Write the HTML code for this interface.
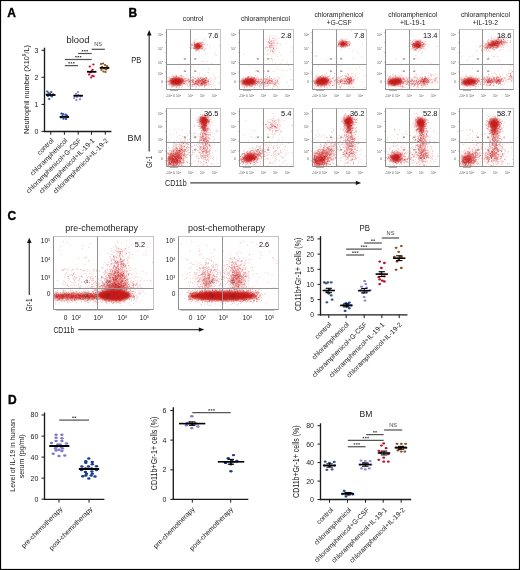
<!DOCTYPE html>
<html><head><meta charset="utf-8"><style>
html,body{margin:0;padding:0;background:#fff;}
svg{display:block;font-family:"Liberation Sans", sans-serif;will-change:transform;}
text:not([fill]){fill:#222;}
</style></head><body>
<svg width="520" height="570" viewBox="0 0 520 570">
<defs>
<marker id="d" markerUnits="userSpaceOnUse" markerWidth="8" markerHeight="8" refX="0" refY="4" overflow="visible"><rect width="8" height="8" fill="#cc2424" fill-opacity=".36"/></marker>
<filter id="b1" x="-50%" y="-50%" width="200%" height="200%"><feGaussianBlur stdDeviation="1"/></filter>
<filter id="b2" x="-50%" y="-50%" width="200%" height="200%"><feGaussianBlur stdDeviation="2"/></filter>
</defs>
<rect width="520" height="570" fill="#fff"/>
<text x="7.2" y="16.9" font-size="12" font-weight="bold" stroke="#000" stroke-width="0.35" fill="#000">A</text>
<text x="66.5" y="42.5" font-size="9" textLength="22.9" lengthAdjust="spacingAndGlyphs">blood</text>
<path d="M44.5 47.7L44.5 132.1" stroke="#1a1a1a" stroke-width="1.35"/>
<path d="M43.9 131.5L111.4 131.5" stroke="#1a1a1a" stroke-width="1.35"/>
<path d="M41.5 131.4L44.5 131.4" stroke="#1a1a1a" stroke-width="1"/>
<text x="38.4" y="133.8" font-size="7" text-anchor="end">0</text>
<path d="M41.5 104.4L44.5 104.4" stroke="#1a1a1a" stroke-width="1"/>
<text x="38.4" y="106.8" font-size="7" text-anchor="end">1</text>
<path d="M41.5 77.3L44.5 77.3" stroke="#1a1a1a" stroke-width="1"/>
<text x="38.4" y="79.8" font-size="7" text-anchor="end">2</text>
<path d="M41.5 50.3L44.5 50.3" stroke="#1a1a1a" stroke-width="1"/>
<text x="38.4" y="52.8" font-size="7" text-anchor="end">3</text>
<path d="M50.8 131.5L50.8 134.7" stroke="#1a1a1a" stroke-width="1"/>
<path d="M64.4 131.5L64.4 134.7" stroke="#1a1a1a" stroke-width="1"/>
<path d="M78.2 131.5L78.2 134.7" stroke="#1a1a1a" stroke-width="1"/>
<path d="M91.5 131.5L91.5 134.7" stroke="#1a1a1a" stroke-width="1"/>
<path d="M105.3 131.5L105.3 134.7" stroke="#1a1a1a" stroke-width="1"/>
<text x="28.6" y="89.5" font-size="7.8" textLength="89" lengthAdjust="spacingAndGlyphs" text-anchor="middle" transform="rotate(-90 28.6 89.5)">Neutrophil number (X10<tspan font-size="5" dy="-2.6">9</tspan><tspan dy="2.6">/L)</tspan></text>
<ellipse cx="47.3" cy="91.4" rx="1.2" ry="1.0" fill="#34507e"/>
<ellipse cx="51.2" cy="92" rx="1.2" ry="1.0" fill="#34507e"/>
<ellipse cx="49.9" cy="93.7" rx="1.2" ry="1.0" fill="#34507e"/>
<ellipse cx="47.9" cy="96" rx="1.2" ry="1.0" fill="#34507e"/>
<ellipse cx="51.8" cy="96.6" rx="1.2" ry="1.0" fill="#34507e"/>
<ellipse cx="49.2" cy="99" rx="1.2" ry="1.0" fill="#34507e"/>
<ellipse cx="46.6" cy="94.6" rx="1.2" ry="1.0" fill="#34507e"/>
<ellipse cx="53.2" cy="94.2" rx="1.2" ry="1.0" fill="#34507e"/>
<ellipse cx="50.5" cy="95.5" rx="1.2" ry="1.0" fill="#34507e"/>
<ellipse cx="48.5" cy="93" rx="1.2" ry="1.0" fill="#34507e"/>
<path d="M46.1 95L55.5 95" stroke="#000" stroke-width="1.8"/>
<ellipse cx="61.5" cy="113.6" rx="1.2" ry="1.0" fill="#1d48a0"/>
<ellipse cx="63" cy="114" rx="1.2" ry="1.0" fill="#1d48a0"/>
<ellipse cx="65.5" cy="114.5" rx="1.2" ry="1.0" fill="#1d48a0"/>
<ellipse cx="67" cy="115.5" rx="1.2" ry="1.0" fill="#1d48a0"/>
<ellipse cx="61" cy="117.5" rx="1.2" ry="1.0" fill="#1d48a0"/>
<ellipse cx="63.5" cy="118.8" rx="1.2" ry="1.0" fill="#1d48a0"/>
<ellipse cx="66" cy="119" rx="1.2" ry="1.0" fill="#1d48a0"/>
<ellipse cx="67.5" cy="117.3" rx="1.2" ry="1.0" fill="#1d48a0"/>
<ellipse cx="62.5" cy="116" rx="1.2" ry="1.0" fill="#1d48a0"/>
<ellipse cx="65" cy="116.5" rx="1.2" ry="1.0" fill="#1d48a0"/>
<path d="M59.7 116.9L69.1 116.9" stroke="#000" stroke-width="1.8"/>
<ellipse cx="78" cy="92" rx="1.2" ry="1.0" fill="#8c84d4"/>
<ellipse cx="76" cy="93.7" rx="1.2" ry="1.0" fill="#8c84d4"/>
<ellipse cx="74.7" cy="96" rx="1.2" ry="1.0" fill="#8c84d4"/>
<ellipse cx="74.3" cy="97.9" rx="1.2" ry="1.0" fill="#8c84d4"/>
<ellipse cx="76.4" cy="99.9" rx="1.2" ry="1.0" fill="#8c84d4"/>
<ellipse cx="79.9" cy="99.2" rx="1.2" ry="1.0" fill="#8c84d4"/>
<ellipse cx="78.2" cy="95" rx="1.2" ry="1.0" fill="#8c84d4"/>
<ellipse cx="80.5" cy="96.5" rx="1.2" ry="1.0" fill="#8c84d4"/>
<ellipse cx="77" cy="97" rx="1.2" ry="1.0" fill="#8c84d4"/>
<path d="M73.5 95.7L82.9 95.7" stroke="#000" stroke-width="1.8"/>
<ellipse cx="89.8" cy="66.5" rx="1.2" ry="1.0" fill="#c0102c"/>
<ellipse cx="93.4" cy="64.6" rx="1.2" ry="1.0" fill="#c0102c"/>
<ellipse cx="92.6" cy="69.8" rx="1.2" ry="1.0" fill="#c0102c"/>
<ellipse cx="89.1" cy="74.4" rx="1.2" ry="1.0" fill="#c0102c"/>
<ellipse cx="92.4" cy="75.7" rx="1.2" ry="1.0" fill="#c0102c"/>
<ellipse cx="91.1" cy="77.6" rx="1.2" ry="1.0" fill="#c0102c"/>
<ellipse cx="93.7" cy="76.3" rx="1.2" ry="1.0" fill="#c0102c"/>
<ellipse cx="90.4" cy="72.4" rx="1.2" ry="1.0" fill="#c0102c"/>
<ellipse cx="91.7" cy="71.1" rx="1.2" ry="1.0" fill="#c0102c"/>
<path d="M87 71.8L96.4 71.8" stroke="#000" stroke-width="1.8"/>
<ellipse cx="101" cy="64" rx="1.2" ry="1.0" fill="#8e5218"/>
<ellipse cx="103" cy="63.5" rx="1.2" ry="1.0" fill="#8e5218"/>
<ellipse cx="105" cy="65" rx="1.2" ry="1.0" fill="#8e5218"/>
<ellipse cx="107" cy="66" rx="1.2" ry="1.0" fill="#8e5218"/>
<ellipse cx="102" cy="67" rx="1.2" ry="1.0" fill="#8e5218"/>
<ellipse cx="104" cy="68.5" rx="1.2" ry="1.0" fill="#8e5218"/>
<ellipse cx="106" cy="69.5" rx="1.2" ry="1.0" fill="#8e5218"/>
<ellipse cx="101.5" cy="70" rx="1.2" ry="1.0" fill="#8e5218"/>
<ellipse cx="103.5" cy="71.5" rx="1.2" ry="1.0" fill="#8e5218"/>
<ellipse cx="105.5" cy="72" rx="1.2" ry="1.0" fill="#8e5218"/>
<ellipse cx="100.8" cy="68" rx="1.2" ry="1.0" fill="#8e5218"/>
<ellipse cx="107.5" cy="68.5" rx="1.2" ry="1.0" fill="#8e5218"/>
<path d="M99.9 67.8L109.3 67.8" stroke="#000" stroke-width="1.8"/>
<text x="54.2" y="141" font-size="6.8" text-anchor="end" transform="rotate(-45 54.2 141)">control</text>
<text x="67.8" y="141" font-size="6.8" text-anchor="end" transform="rotate(-45 67.8 141)">chloramphenicol</text>
<text x="81.6" y="141" font-size="6.8" text-anchor="end" transform="rotate(-45 81.6 141)">chloramphenicol+G-CSF</text>
<text x="94.9" y="141" font-size="6.8" text-anchor="end" transform="rotate(-45 94.9 141)">chloramphenicol+IL-19-1</text>
<text x="108.7" y="141" font-size="6.8" text-anchor="end" transform="rotate(-45 108.7 141)">chloramphenicol+IL-19-2</text>
<path d="M64.8 65.6L78 65.6" stroke="#555" stroke-width="1.25"/>
<rect x="68.4" y="62.1" width="1.5" height="1.4" fill="#444"/>
<rect x="70.7" y="62.1" width="1.5" height="1.4" fill="#444"/>
<rect x="73.0" y="62.1" width="1.5" height="1.4" fill="#444"/>
<path d="M64.8 59.5L91.7 59.5" stroke="#555" stroke-width="1.25"/>
<rect x="75.2" y="56.0" width="1.5" height="1.4" fill="#444"/>
<rect x="77.5" y="56.0" width="1.5" height="1.4" fill="#444"/>
<rect x="79.8" y="56.0" width="1.5" height="1.4" fill="#444"/>
<path d="M78 53.5L91.7 53.5" stroke="#555" stroke-width="1.25"/>
<rect x="81.8" y="50.0" width="1.5" height="1.4" fill="#444"/>
<rect x="84.1" y="50.0" width="1.5" height="1.4" fill="#444"/>
<rect x="86.4" y="50.0" width="1.5" height="1.4" fill="#444"/>
<path d="M91.7 49.3L104.8 49.3" stroke="#555" stroke-width="1.25"/>
<text x="98.2" y="46.2" font-size="5.6" text-anchor="middle" fill="#444">NS</text>
<text x="128.6" y="17" font-size="12" font-weight="bold" stroke="#000" stroke-width="0.35" fill="#000">B</text>
<text x="193" y="21.2" font-size="6.8" text-anchor="middle">control</text>
<text x="265.5" y="21.3" font-size="6.8" textLength="49" lengthAdjust="spacingAndGlyphs" text-anchor="middle">chloramphenicol</text>
<text x="339" y="17.3" font-size="6.8" textLength="49" lengthAdjust="spacingAndGlyphs" text-anchor="middle">chloramphenicol</text>
<text x="339" y="24.8" font-size="6.8" text-anchor="middle">+G-CSF</text>
<text x="412.7" y="17.3" font-size="6.8" textLength="49" lengthAdjust="spacingAndGlyphs" text-anchor="middle">chloramphenicol</text>
<text x="412.7" y="24.8" font-size="6.8" text-anchor="middle">+IL-19-1</text>
<text x="485.4" y="17.3" font-size="6.8" textLength="49" lengthAdjust="spacingAndGlyphs" text-anchor="middle">chloramphenicol</text>
<text x="485.4" y="24.8" font-size="6.8" text-anchor="middle">+IL-19-2</text>
<text x="131.2" y="63.2" font-size="8.6" textLength="10" lengthAdjust="spacingAndGlyphs">PB</text>
<text x="127.6" y="140.7" font-size="8.6" textLength="13.6" lengthAdjust="spacingAndGlyphs">BM</text>
<path d="M149.2 34L149.2 151.5" stroke="#444" stroke-width="1.3"/>
<path d="M149.2 30L146.9 35.4L151.5 35.4Z" fill="#111"/>
<text x="152.3" y="161.9" font-size="9" textLength="11.8" lengthAdjust="spacingAndGlyphs" text-anchor="middle" transform="rotate(-90 152.3 161.9)">Gr-1</text>
<text x="165.1" y="185.7" font-size="8.5" textLength="21.6" lengthAdjust="spacingAndGlyphs">CD11b</text>
<path d="M190.2 182.9L357 182.9" stroke="#444" stroke-width="1.3"/>
<path d="M361.2 182.9L355.8 180.7L355.8 185.1Z" fill="#111"/>
<rect x="166.5" y="29.5" width="54" height="60" fill="none" stroke="#c4c4c4" stroke-width="1"/>
<ellipse cx="176.5" cy="81.5" rx="7.0" ry="3.9" fill="#c21a16" fill-opacity="1" filter="url(#b1)" transform="rotate(-6 176.5 81.5)"/>
<path transform="scale(.1)" d="M2043 395l-9 14-12 10-54-22-22-7 0 27-5-11-37 33 4 9 6-3 2-15 0 12 1 4 13-16 1 1 8 12 0 6 2-9 0-12 0-8 1 16 0-12 1 25 1-5 1 2 1-2 0-2 0-1 1-13 0 18 0 2 1-5 5-7 0 12 1-4 3 1 0-10 0 2 2 11 1-7 1-2 2 10 0-6 0 6 1-10 0-1 1 8 0-5 2-2 0 8 1 1 0-2 1-1 0-21 1 23 1-20 0 14 1 6 0-3 0-10 1 0 0 8 0-2 0-8 0 6 1 8 0-2 1-8 0 4 1-4 0 11 1-3 1-12 0 12 0 5 1-5 0 2 1 2 0-4 1-6 1 0 1-2 0 3 0 9 2-8 0-4 0-5 0 17 1-22 1 1 0 17 0-18 2 17 0-3 2 9 2-5 1-11 0 13 2-14 1-4 0 6 1-11 1 14 2 11 3-16 1 4 0-5 2 5 3-6 0-2 6-6 0 17 2 7 2 3 3-28 1 24 2-13 4-3 1 16 5 0 10-6 4 10 20-3 119 14-92 8-60 9-7-13-4 8-3 3-3-3-2-13-1 8 0-17 0 7-3 7-2 5-1-19 0 15 0-12-1 2-1 0 0-4-1 18 0-8-1 11 0-2 0-7-1-12-2 18 0-8 0-11-1 9 0 7-1-13 0 9-1 1 0 16-1-15 0-12 0 6-1 1 0 11-1-16 0 17 0 5-1 2-1-7-1-21 0 21-1-10 0 7 0-7 0-1-1 12-1-10 0-12 0 26 0-20 0-3-1 6 0 14 0 3 0-1 0-7-1-13-1 16 0-10-1-2 0 10 0-7 0 15 0-15 0-4-1 9 0-17 0 13 0-12 0 28 0-16 0-6-1 21 0-11 0-13 0 2-1 4 0 8 0-18 0 6 0 1 0-2-1 9 0-2-1 4 0 1 0-15 0 26 0-22 0 14-1-15 0 6 0-6-1 15 0-10 0-2-1 0 0 11-1-10 0-8 0 16 0-7 0-9-1 8-1 10 0 10-1-14 0-2-1 14 0-27 0 14 0 11 0-6-1-18 0 1 0 24-1 1 0-9 0-17-1 8 0 18 0-14 0 14-1-15 0 0 0-5 0 6 0 5-1-15 0 18-1 4 0-22 0 12 0 6 0-9-1-3 0 2 0 4-1-1 0 6 0 0 0-14-1 11-1-5 0 7 0-2 0-5-1-9 0 6 0 2 0-9-1 19 0-16 0 19-1 1 0-9 0-10-1 17 0-15 0 5-1 7-1 3 0-14-1 14 0-5 0-8-1-7 0 25 0-20 0 3-1 10 0-18 0 7-1 11 0-10 0 7 0 8 0-14 0-1 0-5-1 17 0-17 0 8-1 5 0-6-1-4 0 1 0 2-1 2 0-12-1 16-1 5 0-9 0-1 0-6-1-3-1 16 0-3 0 11-1-16 0-10 0 12-3 12-1-9 0 11-1-24-1 18-1-13 0 3 0-1-1-4-6 4-3 17 0-20-1-2-3 18 0-21-2-2-9 9-4 19-2-21-3-4-16 19 21 10 19 1 4 2 0-6 1 2 4 2 5 0 0-1 0 5 1-3 1 2 4-5 0 26 1-21 0-6 3 7 1 7 1-3 0-7 1 13 4-17 0-1 1 20 1-17 1 0 0 19 0-2 0-9 1 18 0-29 0 4 1-4 1 11 1-7 1 6 1 1 0-6 1 5 2 4 2 4 0-11 0 1 1 10 3 0 0-10 0-5 0 4 2-6 0 2 1 0 1-3 0 1 2 5 2 2 0-3 3 4 0 0 2 13 3-20 0 2 1 2 4-2 5 8 7-11 2 3 2 2 0 0 1 4 7-4 0 4 3 2 8 14 5-7 5-8 6-4 103 43-161-8-9-11-31 1 97 29 94 6 15 10-140 59 14-3 34-1 45 20-180 27-44-15-103 34 127-8 178 10-7 19-56-7-304 56 133-4 134-13 85-9 7 7 48 14 49 28-40-3-77 11 0-4-3 3-1 1-5-11-2 6-8-24-12 21-18 6-5 1-5-7-14 6-3-6 0-21-10 21-5 6-22-8-17 6-2-12-9 7-9 7-27-22-12 10-37-5-3 6-11 3-7-19-2 11-1 18-1 0-3-21-2-2-7 0-5 23-12-2-19-10 0-4 0-10-3 12-1 7 0 7-2-29-1 6-3 17-5-8-10 6-3-8-1-13 0 14 0 7-18-11-17 19-18-7-8 2 4 26 13-12 2 15 1 6 3-24 3 0 2 11 0-2 2 14 0-4 1 1 3-2 1 6 0-6 2 1 1-18 0-5 0 27 2-12 0 13 3-23 0 15 5-9 1-3 1-5 0 5 0 5 1 9 1-10 1-7 2 16 0-6 0-1 0-10 4 15 1 7 5 2 0-27 2 27 0-28 1 12 3-10 0 17 0 7 1-23 2 9 1-13 0 26 0-12 0-14 3 18 0 11 4-24 3 13 1-10 0 18 1 1 2-20 0 18 0-10 4 11 1-9 1 12 1-5 1-8 1-9 1 0 1 4 0 15 0-5 1-7 0 11 2-6 0 0 1 10 1-27 3 11 4 4 0-7 1 18 2-3 0-16 3 10 1 9 2-18 3 3 0 2 1 11 3-4 1-2 3-14 0 15 1-5 5-11 2 3 1-4 3 16 1-2 2 7 0 4 1-8 0-11 1-4 2 18 2 0 0-8 1 11 1-11 3 13 1-1 1-16 3 16 1-27 1 20 0-9 5-8 3 13 5-10 1 16 4 2 0-22 0-2 8 25 0-20 2 22 1-17 2 10 4 8 4-9 1 0 1 9 1-26 2 12 4 3 1 1 1-9 7 18 1-5 3-10 3 7 5 7 7-3 1 5 1-3 2-7 0-8 4 5 2 7 3 3 1 2 0-14 3 1 4-15 7 5 1 16 6-14 3 6 3-5 1 21 2-25 1 23 3 2 3-4 2-11 1 15 0-6 1 3 3 0 1-14 0 16 2-8 2-11 2-4 1 24 0-16 2-7 1 17 1-14 1 15 0-18 1 19 0-3 1-2 0-11 1 11 0 9 1-1 0-11 1 3 2-4 5 4 1 3 1-22 2 1 1 24 1 0 0-4 1-19 1 0 0 4 2 17 1 1 0-1 3-7 0-4 1 5 0-8 0 11 3-3 0 8 0 1 1-10 2-4 1 2 1-15 2 28 0-9 1-18 0 28 0-3 1-10 1 6 0 6 0-22 1 22 0-17 1-8 0 14 1 8 0-8 0 5 1-10 2 1 1 14 0-12 2-3 2 3 0-10 1 5 1 1 0 3 2-7 0 12 1-17 1 25 0-2 1 4 0-18 2 9 2-15 0 18 0 6 2-1 0-11 0 11 0-5 1 5 0-23 2 23 1-4 0-5 1-2 2 3 2 3 0-21 0 24 1-21 2 9 0 14 0-4 1-17 11 1 3 17 0-7 5 4 2-8 11-1 10-7 9 15 16-13 18 6 6-13 38 55-10-11-43-9-3 21-13-7-15-10-6-5-15 4 0 12-2-18 0 18-3-18-1 12-1-14-1 5-3-4-1 8-1-8-4 25 0-27-1 14 0-6-1-8 0 19-1-6-2-1-2 7-3-16-2 17 0-6-1 4-1-2 0 7 0 1-1-12-1 7 0-5-1 5-1-1-1-12-1 6 0-12-1 2-1 19-1-6 0-8-1-4 0-1-1 15-1 7-1-5 0 5 0 4 0-15-1-9 0 4-1 15-1-9 0-9-1 15 0-5 0-12-1 16-2 0 0 5-1-20 0 14-1-5 0 15 0-24-1 15-1-13 0 13-2-10 0 4 0-2 0-1-1-9 0 21-1 4 0-12 0 4-3-6-1 1 0-12 0 11-1-10 0 10-1-3 0 20 0-17-1 10 0 6-1-23-1 21-1-11 0 8-2 4 0-6 0 5 0-6 0 9-1-4 0-14-1 14 0-7 0 2 0-11-1 1-1 12-1 4-1-16-1-9-2 6-1 22-1-27-1 0 0 27-1-2-2-21 0 10 0-15-2 18 0-9 0 19 0-9-4 5 0-11 0-9 0 15-2-15-2-5-1 23-2-11 0 5-1-12 0 12-2-13-1 3-3-1 0 4-1 6-1-7 0-6 0 14 0 6-1 5 0-13 0-10-1 21 0-17-1 5-1 6-1-13 0 6-3 7-2 2-2-6-1-9-3-3-1-3 0 19-1-8 0 14-2 0 0-16-1 12-1-9-1 11-1-12 0-7-1 18-1-20 0 4 0 17-1-1 0-16-2 17 0-16 0 14-1-18-1-3 0 22-5 0 0-3-2 5-3-5-1-10-1-10 0 14-1 7-5-8 0-11-1 18-3-15 0-3-1 3-2 6 0-9-1 0-2 13 0 0-9-7-7 14 0-17 0 12-1-13-1 17-1 3-1-5-1-19-3 5 0 8 0-7-1-4-3-1-1 7-2 15-2-11-4 2-2-6-1-5-14-3-3 3-1 20-3-8-4-5 0-9-8-1 0 19-1 9 0-23-1 5 0-6 0 20-5-12-2 14-2-4 0 2-4-15-3 12 0-14-1 18-1-14 0-9-5 0-4 18 0-13-1 5-3 16-4-4 0-17-1 11 0 11-1-2 0-1 0-24 0 14-1-16-1 18-1-13-1 2 0 10-1-4-1 0-1-2-1-9-2 17-1-12 0 18-3-23-2 9-1 18-2-28 0-1-2 17 0-7-1-3-3 4-1 13 0-2-1 2-1-4-1-12 0 2 0-6 0 25-1-17 0 9-1 5 0 0 0-5-1-10-1 4-3-6 0 5-4-1-1 10 0-14 0 14-1-6-2-8-2 6-1 0 0 7 0-2-1-18-3-1 0 4-2 2-1-1-3 17-2-15 0 6 0 1-1-12-2-1-2 9-5-8 0 19-2 0-2-20-2 6-4 7-2-8 0 18-1-14-1 16 0-15-1-1-1 16-3-10-1-8-9 9-1-16-9 13-2 14-4-26-3 16-2-19-3 5-3 24 0-25-4-4-1 10-2 6-2-13 3 39 10-8 4 1 1 14 20-10 4-9 1 9 1 8 2-12 5 18 4 6 0-18 3 9 1-19 2 5 3-4 3 12 3-14 1 18 2-18 2 18 10-14 1-4 0 6 3 20 2-23 5 9 3 6 0 1 6-11 1-6 0 1 6 0 0 11 3-2 3-10 1 3 1 6 1 16 3-24 1 14 1-16 3 3 0 11 4-1 11-1 0 12 3-21 16-2 14 0 4 11 4-6 13 9 2-14 5-1 1 23 11-12 1-11 2 14 7 9 0-24 6 8 3 5 8 11 2-17 0 18 1-24 2 9 0 2 1-7 4-4 3 25 4-22 3-3 1 6 2-1 3-6 2 10 0-2 3 0 1 7 4-15 1 2 6 1 2-3 1 4 2 24 2-21 0 7 3-14 1 5 1-3 1 1 2-1 3 14 2-16 2 12 0-3 0-9 5 21 1 7 0-20 1 3 6 10 2-19 3 8 2-3 1 4 2 5 1-12 2-3 2 9 1-5 3-2 0 15 1 0 0-4 2-9 4 6 1-3 0-7 3 12 2-6 0-5 1 5 5-7 7 24 0-15 1 6 1-10 1 9 2-4 1 15 3-25 2 8 1 5 4-1 0-4 1 2 1 6 3-14 1 2 3 2 11 4 6 7 1-13 7-2 14 2 7 20 3-22 27 13 10 31-91 1-17-15-85-2-3 9-145 0-17-7-12 9-16-6-5 0-43-3-3-2" fill="none" marker-start="url(#d)" marker-mid="url(#d)" marker-end="url(#d)"/>
<path d="M190.5 29.5L190.5 89.5" stroke="#939393" stroke-width="1"/>
<path d="M166.5 64.5L220.5 64.5" stroke="#939393" stroke-width="1"/>
<path d="M166.5 29.5L166.5 89.5" stroke="#8c8c8c" stroke-width="1"/>
<path d="M166.5 89.5L220.5 89.5" stroke="#8c8c8c" stroke-width="1"/>
<rect x="183.8" y="58.1" width="2.2" height="1.6" fill="#888" fill-opacity="0.75"/>
<rect x="194.1" y="58.1" width="2.2" height="1.6" fill="#888" fill-opacity="0.75"/>
<rect x="183.8" y="70.4" width="2.2" height="1.6" fill="#888" fill-opacity="0.75"/>
<rect x="194.1" y="70.4" width="2.2" height="1.6" fill="#888" fill-opacity="0.75"/>
<text x="163.0" y="36.0" font-size="3.4" text-anchor="end" fill="#555">10<tspan font-size="2.4" dy="-1.4">5</tspan></text>
<text x="163.0" y="49.8" font-size="3.4" text-anchor="end" fill="#555">10<tspan font-size="2.4" dy="-1.4">4</tspan></text>
<text x="163.0" y="63.6" font-size="3.4" text-anchor="end" fill="#555">10<tspan font-size="2.4" dy="-1.4">3</tspan></text>
<text x="163.0" y="75.4" font-size="3.4" text-anchor="end" fill="#555">10<tspan font-size="2.4" dy="-1.4">2</tspan></text>
<text x="163.0" y="82.9" font-size="3.4" text-anchor="end" fill="#555">0</text>
<text x="173.5" y="97.1" font-size="3.4" text-anchor="middle" fill="#555">-10<tspan font-size="2.4" dy="-1.4">2</tspan><tspan dy="1.4"> 0 10</tspan><tspan font-size="2.4" dy="-1.4">2</tspan></text>
<text x="190.5" y="97.1" font-size="3.4" text-anchor="middle" fill="#555">10<tspan font-size="2.4" dy="-1.4">3</tspan></text>
<text x="202.5" y="97.1" font-size="3.4" text-anchor="middle" fill="#555">10<tspan font-size="2.4" dy="-1.4">4</tspan></text>
<text x="214.5" y="97.1" font-size="3.4" text-anchor="middle" fill="#555">10<tspan font-size="2.4" dy="-1.4">5</tspan></text>
<rect x="170.0" y="90.1" width="8" height="0.9" fill="#888" fill-opacity="0.7"/>
<rect x="164.9" y="32.5" width="1.6" height="0.6" fill="#888" fill-opacity="0.7"/>
<rect x="164.9" y="42.3" width="1.6" height="0.6" fill="#888" fill-opacity="0.7"/>
<rect x="164.9" y="52.1" width="1.6" height="0.6" fill="#888" fill-opacity="0.7"/>
<rect x="164.9" y="61.9" width="1.6" height="0.6" fill="#888" fill-opacity="0.7"/>
<rect x="164.9" y="71.7" width="1.6" height="0.6" fill="#888" fill-opacity="0.7"/>
<rect x="164.9" y="81.5" width="1.6" height="0.6" fill="#888" fill-opacity="0.7"/>
<text x="218.5" y="37.5" font-size="7.5" text-anchor="end" fill="#111">7.6</text>
<rect x="166.5" y="108.5" width="54" height="58" fill="none" stroke="#c4c4c4" stroke-width="1"/>
<ellipse cx="203.7" cy="120.3" rx="3.4" ry="3.6" fill="#c21a16" fill-opacity="0.95" filter="url(#b1)"/>
<ellipse cx="204.0" cy="125.8" rx="2.2" ry="3.0" fill="#c21a16" fill-opacity="0.55" filter="url(#b1)"/>
<ellipse cx="174.5" cy="158.5" rx="8" ry="5" fill="#d02828" fill-opacity="0.4" filter="url(#b2)" transform="rotate(-45 174.5 158.5)"/>
<path transform="scale(.1)" d="M2019 1107l70 17-33 14-61 23 6 8 2-25 3 18 6 6 3-5 2-12 5-8 4 11 2-5 1 14 5 6 3-27 2 6 2 8 3 2 1-6 0 6 1-10 1 19 0 1 4-7 2-5 0 1 1 10 6-18 10 14 3-6 3 0 2 11 2-3 3 1 26-12 2 19-6 19-6 7-2-6-8-12-1 15-3-18 0-7-2 6-5 8 0 10-6-23-3 22-1-2-1 2 0-2-1 4 0-20 0-1-1-5 0 26 0-26 0 18-2-1-1 11-1 1 0-9-1 9 0-2-1-10-1-15 0 24 0 3-1-7 0 4-1-5 0 5-2-2 0-16-1 20 0-22-1 7 0 16 0-22-1 10 0 1-1 7 0-5 0-18-1 21-1-8 0-10 0 6 0 11-1-5 0 8 0-11-1 1 0-7-1 17 0-12 0 16 0-24-1 7 0 2 0 1-1-3 0 9-1-11-1 15 0-6 0-2-1 11 0 1 0-18 0-3 0 18-1-10 0 5 0 7-1-24 0 21 0-12 0 4-1-8 0-2 0 16-1-1 0 6-1-22-2 17 0-18 0 17 0 0-1-4 0-10 0 12-1-13 0 16-1 5-1-9 0-6 0 14-1-13 0-12 0 21-1-3 0 5 0 2-1-6 0 1 0-13-1 13-1-9 0 2-1 6 0-10-1 10 0-13 0 1-1 19 0-17-1-9 0-2 0 24 0 4-1-12-2 8 0 2-1-23-1 0 0 9 0-6-1 6 0 9-1-11-2 8 0 3-3 2 0-2-1 5 0-21-2 11-2-14 0 23-2-19 0 12 0 2 0-1-1 0-2-8 0 18-2-12 0-15-1 3-1 3-6 10-2 9-4-1-3-25-2 24-14-10-4 24 10 13 2 1 2-22 4 4 0 1 1 18 5 4 2-22 3 12 2-9 0-7 2 18 3-2 0-4 1 6 1-3 1 3 2-5 1-11 0 25 0-21 1 9 2-16 1 1 0 17 0 5 0-23 1 11 0 1 2 8 3 8 1-19 0-6 0 6 1-2 0-3 3 3 0 1 1 7 0 4 2-8 1 8 1 2 0 3 1-20 1 2 0 13 1-1 1 6 0 4 0-8 1 5 0-20 0 1 0 22 0-21 1 9 0 8 1-16 0-9 0 21 0-17 0 6 0 0 1-6 0 3 0 17 0 3 1-20 1 19 0-26 0 19 0-15 1 10 1-5 0 1 0-1 0 16 0-15 1-2 0 6 1 12 0-17 0 1 0-5 1 22 1-21 1-1 2 2 0 11 0-13 1 13 0 0 0-17 0 16 1-2 1 5 0 4 0-8 1 2 0-14 0 16 1 7 0-17 1 4 0-2 0 1 0-13 0 0 1 11 0 18 0-1 1-23 0 2 0-3 0-4 1 21 0 6 0-20 0 2 1 19 0-23 1 8 1-12 0 23 2-11 1 11 0-23 0 15 0 7 0-17 0-1 0 6 2 1 0 16 1-3 2 4 1 0 2-27 0 27 0-7 0-5 0-3 1 14 0-3 0-11 1 2 1 7 1-1 0-5 0-16 0 5 1-6 1 22 0-14 1-7 1 3 0-2 0 15 1-3 0-12 5 16 0-13 0 15 0-16 1 17 1-7 0 14 1-13 1 0 0-12 0-2 1 11 0 14 2-23 1 16 1-10 2 5 1 4 1 3 0 2 1-19 3 12 19 1 11 11-5 29-18-3-12-9-1-11-6 5 0-3-9 1-2 12-4 0-3-11-1 17-1-14 0-11 0 0-1 27-1-26 0 23 0 5 0-28-1 24-1-17 0-4 0 8-1-2 0-5-3 14 0 10 0-20-1 9 0-13-1 21-1-16 0 19 0-8 0 4 0-3-1-9 0 1 0-12 0 17 0 4-1-16-1-7 0 6 0 20 0-5-1-14 0 3-1 16 0-4-1-1 0-14 0 1-1 0 0 17 0-17-1 18-1 3 0-9 0 9 0-8 0 2-2-3 0-2 0-16 0 21-1-14 0-3 0 20 0-4-1-10 0 14-1-4 0-1-1 1 0-12 0-9 0 23 0-2-1-11 0-1 0 13 0-23-1 24-2-5 0 6-1-7 0 5-2 4-1-24 0 26 0-17 0-12-1 20 0 6-2-15 0-4-1 20 0-17 0 17-1-12 0 7-3-11 0 4-1-8-1 21-2-27-2 0 0 27-1-28-1 5 0 13 0-2-1-12 0-2-1 14-1-1-3-4-4 16-1-14-4-11-2 5-1-2 0-5-1 29-2-13-4-2-13 12-34-4-2 15 44-2 2 1 4-2 6-4 1 24 2-18 1 18 6-4 0-7 1-4 3-2 1-3 0 7 3 10 3-4 0-15 0 13 1 1 0-7 1 17 0-10 1-15 0 28 1-27 0 2 0 13 0-11 0 14 1-7 1 10 0-15 0-1 2 18 0-4 1-8 0-2 1-3 0 13 1-17 0 23 1-15 0-5 1 9 1-10 1 17 0 0 2-14 2 11 1-4 0-3 0 8 1-20 1 13 0 14 0-5 0-3 1-1 1 1 0 3 1-17 0 9 0 7 1-18 1 19 0-11 2 8 0-14 0 10 2-9 0 16 1-11 0 5 1-6 0 12 2-22 0 27 0-16 1-4 0 10 3 5 1-17 1 3 0 15 2 0 1-7 6-15 0 1 2 25 1-11 1 11 4-4 0 3 2-18 2 19 2-6 0-13 9 10 1 7 6-25 78 49-8 6-5-21-5 18-17-13-38 3-1-9-14 7 0-1-6-5-5 15-2-7-1-7-2-5-2 20-1-9-1 16-1-17-1 15-1-13-1 9-1-1-2-18-2-1 0 11 0-4-1-6-1 13-2-9-1 4 0-1 0 2-1-5 0-7-3 13 0 15 0-11-1-8 0 14 0-6-1-5-1-11-1 21 0 5-1-16-1 8 0 3 0-16-1-2-1 9-1 1-1-11-1-2 0 15-1 0-1-2-1-7 0 1-1 7 0-2 0 4 0-6-1-11 0 28-1-22 0 0-1 0-2-6 0 18-1-12-1-1 0 4-5 8-1-14-3 18-1 5-1-10-2 1-5-7-113 9-77-14-77-2-42 52 66-21 100 14 29-8 23 1 23 1 0 7 12-6 30 11 15-5 3-13 3 22 1-10 1 8 5-22 1-2 5 13 4 10 2-5 1 9 2-18 1 3 1-14 1 14 0 4 1 11 2-23 2 17 4-21 1 17 1 2 2-2 0-5 4 1 1-8 1 11 2 1 0 7 0-4 2 1 0 0 2-4 1-11 2 18 0-16 3 14 2-7 3-15 2 21 1-11 1 11 4 1 5-21 5 24 0-26 1 28 4-4 5-2 4-15 4 1 1 14 17-17 23 13-13 26-28-10 0 23-19 0-1 1-2-21 0 12-3-13-4 6-5 6-5-18-1 20-2 6 0-8-2-12-4 1 0 11-1 6-3-2 0-18-8 13-4-13 0 23-3-8-1-3-3-4-1 2-3-7 0-2-2 2-1 20 0-10 0-4-1-1-2 7-6 5-3-7-1-14 0 6 0 16-1-4-2-2-2-1-6 3-5-5-36-2-11-2-14 9-4-14-21 4-8 1-23-5-35 5-17 2-32-11-24 20-87 29 80 3 34-17 15 0 35 16 0-19 2 11 4-11 18 22 1-14 26 0 6-11 51-2 39 18 1-8 4 18 1-4 2-3 1-9 2-13 3 11 0-1 1 16 0-1 4 3 3-9 2-9 1 11 0-20 0 19 0-10 2 2 6-1 0-10 3 8 1 16 0-23 1 25 1-5 0-1 1 6 0-25 2 15 0-9 2 12 0-8 1 10 0-1 1 7 0-17 2-1 3 9 1-11 0-1 2 22 0-19 3-5 1 5 0-2 2 0 1 8 1-6 3 15 0-19 1 12 2-13 4 6 1 8 0 10 1-22 1 5 0-11 4 23 3 0 1 1 1-13 3 13 7-21 1 17 5-14 3 2 38 19 10-12-57 23 0 3-1 0-6-9 0 0-6 20-1-13 0 13-2 1 0-15-2 5-1 1-3-11-2 9 0-8-1-4 0 6 0-6 0 21-3-14-1 2-1 11 0 7-1-13-1 2-2-15 0 16 0 9 0-7-2-17 0 25-1-14-2 2 0-1-3-15 0 29-2-29-1 0 0 12-3 3-5-12-1 6-8-2-5 18-2-12 0 14-10-5-6-5-4-2 0-7-4 13-1-17-3 17-4-19-10 21-1-11-55 9-4-7-15 4-20 11-13-5-2 0-9-1-4-13-5 0-5 8-2-5-4-7-4 19-1-2-1 3-1 1-5-16-2-2-3 11-3-8-1 1-1 9-8-2-5-18-8 26-2-14-10 2-2 1-2-5-22 8-14-18 0 21-7 5-3 22 1 1 3-11 13 11 2-5 2-11 9 6 1 11 2-17 15-1 3 22 8-8 6-13 2 2 1 14 0-8 7 8 2 2 0-7 2 4 3-8 1-5 7 22 1-25 2 23 0-5 9-7 3 12 2-5 4 5 0-5 3-8 4-12 9 9 2-11 10 23 2-22 2 23 5-19 2 2 13 12 5-13 16 17 5 5 20-13 4-6 17-2 5 4 6 15 13-17 6 6 2 13 8 0 3-25 7 24 12-19 3-8 0 0 1 29 1-28 0 17 2-1 2 9 2-26 4 23 5-7 4 11 1-8 2-11 1-7 0 14 3-5 2-6 1 11 2-11 0-4 0 11 2 12 4 1 2-3 3-17 1 24 4-11 5-15 3 8 1-9 4 18 1 10 2-14 0-13 2 20 0-9 0-11 4 13 0 3 5-17 2 25 15-11 27-4 27 48-63-21-8 6-10 13 0-3-16-14-3 3-2-9-1 18-2-11-2 18 0-5 0-19-4 18-9-19-3 3 0 14 0-4-1 0-1 10-1-8-3 9-2-22-1 7-3-8 0 11-2 7-2-7 0 4 0-11-1-9-2 9 0 6-4-8-2 16-1-23 0 28-3-3-6-7-4-5-3-10 0 9-3-12-1 2-2 21-1-20-2 15-1-18-4 15-3 5-12-16-27 13-47-8-3 11-15-12-3-5-4 4-2 20-8-16-4-2-3 0 0 20-1-22-5-1-14 16-3-17-4 4-6 19-3-8-4-5-5 2 0 3 0-6 0 13-1-22-1 23-4-1 0-1 0-25-1 23 0-1-2-21-2 23 0-12 0 14-1-24 0 14-2 11-2-18-1 15-5-7-2-2-3-12-1 24-2-26-1 14-10 13-6-8-1-20-1 22 0-12 0 5-3-8-1 10 0-5-5-9 0 5-1 6-1 13-4-4-2-2 0-17-5 11 0 4-3-20-1 25-7 1-1-11-5 5-5-16-3 20-35 5-3-17-2-7-9 46 6 3 15-15 1 12 8-16 5 23 3-21 1 7 4 3 0-12 5 16 7-2 0-7 1-6 2 4 1-5 1 17 1-9 1 3 1 3 8-15 2 7 0 16 1-23 2 24 2 0 1 0 3-9 4-8 1-8 1 6 1-2 0 20 1-24 0 8 1 9 2-19 2 26 0-8 1-2 1-9 1 11 0 8 2-18 2 17 1 1 3-26 0 5 1 7 0-9 2 9 2-2 0 18 0-2 1-16 2-8 2 21 1-19 0-2 1 1 1 18 0-21 1 11 0 12 1-15 0 1 1 4 1-3 1-7 0 25 1-20 1 9 1-11 0 22 0-21 1 5 2-1 1-10 3 21 0-6 1-3 2-11 0 25 3-18 1 11 2-18 4 3 2 2 0 11 0 7 2-24 0 25 1 0 3-11 1-9 0 6 3 1 4-4 1 11 2-21 1 15 0 4 2 0 2 3 3-8 7-5 8 8 3-1 6-15 3 20 4-19 4 24 5-23 6 23 8-12 2 4 17 2 2-14 0 23 4-9 15 6 25-24 13-1 0 3 1 25 10-10 2 10 1-4 5-25 6 26 4-24 6 2 0-3 2 15 4-2 1 7 2 2 1-8 3 2 0-16 2 19 1-6 3-1 2-5 3 1 3 9 0-5 3 6 4-10 1 1 0 9 1-13 1 18 9-13 0-8 1 20 0-18 1 6 2 17 0-17 0 6 2 9 2-11 4 9 2-13 3 15 1-13 1 11 0-21 0 11 7-4 5 13 2-6 1-8 3 1 7-7 45 6-25 21-30 6 0 0-3 12-6 6-5-7-1-6-6 8-3 7 0-12-7-10-2 25-2-11-1-18-2 23 0-23-1 6-2 14-14 0-1 6-1-6-1-11-4-6-3 19-3-19-2-3 0 23-10-17-4 20-4-19-1 3-3 14-3-4-32-1-46-2-10 4-18 5-13-21-3 9-7 2-9 5-2-2-7 7-3-10-4 4-1 8-1-23-1 22-1-13 0-8-1 0-2 9-2-2-1 10-1-3-2 4-1 5-1-7-1-15-4 11-2-2-5-12 0 1-1 13-4 9-1-18 0 15-1-12-1-2-2-6-1 16-1 6-1-17-4 20-1-18 0 11-1-12-1-10-1 9 0-3 0 6-1 7-2-3 0 11-1-12-1 11 0-2-3-2-1 4 0-16-1 8 0-6 0-9-1 16-1-1-1 1 0-16 0 18-1 2-1-5-1 11 0-19-1-3-1 22-3-10-1-19 0 27 0-25-1 27 0-28-1 16-1-15-1 19 0-20-1 28 0-29 0 14-1-10-1 12 0 3-1 10 0 0-3-21 0 5-2 11 0-7 0-15-1 5 0 14-1 6-2-4 0-23-2 13-1-5 0-1-1 6-1-6 0 15-3-3 0-3-1-3-1 9 0-16-2 5-2-1 0 12 0-1-1-9-2 10-4 0-3-16 0 7-1-10 0 19 0-22-1 19 0-15 0 13 0 9-1-5-1 4 0 0 0 3-4-4-1 5 0-24-2 10-1 2 0-5-1 14-1 0 0 3 0-12-3 12 0-2-1-23-1 23 0-27-1 12-2 15-2-24 0 9-1-6 0-4 0 18 0 8-1-19-1-6 0 13-1-10-2 23 0-28-2 13 0 12 0-11-2 2 0-3 0 6 0-3-6-6 0 6-1 9-4-3-2-18-5 10-2-10 0 5-1 12-3-16-3-5 1 52 0 2 7 3 1-1 0-22 1 7 0-1 0 15 0 2 0-8 2-7 1-4 0 2 1 16 1-16 1-1 1 14 0-15 0 12 1-18 2 12 0 9 0-8 1-6 0 0 1 12 0-20 0 25 1-6 1-13 0 17 1-12 0 2 2 14 0-22 0 8 0-9 1 14 2 3 1-7 1 10 1-17 0 11 0-15 1 19 3-1 0-5 0 8 1-12 1-14 0 23 1-17 0 20 1-9 1-3 0 15 1-25 0 6 1 5 0-11 1 3 0 8 1-9 0 11 0 9 0-3 1-9 0 10 0 5 2-8 1-21 0 19 0-2 1 1 0-2 1-3 0 0 1 12 0-2 2-20 1 3 2-5 0 26 0 0 1-20 1 19 1-22 4 6 0 19 2-24 0 12 0-9 2 17 1-12 0-7 0 12 1-11 0-3 1 7 0 1 1-8 0 5 0 0 2-7 1-1 0 14 1 13 0-2 0-2 0 4 1-14 0 13 1-18 2 5 0-10 0 22 0 3 0-9 2 7 0-21 0 1 1 12 0 2 0 4 1-9 0-14 2 2 0 6 0 1 1 18 1-5 0-20 1 23 0-5 1-14 1 12 0 8 1-12 0-3 1 13 0-18 0-1 0 19 3-6 1-11 1-6 0 1 1 12 0 2 0-8 0 8 1 3 1-21 1 5 0 6 3 11 0-1 0-8 0-1 3-9 0 22 0-17 1 13 1-5 0-11 0 19 1 4 0-7 1-16 1 6 1 0 0 18 1-10 0 5 0-12 1-2 0 7 0-1 3 11 1-22 0 0 1 21 0-9 0 1 1 2 0-3 4-11 1 20 0-17 0 17 1-20 2 13 0-11 1 3 0 1 1 4 1 5 0-12 0 15 2-3 0-3 1 7 1-10 1-1 0-2 1 12 0 2 0-3 1-20 1-3 0 26 9-24 1 23 3-9 0 11 3 1 1-20 7 1 0 11 8 0 1-15 5 4 3 5 8 5 2-8 6-11 30 17 2-11 5 13 55-14 1 18 0-21 18 10 3 11 1-2 17-15 4-5 1 9 1 5 3 11 3 3 2-29 0 19 7-12 0 1 1-7 7 10 2 2 1 14 9-17 0 4 1-14 0 2 3 20 0-7 1-14 4 18 6 0 1-18 11 0 1 3 4 18 3-17 0 9 18-14 2 0 1 20 13 0 8 4 8-12 39 15-38 10-48 22-2-15-3-10-2 7-4-10-9 13-2-4-5-2-5-1-8 1-9-8-1 20 0 9-33-2-14 2-6-2-2-10-30 2-13 8-32-13-34 15-4-3-27-10-1 9-2-11 0-5-4-9 0 19-2 1-2-14-2-5-1 13-5-12-4 7-1-8-2 18-2-17-6 15 0 7 0-22-1 19-2-16-1 23 0-8-2-7-1 15 0-17-1-6-2 16-1-1-1 2 0 7-1-12 0 8-1-25 0 17 0-4-1 2 0 0-1-4-1-10-3 12-2 11-1-21 0-3-2 2-1 12 0 4-1 0-1 4 0 6-2-23 0-1 0 15-1 9 0-12-1-5 0 4 0-7 0-1 0 7-1-2 0 16 0-12-1 7 0 5 0-26 0 3 0 20-1-3-1 1 0 0-1-2-1-9 0-1-1 6 0 3-1-3 0-8 0 7 0 6-1-8-1 1 0 5 0-13 0 2 0 11 0-5 0-3-2-5 0 5 0-10 0 12 0 14-1-10-1 11-1-16 0 16 0-26 0 2 0-3-2-1-3 0 0 24-2-18-1 1 0 14 0 2 0-8-1 3-1-4 0-10 0 9 0-10-1 17-1-20 0 10-1 15 0-18 0 0 0 12 0-5-1-3 0-6 0 18-1 4-1-4 0-1-1-5 0 4 0 4 0 0-1-5 0-10 0-9-1 10 0 14 0-18-1 11-1-15 0 10 0 13-1-21 0 22-1-14 0 14-1-26-1 2 0 17-1 3-2-23 0 21 0-17 0 6 0-8-1 21 0-15 0 8 0-15-1 1-2-2 0-1 0 1 0 8-1-6 0 14-1-7 0 3 0-5-1-2 0 5-1 4-1-6 0 14-1 2 0-23 0 11 0 13 0-13-1 13-1-4 0-1-1-8 0-13 0 2-1 13 0 12-1-4 0-21-1 22 0-7-1-2 0 11 0-20-2 18-1 3-3-22-2 2-2 14 0-11-1-4-1-4-1 11-1-10 0 14-1-11 0 20 0-18-2-6-1 27 0 0 0-25-1 12 0-13 0 13 0 0-1-13 0 25-2-9-1-14-1-1-2 18-1-8 0 3-4-12-1 14 0-18-1 4-1 12 0-3-3 11-1-9 6 19 0 22 1-23 3 25 0-15 1-2 0-5 1 10 2 2 0 2 0 5 1-7 2 9 1-28 0 4 1 17 0-12 1-5 0 18 1-9 1 0 0-6 2 18 0-1 0-12 2 10 2-10 1 3 0-1 1 10 1-7 3-17 3 2 0 1 1 4 1 9 0-15 0 4 1 17 0-22 0 0 0 10 0 15 0 1 2-25 1 5 1 22 0-28 0 10 2-7 0 8 7 11 0 4 1-21 0 8 0 8 1-6 0-8 1 13 0-13 0 7 1-2 1-10 0 2 1 12 0 10 3 2 0-20 2 5 2-11 2 8 1-10 0 22 2-19 0 5 3 19 0-24 0 15 1-17 0 4 0 9 0-13 0 12 1-8 1 1 0 0 0-3 1 0 1 12 1-2 1-11 0 12 2-9 0 14 1 5 1-10 1-4 2 8 0 7 1-6 1 4 1-3 1-15 0 1 0 1 1-6 1 9 0-4 1 19 0-18 1 6 1 1 0 2 0-5 1 16 0-16 3 11 0-20 2 16 0-10 1-5 0 26 2-25 5-4 0 7 1-1 2 18 0-19 1 19 2-10 2 2 1-13 0 0 3-2 1 0 0 17 3-14 1 8 3-12 1 19 2-14 2 18 1-11 2 8 2-20 1 1 0 6 2 5 2 4 2-9 5-6 1 4 3 10 2-6 3-8 7 6 27 2 4-8 1 7 18 8 14-3 2 5 61 7 28-15 11-3 7 10 10 11 5-8 27-16 3 2 1-1 5 5 46 13 2-6 22 11 31-17-97 23-44 1-199-1-12 2-5-3 0 0-17 1-9 4-2 1-1-8-8 1-14-2-2 3-1 4 0-6-2 5-6-5-6 4-1 4-3-7 0 6-4-6 0 4-2 2-2 0-3-3-2 3-1-5-8 0-10 0-5-2-20 6-4-3-1-3-3-1" fill="none" marker-start="url(#d)" marker-mid="url(#d)" marker-end="url(#d)"/>
<path d="M190.5 108.5L190.5 166.5" stroke="#939393" stroke-width="1"/>
<path d="M166.5 142.5L220.5 142.5" stroke="#939393" stroke-width="1"/>
<path d="M166.5 108.5L166.5 166.5" stroke="#8c8c8c" stroke-width="1"/>
<path d="M166.5 166.5L220.5 166.5" stroke="#8c8c8c" stroke-width="1"/>
<rect x="183.8" y="136.5" width="2.2" height="1.6" fill="#888" fill-opacity="0.75"/>
<rect x="194.1" y="136.5" width="2.2" height="1.6" fill="#888" fill-opacity="0.75"/>
<rect x="183.8" y="149.0" width="2.2" height="1.6" fill="#888" fill-opacity="0.75"/>
<rect x="194.1" y="149.0" width="2.2" height="1.6" fill="#888" fill-opacity="0.75"/>
<text x="163.0" y="115.0" font-size="3.4" text-anchor="end" fill="#555">10<tspan font-size="2.4" dy="-1.4">5</tspan></text>
<text x="163.0" y="128.2" font-size="3.4" text-anchor="end" fill="#555">10<tspan font-size="2.4" dy="-1.4">4</tspan></text>
<text x="163.0" y="141.2" font-size="3.4" text-anchor="end" fill="#555">10<tspan font-size="2.4" dy="-1.4">3</tspan></text>
<text x="163.0" y="152.7" font-size="3.4" text-anchor="end" fill="#555">10<tspan font-size="2.4" dy="-1.4">2</tspan></text>
<text x="163.0" y="160.2" font-size="3.4" text-anchor="end" fill="#555">0</text>
<text x="173.5" y="174.1" font-size="3.4" text-anchor="middle" fill="#555">-10<tspan font-size="2.4" dy="-1.4">2</tspan><tspan dy="1.4"> 0 10</tspan><tspan font-size="2.4" dy="-1.4">2</tspan></text>
<text x="190.5" y="174.1" font-size="3.4" text-anchor="middle" fill="#555">10<tspan font-size="2.4" dy="-1.4">3</tspan></text>
<text x="202.5" y="174.1" font-size="3.4" text-anchor="middle" fill="#555">10<tspan font-size="2.4" dy="-1.4">4</tspan></text>
<text x="214.5" y="174.1" font-size="3.4" text-anchor="middle" fill="#555">10<tspan font-size="2.4" dy="-1.4">5</tspan></text>
<rect x="170.0" y="167.1" width="8" height="0.9" fill="#888" fill-opacity="0.7"/>
<rect x="164.9" y="111.5" width="1.6" height="0.6" fill="#888" fill-opacity="0.7"/>
<rect x="164.9" y="121.3" width="1.6" height="0.6" fill="#888" fill-opacity="0.7"/>
<rect x="164.9" y="131.1" width="1.6" height="0.6" fill="#888" fill-opacity="0.7"/>
<rect x="164.9" y="140.9" width="1.6" height="0.6" fill="#888" fill-opacity="0.7"/>
<rect x="164.9" y="150.7" width="1.6" height="0.6" fill="#888" fill-opacity="0.7"/>
<rect x="164.9" y="160.5" width="1.6" height="0.6" fill="#888" fill-opacity="0.7"/>
<text x="218.5" y="115.8" font-size="7.5" text-anchor="end" fill="#111">36.5</text>
<rect x="239.5" y="29.5" width="54" height="60" fill="none" stroke="#c4c4c4" stroke-width="1"/>
<ellipse cx="249.0" cy="81.7" rx="7.0" ry="3.7" fill="#c21a16" fill-opacity="1" filter="url(#b1)" transform="rotate(-6 249.0 81.7)"/>
<path transform="scale(.1)" d="M2746 358l-51-10-7 22 2 8 26-17 8 23 3 0 5-3 18-7 30 12 83-23-106 38-9-8-9 15-4-2-6 2-4 11-10-15-3 10-2-5-5 5-6 1-5-16-1 11-1-13-1-4-11 24-1-8-21 7-2-19-34 32 45 13 7-14 11 3 1-11 1 3 0 3 0-3 3 14 1-2 6-4 6 17 1-13 0-6 1 5 6 5 3 1 1 9 1-8 1-9 1-7 14 6 3-3 2-1 2 10 24-1 3-14 4 12 24 3 6 11 113 31-148-10-1-18-12 4-15 17-1 1-1-18-7-2-7 24 0-9-3-16-1-1-3 13-1-9-2 17-2-14-3 20-2-25-6 18-2-10 0-6 0 10-1 8 0-1 0 2-4-12 0-5-1 4-17 12-1 1-9-1-7-5-6 12 2 0 15 26 14-10 16-10 1 17 1 4 15-17 3 13 3 2 9-23 0 16 1-16 2 5 0-1 10 6 6 12 13-18 146 32-116 8-44 5-14-18-6 15 0-13-1-1-2 1-7 4-17-8-6 19-18 9-40-3-202 7 239 0 42 16 52 3 37-12-64 42-23-4-7-2-1-2 10 16 2 20 102-15 44 22 14 30-75-19-59 2-260 18 70 22 207 9 134 2-33 18-33-6-36-6-65 19-88 0-81-10-11 4-60 21 100-8 228 39-35 9-17 5-75-11-2 14 0-2 0-11-19 13-1-26-6 15-12-2-75 10-8-6-12 5-6-22-12 22-4 1-12-3-9-9-5 10-13-13-10 7-2 7-1 4-2-12-3 3-4 1 0 4-1-6-44 5-27 29 7-3 2 3 3-17 2 18 2 2 1-7 3-12 4 13 0 1 5-2 1 2 2 5 8-6 2 5 3-9 1 7 1-22 0 9 0 0 3 19 0-19 4 16 1-15 2 7 0 8 1-21 2 15 1 7 2-19 1 7 1 2 2-15 3 1 0 8 2 18 1-8 1 2 1-22 0 14 2 12 1-3 1-8 1 10 1-1 2-1 3 3 3-6 1-4 2-4 1-6 1 5 0 0 3-7 2 14 5 6 0 0 1-22 1 9 1-3 0 4 1 3 0-12 1 8 1 12 1 1 0-5 0 2 1-1 2 7 0-18 2 6 2 12 1-19 1 15 0-7 0 10 0-15 3 8 1-3 0 0 0 3 2-2 0-12 0 23 2-3 1-16 0 14 3 0 1-22 2 0 1 23 0-18 4-2 0-4 4 23 1-14 2 1 0 15 0 2 2-7 3-8 3 9 0-8 2-10 1 13 8-9 2 4 8 11 2-9 2-8 1 12 5-8 1 17 3-12 4 12 7-11 3 1 1-8 0 7 3 4 2-16 3 19 7 4 0-9 6 1 12-10 4 6 1-7 3 18 0-19 4 22 2-12 3-6 1 18 1-15 1 2 0-12 3 18 7-7 0-4 1-1 1 14 6 2 4-9 0-11 1 17 5-11 2 12 2-2 1 3 1-11 1 12 1-2 2-17 1 2 1 16 1 4 6-3 1 2 2-18 0-4 4 17 0-2 1 3 7-4 2-7 8-5 4 7 5-15 6 22 3 3 4-4 4-10 11 12 2-1 4 4 4-14 12-6 117 14 5-5-44 32-85 8-8-23-4 8-3-4-1 21 0-12-10-11 0 6-3 11-2 3 0-2-4-10-3 0-2 5-2 0-1 11-5-21-2 21 0-3-8-23-1 4-1 6-1 15-2-18-2-9-1 11-5-7-1 21-1-15 0-6-4-1-1 12-1 8-3-4-3-7-1 11 0 4-4-9-1-11 0 21 0-23-4 20-2-4-2-18-1-1-1 12 0-7-1-7-3 9-1 3-2 10-1-21-2 4-1 14-1-2-1 6-2-1 0 4-1-10-2 4-1 2 0-11-1-8-9 9 0 16-1-19-1 10-1-14-2-3-1 21-1 6-2-10-2-6-1 4 0 1-3-2 0 6-1-20-2 14-1-8 0 9-3 1 0-18-1 13-1 8 0-21-5 28-1-11-3 2 0-5-2-10-1 6-2 9-2 1-1-8-1 1-1 6-1-8 0 1-3 13-6-23-2 2-1 2-3 21-1 1-5-13-1 0 0 8 0-22-2 3-3 11 0-5-2-2-2-5-1 7-1-9-1 28 0-1 0-3-2-5 0-18-2 8 0 4-2-11 0 11-1-9-3 0-3 1 0 0-2 17 0 5-2-8-1-11-1 15-2-1-2-23 0 13-5 12-2-6 0 0 0 10-1-11 0-6-1 2-1 9-1-18 0 10-1-13-2 14-2-9-2-3-1 17-1-13-1 0-4 10-1 0 0 4-1-3-3-12 0 7-1 8-1-18 0 0-1 8-2 14 0-6 0-10-1 15 0-23-2 14 0-6-1-7-1 23 0-15-1 18-1-5-1 1-1-17 0-8 0 26-1-12 0-11 0 8-3 4-2 14 0-12-4-10-3 22-2-8 0-7-2-2 0 10 0 0-1-14-1 17 0-6-1-12-1 9 0-13-1 18-1-16 0-5 0 6-1 6-1-4-1 19-1-25 0 9-1 15 0 3-1-24-1 11-2-2-1-6 0-3-3 16-2-3 0 9-1-27-2 24-1-23-1 6 0-7-1 5-1 2-3 15-2-15-1 4-2 1 0 6-1 7-2-10 0-10-2-1 0-3-1 5-1-1 0 12-1-2-3 13-3-28-1 12-1 2-1-6-1 4-1 6-1-15-1 26-1-10-1-17-1 23 0-11-1-13-4 8-1 9 0-9-1-6 0 7-2 8-2 0-1 8-5 3-1-20-6-4-2 2-1 22-1-23-2 7 11 19 4-1 5 16 5-15 3 3 7-2 0 25 3-28 2 27 0-18 8 0 3-8 3 3 3 10 2-2 0-12 1 28 8-5 3-9 1-6 0-4 8 0 5-3 1 11 2 4 0-14 7 22 0-15 1 2 9 17 2-11 0 8 1-11 6-9 1 2 3 14 0-20 1 6 0 6 5 5 1-12 5 2 0-2 7 6 2-7 1-4 4 2 5 10 1-4 2-8 14 17 0-14 4 3 15 15 3 0 5-4 1-15 5 0 1-3 3 15 1 6 6-3 0-18 9 8 3-7 6 24 4-15 1-6 4 17 2-19 6 17 5 8 13-12 0-14 1 24 10-4 0-21 2 14 1-13 0-1 19 11 18-11 7 0 11 27 0-17 3 13 2-13 1-2 3 0 2-6 8 8 3-9 2 8 5 7 10 9 11-25 98 22-108 15-50 3-3 8-123-12-56-2-5 6-43-2-31-8-21 3-4 8-16-10" fill="none" marker-start="url(#d)" marker-mid="url(#d)" marker-end="url(#d)"/>
<path d="M263.5 29.5L263.5 89.5" stroke="#939393" stroke-width="1"/>
<path d="M239.5 64.5L293.5 64.5" stroke="#939393" stroke-width="1"/>
<path d="M239.5 29.5L239.5 89.5" stroke="#8c8c8c" stroke-width="1"/>
<path d="M239.5 89.5L293.5 89.5" stroke="#8c8c8c" stroke-width="1"/>
<rect x="256.8" y="58.1" width="2.2" height="1.6" fill="#888" fill-opacity="0.75"/>
<rect x="267.1" y="58.1" width="2.2" height="1.6" fill="#888" fill-opacity="0.75"/>
<rect x="256.8" y="70.4" width="2.2" height="1.6" fill="#888" fill-opacity="0.75"/>
<rect x="267.1" y="70.4" width="2.2" height="1.6" fill="#888" fill-opacity="0.75"/>
<text x="236.0" y="36.0" font-size="3.4" text-anchor="end" fill="#555">10<tspan font-size="2.4" dy="-1.4">5</tspan></text>
<text x="236.0" y="49.8" font-size="3.4" text-anchor="end" fill="#555">10<tspan font-size="2.4" dy="-1.4">4</tspan></text>
<text x="236.0" y="63.6" font-size="3.4" text-anchor="end" fill="#555">10<tspan font-size="2.4" dy="-1.4">3</tspan></text>
<text x="236.0" y="75.4" font-size="3.4" text-anchor="end" fill="#555">10<tspan font-size="2.4" dy="-1.4">2</tspan></text>
<text x="236.0" y="82.9" font-size="3.4" text-anchor="end" fill="#555">0</text>
<text x="246.5" y="97.1" font-size="3.4" text-anchor="middle" fill="#555">-10<tspan font-size="2.4" dy="-1.4">2</tspan><tspan dy="1.4"> 0 10</tspan><tspan font-size="2.4" dy="-1.4">2</tspan></text>
<text x="263.5" y="97.1" font-size="3.4" text-anchor="middle" fill="#555">10<tspan font-size="2.4" dy="-1.4">3</tspan></text>
<text x="275.5" y="97.1" font-size="3.4" text-anchor="middle" fill="#555">10<tspan font-size="2.4" dy="-1.4">4</tspan></text>
<text x="287.5" y="97.1" font-size="3.4" text-anchor="middle" fill="#555">10<tspan font-size="2.4" dy="-1.4">5</tspan></text>
<rect x="243.0" y="90.1" width="8" height="0.9" fill="#888" fill-opacity="0.7"/>
<rect x="237.9" y="32.5" width="1.6" height="0.6" fill="#888" fill-opacity="0.7"/>
<rect x="237.9" y="42.3" width="1.6" height="0.6" fill="#888" fill-opacity="0.7"/>
<rect x="237.9" y="52.1" width="1.6" height="0.6" fill="#888" fill-opacity="0.7"/>
<rect x="237.9" y="61.9" width="1.6" height="0.6" fill="#888" fill-opacity="0.7"/>
<rect x="237.9" y="71.7" width="1.6" height="0.6" fill="#888" fill-opacity="0.7"/>
<rect x="237.9" y="81.5" width="1.6" height="0.6" fill="#888" fill-opacity="0.7"/>
<text x="291.5" y="37.5" font-size="7.5" text-anchor="end" fill="#111">2.8</text>
<rect x="239.5" y="108.5" width="54" height="58" fill="none" stroke="#c4c4c4" stroke-width="1"/>
<ellipse cx="249.4" cy="157.7" rx="6" ry="3.6" fill="#c21a16" fill-opacity="0.8" filter="url(#b1)" transform="rotate(-15 249.4 157.7)"/>
<path transform="scale(.1)" d="M2727 1137l5 29 55 25-6 0-12 8-36-17-5 3-17 11-25 1-228 7 212 6 11 13 5-8 8 10 8 3 13-16 4-8 1 0 4 12 2-16 7 20 5-7 4 2 1-9 7 22 1-23 8-4 1 24 19-21 2 14 3 5 7-13 18 2 27-3 81 44-2-1-112 4-9-15-15 1-2 11-5 3-2-10 0-3-11 14-6-15-6 11 0-22-3 2-8 19-1 1-3-10-1 14-3 2-4-5-3-21-1 5-1 4-1 10-6 4-2-12 0-5 0-8-1 25-7-8-2-2 0-3-5-6-9 17-18-22-9 15-2 0-1-3 0 14-5-12-30-14 31 41 7-10 11 13 0-5 3 14 3-2 7 6 3-11 4-8 6 16 2-12 0-3 3 8 0-7 5 6 1 1 6-4 1-11 1 3 1 3 2 18 1-23 2 1 0-3 2 23 5-22 12 7 0-11 1 21 1-15 5 14 0-9 1-7 0 7 0-7 2 13 0-11 3 0 2-1 2 19 2-10 4-1 3 4 0 7 2-15 17 9 8-13 24 46-11 2-4-2-12-13-10-7 0 18-12-5-1 0-2 11-6-13 0 3-9-1 0 10-1 5-2-17-24 9-3-9-2 10-13-21-8 18-2-14-3 8-5-5-34 2-99 6-29-4 150 40 11-1 19 2 15-14 4 16 15-11 6 8 47 5 5-15 26 46-91-17-11 16-35-1-77 1-65-2-33-9-70-13 36 54 165-4 142-21 5 21 34-4 56 34-109-14-65 20-12-24-133 51 5-10 12 7 20 4 0-6 0 3 17-12 10-11 5 6 17 8 10-9 14 12 18-13 25 13 16 6 12-5 22-6 6-1 30-4 26-4 23 16 5 8-15 23-48-15-20-1 0 7-38 1-1 0-4-7-25 2-20-1-3 2-1 5-1-13 0 23-16-18-10 21-15-4-1-9-5-1-5-8-6 21-2-5-12 2-2-9-6-3-9 0-4-2-23-3-5 18-4-11-8 14-15-10-3-9-9 3-5 18-16-14-55 14-8 12 21 10 9 6 1-4 4-8 2-3 0 6 10-7 3 14 5 4 2-2 4-8 2-4 1-11 0 22 1-15 5 5 1 7 1-9 1 10 3-20 5 8 2-11 6 23 2-20 2 2 0 16 0-17 3 6 1 7 7-2 1 1 0 9 1 0 8-22 4 2 2 14 5-2 3-11 0 13 1-6 1-8 6 5 3 4 2-2 2 9 1-1 5-21 1 14 1 13 3-17 2-3 1 12 0 10 0-11 1 9 5 0 7 1 1-23 0 0 1-3 6 17 5-6 1-10 2 1 3 16 2-11 3 14 1-4 0-1 6-1 7-1 2 3 8 0 0-3 8 8 15-19 11 21 2-4 48-3 2 10 6-15 3-3 5-7 7 8 6-5 33 18 1-7 6-9 1-9 9 25 51-19 12 23 37-5-52 14-14-4-3 22-52-13-9-3-3-8-2 12-13-10-10 25-2-10-3-18-13 15-7 7-3-18-17 21-17-9-21 7-1-20-15 19-13-1-3-7-1-4-7 15-3-2 0-22-4 9-9-3-3-6-3 13-2-14-3 28 0-22-2-7-1 4 0-3-1 21-1-15 0-2-2 6 0 9-2 0-1 3-4-22-1 19-1-2 0 1-1-19-1 24-1-15-1 3 0 12-1 3-3-13 0 9 0-15-1 1 0 2-1-2-1 10-3 9-3-17-1 18-1-3 0-16-1 15 0-25-1 13 0 1 0 3-1-16 0 19-1-11-4 3-1 15-2-18-1 6-1-7-1 0-3-5-1 26-1-28-1 9-1 12-3-17 0 11 0 1 0 7 0 0-2-22 0 10-1 13-1-21-1 8-2-2-1 15 0-5-2 3 0-1 0-10 0-4-2-5 0-3 0 22-2 1-2 1-1-10 0-6 0-6-1 17-1-7-2 10-1 1 0-1 0-10 0 16-1-13-1-15-1 11-4 17 0-7-1-4-3 0 0-6 0 5-1-12 0 25 0-11-1 4-1-22 0 11-1-5-1 18 0-19-2 24 0-10-2 9-1 0 0-20 0-3-3 7-1 15 0-15 0-2 0-1-1-1-1 21 0-7-2-9-1 13 0-20 0 20 0-14-1 7-1 5 0-9-1 14-1 0-2-13 0 10-1-12-1-11 0 4-4 19-1-18 0 15-1 1-1 4 0-3 0 3-1-16-1-2-1-6-1 24-1-12 0-13-1 21 0-9-1 2 0-10 0 10-3-1-1-10 0-5 0 8-1 17-1-24-1 22-2-4-1-20-1 16-1 11-1-5-2 3-2-2-2 1 0 1-1-7-1 6-1-6-3-15-1 22-4-11-1 13 0-16-1-10-2 4-2 7-2-4-7 0 0 15-1-19-2 13-1-5-6 5-1-14 0 3-1 12-6 9-8 8 0 1 1 23 0-25 1 21 1-14 2 1 5 13 6 3 1-11 0 12 2-19 0 1 3 9 4-11 1 10 0 2 1-2 2 6 1-8 0 9 0-3 4-4 0 10 1-13 0-15 3 14 0 3 1-1 0-12 0 15 0-3 1-4 0 8 0 5 0-22 1 5 0 20 0-9 1-10 3-7 0 3 2 19 0-3 1-1 1-8 1-8 1 4 2 19 0 0 1-18 1 1 0 6 1-17 0 17 0 5 0 5 1-16 1-2 0 8 0 9 1-7 0 8 0-17 1 8 3-15 3 25 0 1 1-10 0-11 0 4 1 3 0-14 0 27 1-10 0-7 0 2 0 13 1-1 1-16 0 13 1-4 0 4 1-5 0-1 1-16 0 3 0 9 0-4 1 3 0 1 0 10 1-19 0-2 1 28 1-7 0-17 0 15 1-16 0 5 1-6 0 2 0 5 1 1 0 11 1-5 0-4 0 1 0-9 0 24 1-14 0 13 0-18 1 18 2-8 0-18 0 9 1-5 0 20 0-13 1-2 0-5 0 20 0-15 0 16 0-13 0 3 1-8 0-6 0-2 2 16 0-2 1-13 0 7 1 5 0-5 0 14 0 0 1-14 0 12 1 8 0-18 0 3 1-12 0 0 0 9 1 14 1-9 1 3 0-3 0 8 0-23 0 10 0 7 1 0 0 0 0-5 0 6 0 7 0-12 0-12 1 22 0-17 1 12 0 10 1-29 0 15 1 12 0-21 0 6 0 8 1-10 0 19 1-27 1 22 0-24 0 20 1 8 0-12 0 2 1 9 0-4 0-16 0 8 0-1 2-7 0 8 0-1 0 13 1-16 0 11 1 7 0-17 0 6 0 8 1-19 0 10 0 8 0-16 0-7 0 15 1-5 0-7 1 4 0 9 1-4 0 14 0-2 0-3 0-3 1-4 1-6 0-7 0 1 0 14 0-11 0 8 0-1 1-6 0 3 0-3 1 19 0-3 0-20 1 13 0-6 1 14 1-4 0-21 0 0 0 25 0 4 1-28 1 28 0-9 1 0 0-11 0 13 0-17 1-5 0 20 0-1 1 0 0-11 0 12 1-16 0 21 1-4 0 5 0-5 0 4 0-8 1-2 1 9 0-13 0 14 2-9 0-14 0 18 0-20 1 29 1-6 0-11 1 1 0 15 0-8 0-1 1 6 0-25 0 28 0-7 1 6 0-3 0-22 0 22 1-19 2 10 0 1 1-9 0 3 0 16 1 3 0-16 0-1 0 5 1-2 0-4 1-6 0 21 0-17 0-2 2 0 1 2 0 20 0-15 0 5 2-4 1 13 1-27 1 18 1-15 0 10 1-13 1 0 0 11 0-4 1-3 1 5 2 17 1-5 0-6 0-7 1 7 0 0 2-16 4 3 0 20 3-2 2-16 0 20 1-6 5-10 2-1 7 16 2-20 5-1 2 5 4 16 4-18 3 1 0 7 8-8 6 15 4-20 11 6 4-2 21 17 8-1 44-2 18-10 16-5 0 20 54-21 7 8 5 9 13 0 22 26-61-2-32-11-6 18-18 1-37 1-14-23-12 9-27-3-21 14-13-20-13 27-13-22-3-3 0 19-13-21 0 1-1 10 0-7-1 9-2-13-6 13 0 6-1-16-2 19-1-22-5 9-1-7-3 23-2-18-2-4 0-1-2 27 0-28-1 4-1 1 0-5-1 3 0 3-1 7-1-7 0-7-1 17 0-13 0 15-1-19-1 9-1-6-2 9 0 2-4 11-1-9-1-10-3-4 0 1 0-2-1 3 0 2-3-1-2 7-1-8-1 6 0 3-1 0 0-12-1 4 0 17-1 5 0-9-2-11 0-4 0 10-1-13 0 0-1 18-1-16-1 11-1-7-1 0 0 0 0 7 0-3-1 15 0-25 0 3-1 20 0 6 0-17 0 0-1-11-2 4-1-1-1 4 0 11-1-5 0-14 0 19-1-6 0-5-1 1 0 3-2 9 0-9 0-2-2 4 0-10-1 25-1-16 0 1-1 9 0-2-1-17 0-2-1 1 0 19 0-21-2 22 0-18-1 13 0 2-1-14 0 10-1 2-1-13-2 18 0-18-1 13-1 1 0-2 0-3-1 10-1-17 0 0 0 22-1-25 0 6-3 13 0 6 0-13-1 0 0-1 0-10-1 2-1-7-3 9 0 0 0-2-3 2 0 18 0-8-1-1 0-16-1 0 0 11 0-7-1 18-1-12-1-1-3 7-3-16-1 21 0-8-2 7 0-3-1 5-2-13-1 4-1-9 0 1-4 0-1 3-1 5 0-11-2 25-2-22-1 21-1 1 0-29-2 1 0 27-3-22 0-2-1 22-2 0-1-19-1 15-2-13-1 7-2-7-3 11 0-12-1 20-1-15-1-6-2 1-2 3-2-8 1 40 5 1 2-12 8 27 5-6 1-20 2-2 5 0 0 10 1-1 2 1 8-10 7 27 2-24 4 8 4 14 0-7 2-17 1-2 6 10 2-7 0 18 2-8 10-11 0 20 4-22 8 0 4 10 3 2 1 1 0 1 1 11 0-15 1 1 12-10 8 10 5-8 2 0 4 26 0-7 6 3 1-18 3-4 2 4 1 20 4-13 7-14 1 0 9 2 6 8 1-7 24 14 32-3 63-3 1 5 10-11 13 8 22 3 56 12 28-12 10-16 30 26 47-1-238 10-42-3-71-2-82 9-30 0" fill="none" marker-start="url(#d)" marker-mid="url(#d)" marker-end="url(#d)"/>
<path d="M263.5 108.5L263.5 166.5" stroke="#939393" stroke-width="1"/>
<path d="M239.5 142.5L293.5 142.5" stroke="#939393" stroke-width="1"/>
<path d="M239.5 108.5L239.5 166.5" stroke="#8c8c8c" stroke-width="1"/>
<path d="M239.5 166.5L293.5 166.5" stroke="#8c8c8c" stroke-width="1"/>
<rect x="256.8" y="136.5" width="2.2" height="1.6" fill="#888" fill-opacity="0.75"/>
<rect x="267.1" y="136.5" width="2.2" height="1.6" fill="#888" fill-opacity="0.75"/>
<rect x="256.8" y="149.0" width="2.2" height="1.6" fill="#888" fill-opacity="0.75"/>
<rect x="267.1" y="149.0" width="2.2" height="1.6" fill="#888" fill-opacity="0.75"/>
<text x="236.0" y="115.0" font-size="3.4" text-anchor="end" fill="#555">10<tspan font-size="2.4" dy="-1.4">5</tspan></text>
<text x="236.0" y="128.2" font-size="3.4" text-anchor="end" fill="#555">10<tspan font-size="2.4" dy="-1.4">4</tspan></text>
<text x="236.0" y="141.2" font-size="3.4" text-anchor="end" fill="#555">10<tspan font-size="2.4" dy="-1.4">3</tspan></text>
<text x="236.0" y="152.7" font-size="3.4" text-anchor="end" fill="#555">10<tspan font-size="2.4" dy="-1.4">2</tspan></text>
<text x="236.0" y="160.2" font-size="3.4" text-anchor="end" fill="#555">0</text>
<text x="246.5" y="174.1" font-size="3.4" text-anchor="middle" fill="#555">-10<tspan font-size="2.4" dy="-1.4">2</tspan><tspan dy="1.4"> 0 10</tspan><tspan font-size="2.4" dy="-1.4">2</tspan></text>
<text x="263.5" y="174.1" font-size="3.4" text-anchor="middle" fill="#555">10<tspan font-size="2.4" dy="-1.4">3</tspan></text>
<text x="275.5" y="174.1" font-size="3.4" text-anchor="middle" fill="#555">10<tspan font-size="2.4" dy="-1.4">4</tspan></text>
<text x="287.5" y="174.1" font-size="3.4" text-anchor="middle" fill="#555">10<tspan font-size="2.4" dy="-1.4">5</tspan></text>
<rect x="243.0" y="167.1" width="8" height="0.9" fill="#888" fill-opacity="0.7"/>
<rect x="237.9" y="111.5" width="1.6" height="0.6" fill="#888" fill-opacity="0.7"/>
<rect x="237.9" y="121.3" width="1.6" height="0.6" fill="#888" fill-opacity="0.7"/>
<rect x="237.9" y="131.1" width="1.6" height="0.6" fill="#888" fill-opacity="0.7"/>
<rect x="237.9" y="140.9" width="1.6" height="0.6" fill="#888" fill-opacity="0.7"/>
<rect x="237.9" y="150.7" width="1.6" height="0.6" fill="#888" fill-opacity="0.7"/>
<rect x="237.9" y="160.5" width="1.6" height="0.6" fill="#888" fill-opacity="0.7"/>
<text x="291.5" y="115.8" font-size="7.5" text-anchor="end" fill="#111">5.4</text>
<rect x="312.5" y="29.5" width="54" height="60" fill="none" stroke="#c4c4c4" stroke-width="1"/>
<ellipse cx="322.0" cy="81.3" rx="7.0" ry="4.0" fill="#c21a16" fill-opacity="1" filter="url(#b1)" transform="rotate(-6 322.0 81.3)"/>
<ellipse cx="342.8" cy="43.9" rx="2.7" ry="1.8" fill="#c21a16" fill-opacity="0.75" filter="url(#b1)"/>
<path transform="scale(.1)" d="M3514 309l109 35-159 44 24 27-5 1-6-18-1 15-7 6-3-4-3 0-1 2-5-1-6-3 0-14-3-5 0 24-3-13 0 6-2 3-4 0-2-2-2 3-2-15-2 13-1 5 0 1-3-7-2-14-2 10 0 2 0 0 0-4-3 12 0-6-3-6-2 11-4-21-1 3-1 11-1 0-1-9-2-11-6 26-1-3 0 1-3 5-1-14-9 5-3 9-15 0-5 2 3 6 12 13 3 5 1-3 2-7 2 12 0-7 0-12 0 11 0 9 1-16 1 15 1-5 1-14 2 7 0-7 0-1 1 8 0 12 2-8 2-12 1 18 0-12 1 2 2-5 1 11 1-11 0 18 1-11 0 6 0 2 1 0 1 1 0-20 1 21 0-16 2-8 1 9 0 7 0-18 1 28 0-2 0-17 0 17 0-22 0 11 1 7 0-1 0-8 2 10 0 4 0-2 0-19 1 17 0-3 0-2 0-18 1 1 0 15 0-16 1 15 0-7 1 12 0 3 0-5 1-14 0 10 0 6 0 3 1-6 0-6 0 3 1-11 0 1 0 3 1-5 0 19 0-7 1-12 1 13 1 3 0 1 0 8 1-7 0-17 0 10 0-3 1-8 1 21 0-2 0-14 0 17 0-9 0 6 0-11 0-8 0 11 0 3 0 4 2-19 0 6 1 21 0-2 1-6 0-13 0-7 1 25 0-21 0 7 0-2 1 2 0-10 0 9 0 14 1-3 1-15 0 1 1 20 0-11 0 1 0-8 1 5 0 2 0-1 0-13 1 25 0-13 3 9 0-7 0-16 1 18 0 5 0-8 1-14 1 12 0 7 0-18 1 12 0 8 1-10 0 1 1 5 0-10 0 15 0 0 0 0 0-3 0 3 2 5 1-15 0 3 1-16 0 2 0 13 1 3 0 4 0-17 0 11 0 5 2 2 0-17 0-7 1 25 0-2 1-4 0-17 2 26 1-25 0 7 0-1 1 0 0 7 1-16 1 26 1-25 0 4 1 8 0 0 1 15 0-6 1-8 1 3 1-13 5 24 0-12 1 4 1-19 2 15 3-7 1 7 4 11 2-21 1-5 1 19 1 5 1-1 2 2 3-12 2-5 1 0 122 12-130 15-1 6-3-4-4 0-7-6-4 4-2 1 0 1-1-5 0 14-1-16-1-1-1 14 0-13-5 4-3-4-1 8 0-8-1 9-1 1 0-5-2 2-3-7 0 19-2 0-2-12 0 20-4-23-1 12-1-16 0 8 0-5-1-4-1 16-3-12-1 15 0-14-2 1 0-6 0 4-1 3-1-6 0 11 0-7-2 19 0-8 0-11 0-3-1 11 0-12-1 8 0 0-1-9 0 19-1-8-1 1-1 3-2-4-2-10 0 2-2 22-1 3 0-15 0-12-1 8 0-8-2 3 0-1 0 17-1-4 0-13-1-2-2 20-1-6 0-7-2-7-2 2-3 13 0-11-1 10 0-2-10-3-8-1-1-9-3 11 0 9-1-17-6 14-1-15-8 25-2-3 50 23 79-11 40 23 48 12-432 38 12 3 6-3 456 10-90 18-122-13-145 30 154 47-233 10 380 27 31-16-103 19-131 15-185 41 48 2 22-2 15-12 84 3 1-4 110 3 13 6 7-7 0 7 7-1 0 7 26-16 9 7 130 16-73 21-22-17-6-9-15 23-10-9-12 8-1 3-1 2-1-16-5 15 0-3-3-10-4 13-8-23-1 22-2-15-4 18-7-11-2 6-3-14-5 2-3 12-2-11-2-9-1 10-3 1-10-8-18-1-9 12-1-2-11-2-12 14-3-14-6 11-5 1-34-14-11 13-10 3-17-21-15 2-2 4-3 0-9 5-6 8 0-4-2 2-11-11-1 9-4 1-4-11-8 17-7-1 0-7-1-1-1 1-11-11-1 19-5 0-2-26 0 21-6-4-1 1-4-5 0 5-5-5-3 5-3 5-2-2-8-1-4-2 0 0-10-14-1 11-9-11-17 20-6 32 7-4 22-19 0 17 2 6 6-15 1 5 2-8 1 16 1-16 4 5 0-7 6 1 0 11 0 5 1-15 4 17 0-4 2-6 0 0 1 11 0-18 0-7 2 13 3-14 1 16 8-3 1 0 1 5 3-14 3 8 2-8 1 10 0 12 2-13 1-5 1 9 1 6 1-11 0 6 0-11 1-1 1 1 0-6 0 23 0-20 1 5 0 6 3 4 1-4 0 5 2-21 1 18 1 0 1-16 1 15 0-7 0 6 0-11 2 21 1-24 0 0 1 8 2 17 1-20 0 15 0-19 2 8 1-2 3 12 1-12 1 16 1-16 1 12 0-3 1 8 0-2 1-17 1 11 0-12 2 13 2-19 1 26 2-23 1 2 3 10 0 11 1 1 0-6 3-19 1 23 2 1 2-8 1 7 3-5 0 2 1-10 0 5 2 8 1-7 1-12 1 9 1 11 7-9 1-11 2 3 4 1 0 16 10-1 5-27 1 4 5 1 5 14 4-15 8 18 0 0 13-2 3-6 0 12 3-6 2-1 2-3 1-5 2 5 4-1 4-3 3 11 1-17 0 4 2 17 6-3 4-16 5 15 4 2 1-3 1-7 3 8 1-23 3 13 4 2 1 4 1-2 4-5 2 12 2 0 0 0 3-7 3 10 2-21 4 7 4 12 0-19 4 8 2 11 3-16 2-2 1 14 1-17 4-3 2 10 0 15 2-17 2 16 0 3 1-8 0 4 0 1 2-15 2 3 1 15 1-14 1-3 1 6 0-15 2 16 1-18 1 16 2-16 0 5 2 9 1-8 1-5 0 1 1 12 1 5 1-3 1-4 0 8 1-6 1 14 0-28 0 16 1 3 1 10 2 0 0-5 1-2 0-10 2-7 0 10 0 12 1-18 0 16 1-18 0 3 0-7 1 10 1-1 0 5 0 7 2-20 1-1 0 0 1 15 3-9 0 20 1-16 0 11 1-23 1 23 0 5 0-14 2-9 1-6 1 29 0-3 1-2 0-16 1 10 0-10 1 17 0-3 0-7 0 1 2-6 1 12 5 7 3-4 4-1 0-8 0-4 2 5 3 5 2-8 1 9 5-14 6 3 72 29-82-8-3 16-2-11-2-1-9 11-2-10-2 19-3-15-1 0-2 14 0-18-1-8-1 21-1 0-1-19-1 12 0-8-3 5-1-1-1-10 0 2-2-1 0 11-1 10-1-11 0 12-1 2-1-15 0-4 0 14 0-17-1-1 0 2-1 1-1 11 0 8 0-19 0 14-1-3 0-6-2 16-1-17-2 17 0-15-1 16 0-6-3-9 0 15 0-6 0-20 0 11-3 16-1-12-2 9-1-23 0 15-1-2 0-9 0-4-1 13 0-7 0 13-2-8 0-12-2 5-1-6-1 25-3-18-4 18-2-5 0 2-2-10-2 1-1-4-1-3-1 20-1-22-2 1 0 3-1 1 0-7-4 23-1-17-1 18 0-22-1 22 0-15-1-3-6 16-1-17-4 14-2 8 0-10-2 9-3-22-2 14-2-16-1 4-2 15 0-20-1-2-3 2-3-1 0 6-1 0-3-7 0 13-1-6 0 6 0-2-3 11 0-22 0 12-1-10-2 2-2 7-1 15-1-19-9 0 0 8-1 2-11 10-1-19 0-7-1 3 0 8-1 7-1-5-3-11-2 2-5 18-1-12-7-8-8-3-2 1-2 12-19 7-1-4-2-12-6-1 0 7-3-8-4 11-1-10 0 24-2-8-1-12-2 1-3 12-2-4-2-2-7 10-1-22-1 12 0-14-7 11-3 3-1 9 0-17-1 19-3-15-1-10-1 26-1-23-1 7 0-1-2-4-2 18 0-12 0 7-1-15-1 7 0 0-1-5-1-4-1 8-1 0 0 5-3 14-5-3-2-4 0-9 0-9-2 18-1-22 0 5-4 18-2-6-2 12-1-2-1-8-6 0-1-11-2-5 0 13 0-14-2 1-2 13-1-10-1 1 0 10-1-11 0 18-1-15-1-7 0 16-4 10 0 1-2-24-1 16-2-19 0 10-1 15-1-13-1 11 0-11-1-4-1-7-3 3 0-6-1 11-1-10-1 20-2 4-2-17-1 11-1-10-1 19-4-28 0 16 0-15-4 7 0 6-2 5 0-2 0 2-1-18-4 16-1-6 0 0-3 2-1 12-1-4-1-4-5-14-2 10-2 11-1 0-2-4-4 6-1-23-1 24-2-16 0 0-2 18 0-16-4-13-3 5 4 39 17-4 0-5 8 17 6 4 2-13 1 0 3-12 1 10 0 3 2 5 1-16 4 8 3 9 0-6 5-9 8 3 7-4 2 20 3-5 1-13 2 6 2 5 8-7 0 10 2-17 1-1 2 14 1-11 10-3 3 21 0-4 0 2 1-14 1 3 2-2 4-1 0-1 3 1 6 4 2-9 3 10 2-3 1-4 8 16 4-20 7 3 1 7 4 9 1-8 9 0 5-10 18 11 1 4 0-1 5-2 10-14 3 18 4-17 16 5 8 23 10-25 4-4 10 6 2 17 0 4 11-16 1 15 4-17 32-4 2-5 15 7 4-6 2 5 13-2 3 18 7-18 10 1 13 5 4-10 127 36-112-1-9-5-20 2-97-1-5 8-5-4-96-1-32 6-6-9-19 7-35-5-11-3-51 2-1 10" fill="none" marker-start="url(#d)" marker-mid="url(#d)" marker-end="url(#d)"/>
<path d="M336.5 29.5L336.5 89.5" stroke="#939393" stroke-width="1"/>
<path d="M312.5 64.5L366.5 64.5" stroke="#939393" stroke-width="1"/>
<path d="M312.5 29.5L312.5 89.5" stroke="#8c8c8c" stroke-width="1"/>
<path d="M312.5 89.5L366.5 89.5" stroke="#8c8c8c" stroke-width="1"/>
<rect x="329.8" y="58.1" width="2.2" height="1.6" fill="#888" fill-opacity="0.75"/>
<rect x="340.1" y="58.1" width="2.2" height="1.6" fill="#888" fill-opacity="0.75"/>
<rect x="329.8" y="70.4" width="2.2" height="1.6" fill="#888" fill-opacity="0.75"/>
<rect x="340.1" y="70.4" width="2.2" height="1.6" fill="#888" fill-opacity="0.75"/>
<text x="309.0" y="36.0" font-size="3.4" text-anchor="end" fill="#555">10<tspan font-size="2.4" dy="-1.4">5</tspan></text>
<text x="309.0" y="49.8" font-size="3.4" text-anchor="end" fill="#555">10<tspan font-size="2.4" dy="-1.4">4</tspan></text>
<text x="309.0" y="63.6" font-size="3.4" text-anchor="end" fill="#555">10<tspan font-size="2.4" dy="-1.4">3</tspan></text>
<text x="309.0" y="75.4" font-size="3.4" text-anchor="end" fill="#555">10<tspan font-size="2.4" dy="-1.4">2</tspan></text>
<text x="309.0" y="82.9" font-size="3.4" text-anchor="end" fill="#555">0</text>
<text x="319.5" y="97.1" font-size="3.4" text-anchor="middle" fill="#555">-10<tspan font-size="2.4" dy="-1.4">2</tspan><tspan dy="1.4"> 0 10</tspan><tspan font-size="2.4" dy="-1.4">2</tspan></text>
<text x="336.5" y="97.1" font-size="3.4" text-anchor="middle" fill="#555">10<tspan font-size="2.4" dy="-1.4">3</tspan></text>
<text x="348.5" y="97.1" font-size="3.4" text-anchor="middle" fill="#555">10<tspan font-size="2.4" dy="-1.4">4</tspan></text>
<text x="360.5" y="97.1" font-size="3.4" text-anchor="middle" fill="#555">10<tspan font-size="2.4" dy="-1.4">5</tspan></text>
<rect x="316.0" y="90.1" width="8" height="0.9" fill="#888" fill-opacity="0.7"/>
<rect x="310.9" y="32.5" width="1.6" height="0.6" fill="#888" fill-opacity="0.7"/>
<rect x="310.9" y="42.3" width="1.6" height="0.6" fill="#888" fill-opacity="0.7"/>
<rect x="310.9" y="52.1" width="1.6" height="0.6" fill="#888" fill-opacity="0.7"/>
<rect x="310.9" y="61.9" width="1.6" height="0.6" fill="#888" fill-opacity="0.7"/>
<rect x="310.9" y="71.7" width="1.6" height="0.6" fill="#888" fill-opacity="0.7"/>
<rect x="310.9" y="81.5" width="1.6" height="0.6" fill="#888" fill-opacity="0.7"/>
<text x="364.5" y="37.5" font-size="7.5" text-anchor="end" fill="#111">7.8</text>
<rect x="312.5" y="108.5" width="54" height="58" fill="none" stroke="#c4c4c4" stroke-width="1"/>
<ellipse cx="348.3" cy="121.1" rx="3.6" ry="3.8" fill="#c21a16" fill-opacity="0.95" filter="url(#b1)"/>
<ellipse cx="348.6" cy="126.9" rx="2.3" ry="3.2" fill="#c21a16" fill-opacity="0.55" filter="url(#b1)"/>
<ellipse cx="320.5" cy="158.5" rx="8" ry="5" fill="#d02828" fill-opacity="0.45" filter="url(#b2)" transform="rotate(-40 320.5 158.5)"/>
<path transform="scale(.1)" d="M3499 1137l-46-2 0 4-24 29 5-1 7-8 1-10 3 8 10-9 1 9 2 3 4 9 5-8 3 2 5-4 0 7 1-7 3 8 1-6 1-3 1 11 2-10 1 2 1 5 1 0 6-18 1 8 1 5 4 6 2 1 4-16 2-2 1 4 2 2 12 5 46 20-9 13 0 0-6 3-10-3 0-17-1 19-1-3-5 2 0-17-4 16-5-22-1 12-1 14 0-15-2-2-1-1-2 9-2 0-3 4 0-15-1 19 0-6-2 7-2-6 0-15 0 9-1 6 0-4 0 8-2-26 0 4-1 1-2 21-1-19-1 9-1 5 0 4 0-14-1 2-1 12-1 2 0-17 0 8 0-12-1 14 0-6 0-8-1-5 0 8 0-1-1 11 0-3 0 5-1-19 0 8-1-5 0 5 0 6 0 12-1-6 0 1 0-13 0 14 0 2-1-2 0-14 0 3-1 12 0-5-1 0 0 4-1-11 0 10 0 2 0-9 0-4 0-1-1 12-1-19 0 5-1 19-2-18-1 14-1-8-1 5 0-1-1-15-1 18-1 0-1-12 0 13-1-1-2-5 0 3 0-4-1 2-1 5-1-7 0 7 0-3-1-15 0 23-2-11 0-7 0 14 0 3-1-5-1-1-1-11-1 13-2-8 0 8-1 2-1 1-1 2-3 0-1-6-2-4-1 7-3-14-1 16 0 0 0 1-1-22-6 16-1-12-1 8-1-15 0 1-6 8-1 4-1 11-1 0-4-6-13-9 0 30 1-2 7-2 1 11 4-4 4 9 1-21 3 25 4-13 1-4 0-7 2 9 1-9 1 14 1-19 0 17 1-13 1 16 0-13 1 16 1-19 1 14 1-9 1 2 1-7 0 24 0-14 0 3 1 3 0-8 1-1 0 16 1-17 1 5 0 10 0-24 0 18 1-11 0 15 0-7 1-13 0 26 0-27 0 17 1-12 0 17 0-19 1 23 0-1 1-10 0-16 2 14 0-4 1 18 0-5 0-11 0 6 1-1 0-17 1 17 0-14 0 24 0-11 1 3 0-3 0-8 1-8 0 26 0-11 1 13 1-19 0 4 0 13 0-26 1 21 0-4 0-10 1 8 0-9 0-3 0 17 1-7 0 9 1-1 0-18 0 10 0-12 0 17 0 6 1-6 0-1 0 3 0 6 0-19 1-2 0 3 0-9 0 23 1 6 0-9 0-2 0 8 1-5 0 3 1-4 0 0 1 0 0 1 0 1 0-20 0 8 0 9 0-7 0 4 1-6 1 4 0 15 1-1 0-5 0 1 1-21 1 26 0-18 1-4 0 21 0-5 0-2 0-7 1-9 0 20 0-5 0 7 1-24 0 2 0 14 0-7 1 10 0-5 0 4 1-14 0-3 0-4 1 11 0 15 1-22 0 6 0 14 1-5 1-11 0 3 0 16 1-12 0-7 0-4 0 3 1 21 1-9 0 9 0-6 1-7 0 1 0-8 2 14 0-12 0-2 1 20 1-15 0 9 0 2 0-5 2 1 1-1 0-6 1-12 0-1 1 13 0-2 0-10 1 28 1-5 1 0 1 2 0-20 1-4 0 27 1-24 0 5 1-3 1-4 0 21 0-7 0-9 0 8 0 3 2-1 0-11 2 18 1-6 0-8 1 8 0 0 2-10 1 12 0-18 1 25 0-10 1-10 0 20 3-9 4-6 1 11 1-13 4 11 2 1 10-19 4 16 1 7 0-26 2 21 3-5 2 7 6-21 9 26-29 21-8 1-2-20 0 19-3-4-2-3-4-4-1 5-3-11 0-3-1 15-1-15-2 10-1 15-1 0 0-17-2 21-1-28-1 22-1-18-2-4 0 24-1-1 0 1-1-1 0-1-1-13-1 11 0 4 0 0-1-1-1-16 0 11 0-6 0 12-1-9 0 3-3 9 0 0 0-11-1-9-3 4-1 6-1-14 0 0 0 22 0-5-1-2 0-16 0 25-1-21 0 6 0 2-1 11-1-22 0-2-1 2 0 24 0-10-1-13 0 18-1-22 0 14 0-1-1 9 0 6-1-9 0-2 0 2 0 2 0-11 0 13-1-22 0 25-1-4 0-21-1 11-2-9 0 4 0-1 0 5 0 15 0-19-1 20 0-15 0-1 0-9 0 13-1-4 0-10-1 0 0 7 0-8-1 12 0-8-3 2 0 2 0-8-1 2 0 5 0-5-1 19 0-3 0 5 0-9 0 1-1 4-1-13-1-3 0 18-1-6 0-11-1 3 0 9-2-13-1-2 0-1-1-1 0 0 0 9 0-6-1 14 0 3-3 4-3-16 0 15-1 0 0-2 0-19-3 0-2 2 0-4 0 11-3-3 0 16 0-20-1 8-2-4 0 6-1 1-1 8-2-16 0 20-1-27-1 17-5-16-4 3-1 25-12-27-98 56 82-3 30 3 5-28 0 7 6 2 1 13 1-3 5-19 2 12 1 9 2-21 4 23 3-21 1 21 2-23 2 12 1-11 1 6 1 2 1 14 1-17 0 5 1 6 1 0 0-10 1-1 1 1 0 0 0 1 0 4 1 4 0 12 1-1 0-11 0-15 2 14 1-4 1 6 0-17 0 11 0 10 0-2 0 3 1-8 1-6 1-1 0 5 0-6 1 15 0-14 1 3 1-9 0 4 0 0 0 0 1 20 1 3 0-2 1-5 1-9 0-1 1-5 3 1 0 0 0 12 1 4 0-13 1-1 1 18 1 1 1-20 1-3 1 5 0 2 0-8 1-3 0 24 1-13 2 15 0-10 0 3 1 4 1-2 2-20 1 2 0 2 2 18 1-13 1-11 1 20 2 3 1-2 0 4 4-13 2 0 0 12 1 0 2-14 0 11 2-6 11 7 12 1 2-3 7-4 0 33-8 4 0-9-4 10-4-21-18 17-2-20-3 16 0 2-3-10-2 9-3 9-1-24-4 27-1-2 0-7-1-7-3-9-1 6 0 18 0-25-1 13 0-11-1 3 0 11-2-12 0 22-1-21 0 20-1-18-2 8-1-6-1-5 0-1 0 23-1-12 0-16-1 25-1-13-1 2-1-1 0-13 0 17-1-11-1 4-3 17 0-5-1-12 0 1 0-1 0-2-2 12 0-9-2 10 0-7-1-9 0 6 0 17-2-29 0 18-1-7-1-11-1 22 0 5-2 2-1-9 0-2 0 6-1-24 0 11 0 14 0-3-2-16-2 0-3-3-3 19-1 5-1-13 0-5-3 9-4 4-10-20-5 12-6-5-11-7-86 11-161 1 8 40 135-24 3 5 121-5 6 25 1-25 2 4 1 24 7-11 5 8 0-6 1-17 2 3 0-5 0 2 5 5 2-6 2 7 1-2 2 11 1 9 2-26 1 16 2 4 1-20 3 9 0-3 3 0 5 11 2-10 1 5 1 10 1-10 0-5 5-3 1 3 0 7 2-12 0 15 1-10 2-3 0 25 1-22 0 1 0 12 1-1 2-10 3-1 1 0 0 20 9-20 8-8 1 22 9-17 0 10 6 10 9-17 1-8 19 45-29 11-10-16-7 0-3 13-3-12-3 15-1 1-5-20 0 8-1-3 0-10-3 8-1 17-3-6 0-18 0 17-1-9-1 12-1-9 0 4-5 11-1-12-1-2-1-3 0 9-5 8-1-2-4-17-3 0-2 15-1-15-2 13-1-19 0 5-5 20-2-18-2 5-2 1-1 3-4-19-1 15 0 10 0-17-6 8-1-13-3 21-8-20-2-2-2 10-5 16-10-6-2-22-33 2-4 19-24-5-47 9-25-23-24 23-2 2-33-22-24 12-13-15-21 15-24-16-3 39 32 14 92-3 5 7 15-3 29-13 12-13 35 5 1 6 22-3 17-2 20 16 5 3 12 1 0 2 4-11 5-5 0 6 3 8 3-6 5 3 0-15 5 13 1-7 1-14 2 12 0 0 3 10 0 0 2-14 0 13 1 5 1 1 4-23 4 15 0-19 2 18 4 5 1 6 3-22 1-6 2 18 0-6 1-11 2 25 6-23 1 9 4 3 1-2 1 1 1-10 0 9 5-9 1 8 0-8 0 16 1 0 1-8 0-9 0-4 5 11 4 1 0-3 1 16 0-14 6-4 0 17 1-11 3-3 0 4 0-9 16 15 23-16 64 9-61 40-4-15-3 18-9 2-12-7-8-11-10 3-4 15-1-28-2 12-1-3-2-5-2 22 0-22-1 25-4-22-1 14-3-11-2-6-1 4-1-5-1 7 0 3-1 14-1-8 0 6-1-4-3-16-1 18-3-12 0 13-2-2-1-14-3 16-4-16-1 4 0 8-3 1-1-21 0 5-1 12 0-14-3 12 0 14-1-12 0 2-3-5 0 13-1-9-1-4-3-11-2 0 0 13-2 0-4 7-3-16 0 11 0 5-1-2-2 1-1-11-5 7-1-15-2 19-1 0-1-15-1-4-17 9-10 14-4-8-16-15-8 1-2-3-10 18-5 9-12-16-14-7-3 14-2 0-2 6-21-4-3-10-9 1-1 1 0 10-6-4-7 8-6-20-15 14-24 8-2-7-3 5-23-10-77 35 52-19 1-1 2 19 6-3 21-4 11-3 2 8 0 8 1-17 7 15 5-8 3-11 8-5 2 27 6-8 5 7 5 2 5-1 2-3 3-16 0 14 8-15 5 6 0 8 7 3 0-25 3 27 6-10 2 10 4-4 1-12 2 12 2-15 3-3 2-4 2 21 5 0 0-8 0-5 5 0 15 17 13-21 7 20 15-9 9-8 9-2 14 2 11-4 2 6 1 15 9-24 4 7 2 17 1-14 0-5 0 12 3-16 3 11 3 9 1-14 2 4 0-5 0 22 0-9 1-9 2-9 4 21 2 2 2-9 1-1 1-14 0 23 2-16 1 15 1-4 0 1 1 2 1 3 2-7 0-18 0 22 2 2 1-11 2 13 0-7 1 8 0-23 2 5 2 13 1-5 2 3 1-17 0 24 0-22 2 21 3-8 0 2 0-13 2 10 1-8 0 12 1 0 1 8 3-12 2 5 0-11 0 9 5-5 1 4 1 10 4-25 1 19 11 0 2-20 2 4 0 12 49 38-28-18-8-8-13 0-4 22-2-8-5-11-1 15-2 4 0 6-9-2-7-16 0 11-4-19 0 26-4-5 0-2-4 5-2-13-2 4 0-9-1 5-7 13-1-13-2 5-1 6-2 0-1-9 0-6-1 19-7-27-3 8 0 12-1-8 0-6-1-5-3 9 0 11-4-19-1 24-1-8-3-2-1-15-2 19 0-11-3-2-3 14 0-3-3-20-1 21-2-17-10-4-2 12-11-7-2-3-27 7-1 17 0-13-3-13-17 22-9-1-4-20-1 12-5 11-5 3-4-21-5 11-10 5-2-5-7 12-3-11-2 9-3-26-4 12-5 7-1-4-4-8-1 5-2 16-5-8-1-18 0 25-5-10-3 2 0-2-1 2-4 5 0-1-3-14-2 10-1-15 0 16-2-1 0-11 0 9-1-2-1-4-5-2-1 10-1-12 0-2-2 19-2 2-2-4-1 1 0-19-5 15-3-3-8-12-5 9-1-12-1 25-4-26 0 8-1 14-1-18-1 15-2 6-2-11-2 11-2 1-8-2-5-23-3 27-3-9-1 8-5-27-6 19-2 3-6 3-9-14-42 4 3 42 8 1 1-17 1-3 9 20 4-6 1-2 1 8 7-20 1 16 2-18 1-5 5 5 0 8 6 4 1-19 0 12 2 1 4 16 4-17 1 7 1 7 2 1 5-22 3 21 3-12 3 14 1-5 1-5 2 6 2-9 2 3 1 8 0 0 1-11 0-10 0 2 2 22 2-23 3 14 0-13 2 0 1 22 0-15 2-4 1-8 0 0 1 8 1-4 0 15 2 4 1-19 1 10 2 11 1-12 1-10 1 19 0-17 0 15 3-12 4 8 1-11 2-2 0 3 0-3 1 21 1 1 0-4 1 4 1-12 1 5 1-1 4 10 2-15 2 13 0-5 1 3 1-24 2 15 1-9 1 15 0-3 0-13 2 10 2 6 1 7 4-23 0 12 1-9 0-8 3 11 3-8 1 3 0 16 0-7 5 5 1 3 1-23 2 11 2-2 2-8 1 1 2 17 1-5 2 3 3 11 0-3 0-13 6-6 2 1 1-7 1 5 2 13 1-2 5 1 2-5 1 14 4-22 3-4 9 20 3-2 13 2 5-21 15 10 8-3 24 14 11 0 0 3 7-1 3-20 1 12 2-2 2-10 6 12 2-5 3-4 1 21 0-10 1 5 3-3 3 9 2-28 0 25 5-22 3 8 1-2 4-7 4 20 1 7 4-4 1-1 1-20 1 23 0-3 1-5 2-1 6-5 0 9 3-6 1-15 3 3 0 0 2 22 1-22 3 6 1 14 0-13 0 14 1-23 2-1 8 17 1 0 3 3 1-11 1 2 7 8 0 4 6-5 3 3 0 4 12-18 4-6 3 21 6-21 14 8 61 47-49-14-45 10-12-9-2 1 0-5-7-6-3 21-1-19 0-2-2 9-1-10-2 7-1 19 0-26-3 24-1-25-3 3 0 7-1-11-2 1 0 6-6-2-1-2-2 25 0-15-1-12-1 2-4 6-2 6-3 6 0 5 0-15-3 15-3-17 0 8-1 2-6 6 0-15-4 2-2-1-5-3 0-9-1 4-4-4-1 4-2 7-1-6-3-3 0 7-4 11-1 2-4-19-2 13-1 7-1-15-3 4-3 7-6-11-1 7-1 2-2-3-2-1-18 0-58-1-3 3-1-12-3 18-4-2-2 8-4 0-4-20-1 0-1 6-2-9-8 11-2-8-2 0-4 4 0 12 0-6-1-6-2 1-5-6 0-5-1 26 0-14-2 4-1 4 0-4 0 0-2 10 0-13-2 11-1-3-1-21-1 10 0 14-1-19-3 15-1-9-3-8-1 5 0-7-2 13-1-15 0 5-6 15-1 7 0-22-1 23 0-19-1 8 0-1-1 10-1-8-2-10 0 14 0-21 0 10-1 0-5 2 0-4 0-5-1-2 0 19-5-15 0 4 0-10 0 21-1 6 0-23-2 17 0-2-2-12-3 15-3-9-3-9-1 4-3 21-1 0 0-22 0-4-4 23 0-19-1-7-3 14 0-1 0-12-2 7 0 18-1-1-1-17 0-7 0 7-2-8-1 12 0 15 0-27-3 20 0-11-2 2-1 18-1-4 0-14-1-8 0 13 0 12-2-11 0-12-1 1-2 23-3-12-1 3-1-2-1 2-2 3-2-21 0 19-1-5-1-15-1 26-2-20 0 11-1-2-1-11 0 4 0 19-2-18 0 12-2-21-3 19-2 7 0-8 0-8-4-1-1-9-2-1-1 6-3 20 0-9-1-14 0 5-8-1-3-4-1 8-2-8-2 25 0-22 0 23-3-1 0-13-2 9-3 0-1-15-3 11-1 6-2-20 0-1-4 16-1 27 1 10 5-25 1 23 1-21 0 8 1 2 1 10 0-20 0-3 1-2 0 6 0 11 1 0 1 0 1 1 0 6 1 3 0-15 1 14 1-5 6-6 0-10 2-4 2 20 1-8 1-12 0 5 1 10 1 11 0 2 0-16 0 3 2-10 1 20 0-21 0 18 0-19 2 10 2 5 0 7 2-11 1 7 0-12 0-8 1 6 1 16 2 3 1-11 0-1 0 4 1-12 3 7 0-7 0 9 1 12 1-15 0-11 0 25 0-11 1-13 0 20 1 3 2-6 0-6 1 12 0-20 1 21 1-4 1-8 2-10 1 6 0 1 0 14 1-9 0-6 1 5 0 4 1-16 0 6 0 10 1 9 2-25 2 14 2-9 0 0 0-6 0 7 1 3 0-9 0-3 0 17 1-5 0 3 1-4 0 8 1-18 0 6 0 6 0 7 0 2 0 6 3-21 0 21 1 0 0-8 0-2 2 9 0-1 1 1 0-9 0-6 1 1 1 2 0-2 0 5 0 5 1-2 1-1 1-7 1 1 0 4 1-9 0 10 0 6 0-18 1 9 2-14 0 7 0 16 1 0 0-7 3-19 2 1 1 12 0 11 0-16 1 8 2-3 1-2 0 14 1 2 0-16 0 0 1-2 1-2 0 4 1 3 1 6 0-2 0 0 1-13 0 0 0 19 1-23 0 20 0-3 0-1 1-16 0 23 0-20 0 25 0-28 0 17 1-16 1 1 0 15 0-4 0 7 1-10 0 10 1 0 1-16 0 1 1 1 1 8 0 10 3 3 0 1 2-16 1-6 0 1 2-5 2-2 0 4 2 1 1 1 2 19 1-16 1-7 4 26 0-10 0-3 1-1 1 10 2 4 2-24 0 11 4 4 1 4 2-11 2-9 1 6 1 12 1-8 2 0 3 6 1-4 0-16 0 24 2-2 5-6 0 5 7 0 4-1 1-16 1-4 10 7 1 17 6-2 6-16 8 9 2-1 1-1 2 11 1-3 9-16 1 3 35 13 13-6 18-7 17-3 4 4 5-9 0 11 6-8 4 15 5 2 2-3 1-14 3 19 1-9 1-7 0-3 2 25 0-20 7 1 9-5 10 21 1-23 2 3 13 17 1-14 7-5 0 14 5-17 12 15 1-8 1-7 2 19 5 2 2 8 10-10 16-8 28 27-33 14-25-22-9 7-3-4-9 17-8-16-2 0-2-4-1 9-1-5-7 7-2 9-2-17-2 6-6 5-14 0-20-6 0-4-11 1-7 9-46-1-39 6-26-17-5 17-6-12-1-2-4 17-5-20-2 12-1-9-3 3-2-1-1-7-5 16-3-15-4 20-1 1-3 1-1-8-5 5 0 7-1-9-2-3-2-7-1-5-1 20-1-20 0-1-2-2 0 29-3-15 0 12-1-11 0-10-1 21 0 1-1-6-4-20-4 1-1 21-1-5-3-13-2-1-1-1-5 9-1 10-1-2-1 0-1 5-2 4-1-2-1-23 0-4 0 23 0-16-1 6 0 0 0 7 0-5 0-14 0 9 0 6-1-4 0-2-1-5 0-5 0 19-1-15-1 13 0 6-1 1 0-18-1 9 0-10-1 0 0-4 0 2-1 0-1 12-1-13 0 2 0 2-1 5-1-11 0 13 0-10-1-3 0 8 0 11 0-6 0-11 0 10-1 4 0 9-1-23 0 18-1-10 0-7-1 20-1-3 0-11 0-8-1 24-1 0 0-10 0 9-1-15 0 8 0 12-1-8 0 1-1 0-1-11 0-2 0-7-1 20 0-8-1-7 0 15-1-10 0-8 0 4 0-4 0 7-1 3 0-9-1 14 0 0-1-2 0 0-1-17 0 5 0-4 0 1 0-2 0 26 0-23-1 15 0-15 0-2-1 21-1 7 0-20 0-9 0 28-1-18-1 2 0-2 0 1-1-4 0 0 0 5-1-2-1 0 0 9 0-2 0-15-1 0 0 3 0 12-1-15 0 10 0-8-1 24 0-1-1-15 0 11 0-6 0-16-1 21 0 5-1-9-1-5 0-10-1 8-2-7 0 25 0-18-1 2 0-8 0 12-1-4 0-1 0 3 0-8 0 21-1-11 0 6 0-19-1 17-3-17 0 2-1 9-1 5 0 5 0 2-1-24 0 5-1 3-1 11 0 0-2 5 0-3-1-8-1 9 0-10-1-5-1 2 0 1 0 6-1-2-1 3-1-13-1 15 0-15-1 10-1-8 0-8 0 23-1-4-1-12 0-5-1-2 0 12-1 11-1-12-1-9 0 22 0-6-1 2 0-4 0-4 0 7-1-7 0-8 0 18 0-12-2 12 0-8-1 12-1-9 0-9 0-9-1 1 0 1-1 26-1-13 0 10 0 2 0-21 0-3 0 15-1 10 0 1 0-21-1 6 0 0-1-10-2 1 0 18-1-13 0-9 0 10 0 16 0-3 0-16-1 0-2 18-2-12 0-7-2 4 0-1 0-10-2 0 0 1 0 15 0-7-1-6 0 13-1-11 0-1 0 24-2-7 1 14 0-5 1 7 4 1 1 14 0-12 0 6 4 10 0-20 1 4 1 2 0-2 4 16 1-21 0 20 2-16 1 1 0-4 0-3 1 3 0 1 1-3 1 4 1-7 1 6 1-5 0 7 1 11 1-19 0 9 0 4 1 7 1-9 0 7 0-7 1 1 1 14 0-11 0 1 1-11 0 6 1-3 0-8 1 4 0-4 1 26 1-13 1 1 0 12 1-24 0 16 2-8 0-3 1 2 1-1 1-1 0 15 0-6 1-16 0 10 1-11 1 14 0 0 0 5 1-2 2 5 0-5 2 2 1-9 0-9 1 28 0-13 0 7 0 6 2-9 1 1 0 2 0-11 0 5 1-1 0-16 1 5 0 15 1 1 2 2 0-12 1 18 0-18 1-5 3 8 0 12 0 1 1-16 0 8 0-3 1 4 1 9 1-26 2 26 2-28 0 24 2 4 1-7 0 1 0-14 1 11 1-20 2 14 0-13 0 5 1 10 1-2 0-1 0 11 1-16 2 14 0-5 1-13 2 16 0-14 1 19 0-20 0 22 2-6 0-7 0-5 1-4 0 0 0-4 1 3 2 21 0 0 1-6 2-9 1-2 2-3 2 24 1-16 0-2 1 6 0 11 0-22 2-3 1 11 2 8 0 4 0-11 2-4 3-5 3 1 0 2 2-4 1 11 0-3 1 10 0-20 1 23 1-8 0-15 1 14 2 2 0-4 2 10 5-19 3 10 0-1 7 9 1-10 12 12 2-2 6-3 2 5 21-19 3 8 3 5 45 7 69-15 11-6 10 9 5-6 6-6 2 6 2-3 19 12 28 3 4-16 1 9 0-8 1 13 49-5 27-4 40 7-210 19-53-2-78 3-31-7-8 0-7 0-4 5-3-2-23 5 0-5-2 6-14-5-22-3-4 8-4-5-1-3 0 2-7 2-1-4-8 3-1 2-5 1-3-7-1 3-4 3-6 2-5-3-3-2-6 4" fill="none" marker-start="url(#d)" marker-mid="url(#d)" marker-end="url(#d)"/>
<path d="M336.5 108.5L336.5 166.5" stroke="#939393" stroke-width="1"/>
<path d="M312.5 142.5L366.5 142.5" stroke="#939393" stroke-width="1"/>
<path d="M312.5 108.5L312.5 166.5" stroke="#8c8c8c" stroke-width="1"/>
<path d="M312.5 166.5L366.5 166.5" stroke="#8c8c8c" stroke-width="1"/>
<rect x="329.8" y="136.5" width="2.2" height="1.6" fill="#888" fill-opacity="0.75"/>
<rect x="340.1" y="136.5" width="2.2" height="1.6" fill="#888" fill-opacity="0.75"/>
<rect x="329.8" y="149.0" width="2.2" height="1.6" fill="#888" fill-opacity="0.75"/>
<rect x="340.1" y="149.0" width="2.2" height="1.6" fill="#888" fill-opacity="0.75"/>
<text x="309.0" y="115.0" font-size="3.4" text-anchor="end" fill="#555">10<tspan font-size="2.4" dy="-1.4">5</tspan></text>
<text x="309.0" y="128.2" font-size="3.4" text-anchor="end" fill="#555">10<tspan font-size="2.4" dy="-1.4">4</tspan></text>
<text x="309.0" y="141.2" font-size="3.4" text-anchor="end" fill="#555">10<tspan font-size="2.4" dy="-1.4">3</tspan></text>
<text x="309.0" y="152.7" font-size="3.4" text-anchor="end" fill="#555">10<tspan font-size="2.4" dy="-1.4">2</tspan></text>
<text x="309.0" y="160.2" font-size="3.4" text-anchor="end" fill="#555">0</text>
<text x="319.5" y="174.1" font-size="3.4" text-anchor="middle" fill="#555">-10<tspan font-size="2.4" dy="-1.4">2</tspan><tspan dy="1.4"> 0 10</tspan><tspan font-size="2.4" dy="-1.4">2</tspan></text>
<text x="336.5" y="174.1" font-size="3.4" text-anchor="middle" fill="#555">10<tspan font-size="2.4" dy="-1.4">3</tspan></text>
<text x="348.5" y="174.1" font-size="3.4" text-anchor="middle" fill="#555">10<tspan font-size="2.4" dy="-1.4">4</tspan></text>
<text x="360.5" y="174.1" font-size="3.4" text-anchor="middle" fill="#555">10<tspan font-size="2.4" dy="-1.4">5</tspan></text>
<rect x="316.0" y="167.1" width="8" height="0.9" fill="#888" fill-opacity="0.7"/>
<rect x="310.9" y="111.5" width="1.6" height="0.6" fill="#888" fill-opacity="0.7"/>
<rect x="310.9" y="121.3" width="1.6" height="0.6" fill="#888" fill-opacity="0.7"/>
<rect x="310.9" y="131.1" width="1.6" height="0.6" fill="#888" fill-opacity="0.7"/>
<rect x="310.9" y="140.9" width="1.6" height="0.6" fill="#888" fill-opacity="0.7"/>
<rect x="310.9" y="150.7" width="1.6" height="0.6" fill="#888" fill-opacity="0.7"/>
<rect x="310.9" y="160.5" width="1.6" height="0.6" fill="#888" fill-opacity="0.7"/>
<text x="364.5" y="115.8" font-size="7.5" text-anchor="end" fill="#111">36.2</text>
<rect x="385.5" y="29.5" width="54" height="60" fill="none" stroke="#c4c4c4" stroke-width="1"/>
<ellipse cx="395.0" cy="81.7" rx="7.4" ry="3.7" fill="#c21a16" fill-opacity="1" filter="url(#b1)" transform="rotate(-6 395.0 81.7)"/>
<ellipse cx="417.3" cy="45.0" rx="2.7" ry="2.16" fill="#c21a16" fill-opacity="0.75" filter="url(#b1)"/>
<path transform="scale(.1)" d="M4116 343l132 72-10 3-19 0-12-18-2 11-1-11-2 15-3-4 0-3-1 9-2 2-3-15-5 2-1 11-1-2-1-19-1 23-2-1 0-7-1 0-4 3 0-4-1 4-1-1-1 1 0 1-1-2-1 5 0 1-1-10-2-8 0 14-1-5-2 5-3 3 0 1-4-4 0-5-1-3-2 3-4 3-1-1 0-16-2 20-6-5-9-6-4-7-8 18-1-3-14-10-5 4 0 25 4 14 1-16 3 14 5-18 1-1 1 16 3 2 1-10 2 13 1 3 0-4 1-11 2 13 1-11 0 5 1-13 1 3 0 8 1 4 0-8 2-1 0 14 1-13 1-6 0 20 0-11 2 6 0 4 0-9 2 7 2-8 2-14 0 15 0-2 1 2 0 2 1 1 2-10 1-6 1 15 0 7 1 1 0-3 0 0 1-8 0-6 1 11 0-4 0-11 1-7 2 2 1 8 0-1 0 4 0-10 1 18 0-8 2 6 1 5 0-3 0 6 2-19 1-1 0-7 1 18 0-7 0 5 0-2 0 4 0 7 1-26 0 26 0-3 0 0 0-8 1 5 0 4 0-7 1 9 0-18 1 16 0-12 0 13 0-7 1-7 0 6 2-15 0 4 0 20 2-17 0 11 0-6 0 3 1 7 1-8 0 3 1 6 1-11 0 12 1-16 0 12 1-18 0 23 0 2 2-18 0-3 1 7 1-15 0 28 1-19 0 12 0-5 4-8 0 20 0-25 1 18 1 0 0-2 1 8 0-24 0 7 0 8 0-3 0-3 0 10 1-18 0 25 0-17 2-11 1 26 1-6 0-11 1 19 1-16 1 0 0-13 1 7 0 13 0-3 1 5 1-7 0 9 1-8 1 6 3 4 0-10 0-15 1-1 0 7 0 18 1-8 6 7 2-15 0-6 0-1 2 6 0 17 2-1 1-21 0 3 3 21 3-9 0 9 1-4 0 3 3 0 0-11 2-6 2 5 1 2 1 11 0-12 9 12 4-6 2 6 120 18-99-14-30 3-4 12-5 4-2-18-3 15-2 4-4-21 0 11-1-1-1 0-1 14-2-8-2-15 0 5-1 0-1 8-1-13-3 7 0 13-2-6-2-6 0 11-1-17-2 3-1 19 0-3-3-18 0 19-1-10 0-10 0 25 0-27-1-1-1 15-1-6 0-6 0 2-1 14 0-7 0 3-1 3 0-4-1-5 0-5-1 3 0 13 0-8 0 0 0-7-1 7 0-11 0 0 0 11-1-6 0 3 0 3 0 10 0-14-1 10 0-11 0-3-1 7 0-1-1 7 0-9 0 14 0-2 0-16-1 13 0 7 0-15 0 15-1-12 0 3 0-7 0 4-1-10 0 18 0 3-1-21 0 24 0-3-1-4 0 7-1-3 0-17 0 1-1 0 0 13-1-19 0 18 0-5 0-7-1-7 0 15-1-3-1 9 0-6 0 7 0 5-1-10 0 8 0-25-1 21 0-7 0-6 0 3 0-9 0 17 0-6-1-7 0 14-1-5 0 2 0-13 0-2-1 6 0-7-1 27 0-11-1-5 0-1 0 18 0-13-1 7-2-22 0 7 0 16 0-19-1 0 0 16-2-11 0 1 0-6-1 7 0-7-1 11 0-13 0 26-1-13 0-15 0 7-2 5 0-12 0 19-1 2-1 2 0-9 0-2 0-4-3 14-1-12-2-6 0 11 0-12-1 10 0 5 0-12 0 5-1-6-1 18 0-24 0 17-3-15 0 9 0 11-1-21 0 24 0-5 0-4-1-11 0 3-1 2 0 5-1-15 0 17-1-6 0 3 0-14 0 23-2 1-1-23 0 22 0-23-1 8-2-2-1 23 0-27 0-2-1 2-1 25-1-6-1-11-1 6 0-2-2 7 0-19-1 27 0-15-1 0 0-9-2 1 0 9-1 5 0-19-2-1-22 14-5 8-12-7 31 21 2 14 7-3 4-14 12 3 1 10 1-15 1 10 1 14 1-8 5 12 2-24 2 10 2-2 1 0 1 2 2 10 0-15 0 7 4-13 0 21 0-24 2 9 0-3 6-7 3 7 2-2 1-1 5-1 9 9 8 3 1 12 1-24 2 2 5 5 8-8 0 5 7-4 11 0 8 4 17 11-35 26-8 7-32-15-25 41 18 21-213 13 325 25 22 15-172 51 79-19-199 40-147 46 55 0 84-3 137-7 17 8 57-14 43-2 23 7 16 10 15-1 11-3 24-1 15-2 3 34-2 0-15 4-13-23-26-6-2 13-6-9-8 21-11 0-6-18-10 13-14-5-3 3-2 2-2 7-4-11-1 9-20 0-4-2-3-12-3 17-9 0-2-5-6-2-22 2 0-2-18-5-8 11-2-13-2 7-3 2-8 1-29 4-12-7-8 0-9 6-16-3-3-10-23 12-8-2-1-5-11-13-13 23-4-17-8 5-1 9-3-23-12 22-8-4-7-6-6-4 0-7-1 6-5-9-11 9-6 15 0-2-6-23-20 23-1-16-2 8-5 13-4-12-2 13-2-15-2 12-17-12-1 21 2 18 9-8 3 0 1 1 2-9 0 11 1 5 2-21 4 8 8 13 0-3 4-5 0-1 2 15 5-4 0-9 1 10 3-3 1 4 1-5 0-1 1-10 6-7 3 25 1-14 2 14 1 0 2-1 2-19 0 20 0-4 5 1 1-5 1-3 2-5 1 16 4 0 1-5 2-14 2-4 1 15 1-21 1 29 2-28 1 28 0-28 2 17 3 3 0-9 0 2 3 2 0 6 3 6 0-16 4 16 1-24 0 16 4-20 1 13 1 6 2-9 1 18 0-24 0 2 0 4 0 7 1 2 3 10 2-2 0-4 2 6 2-6 0 3 1-20 0 2 1 17 0-16 1 20 0-5 3-9 0 3 0-3 0 11 2-25 1 17 0-7 0-9 3 9 0 6 1 9 2-12 2 7 7-17 8-2 1 8 1-5 0 0 1 10 1 2 3-8 2 0 1 6 2-6 2 10 1-5 2-5 1 20 4-28 5 28 3 0 3-3 4-5 1-11 4 0 0-1 4 14 0-7 7-7 7 13 2 5 0-7 2-15 5-2 0 5 5 18 8 2 0-16 0 17 4-16 1 16 5-14 2 13 0-6 3-2 1 9 1-9 1-8 11-8 5 24 3-6 0 2 10-17 1 17 6 2 0 2 1-28 1 11 1 13 0 1 4-17 5 2 5 3 3 0 4 13 8-4 1-15 1 15 0-8 2 13 0-3 2 5 3-8 3-5 2-8 3 15 0-14 3-3 0 17 1 5 3-11 0-6 0 9 0-5 1-5 1 11 1 8 0-21 0 2 1 8 2 9 1-15 0 0 2-8 0 10 4 10 0 3 1-7 0-1 2 3 1-2 0-9 2 1 0 8 0 9 1-12 0-8 0 20 0-22 1 2 1 12 1-5 0-7 0-4 1 18 1-20 0 21 0 0 1-17 1-2 0 21 1-17 0 4 0 7 1-5 1-13 2 16 0 0 1 5 1 6 1-18 0-8 2-1 0 3 1 5 0 8 0-8 0 2 1-7 0 2 0-7 1 24 1-18 2 9 2 12 0-1 2-25 0 21 4 7 0-12 1 1 0 4 0-13 0 13 2-8 1-3 2-3 0 5 4 7 2 2 0-14 1 20 2-5 2 5 8-14 0-3 6 5 3 5 5 6 6-11 2 0 11 8 6-12 11 14 0-24 1 10 5 9 1-11 0-5 3 23 9-19 2 8 8 22-2 2-10 1-9 17-1-29-8 1-3 7-16 0-1 10-3-7-3 15-3-12-8 5-14-10-1-7 0 8-7 4-1 2-1-6 0 1-1-11-3 9-2-3-1 7-1-5 0-8-2 27-2-13-1-7-3 9 0 0 0 3-1-9 0 12-1-22 0 1 0 6-2 11-6-11 0-1 0 8 0-12 0 12 0-12-1 15-2-8 0 2-1 18 0-26-5-1-1 6-1 21 0-24-1 4 0 17 0-22-1 23-2-7 0 9-1-22-1 2-1 7 0-2-1 15 0-29-1 4 0-2 0 22-1-12 0 7-1-11-1 17 0-12 0-7 0-1 0 6-2-9 0 17-1-17 0 2-2 11 0-7-1-5 0-2-1 6-1 10 0 11 0-22-1 14-2-9-2 11 0-21 0 9 0-2-5-2 0-3 0 25-1-25 0 0-2 18-2-15-1 15-2-5 0-14-1 4-1-1-2 0 0 16 0-10-1 8-1-9-2 1 0-11-2 26-2-21-1 16-1 0-1-14-2 17-4-3-3-7-1-2-1-12 0 3-1 2-1-1-2 5 0 19-1-14-1 6-1 8-1-18 0-5-2 22-1-5-4-5-1 4-3-13-1 11 0-13 0-4-1 14-7 10-2-5-1 4 0-21-1 1-3 14 0 10-2-28-4 28-1-18-3 13 0-20 0 0-1 24-1-24-2 8-2 0-2-11-1 27-3-28-3 26-3-5-1 5-1-25-2 11-2 17 0-10-1-18-3 8-3 15-1 0-5-19 0-1-2-2 0 2-2 19-1-22-1 19-3-1 0-6-1-11 0 11-1-7-3 2-3-1 0 4-1-6-2 17-1-7-5-3 0-10 0 26-2-8-1-17 0-1-1 16-6 1-1 2-3-18-2 5-5 17-2-5-1-18-1-2-3 5-3 10-4-7-1-8-2 24 0-18-1 9-2 5-1 2-2-2 0-12-1 4-3 1-1 3 0 11 0-20-3 13-1-13 0-1-4 19 0 1-5-25-1 6 0 10-1-17-1 14-1-13 0 3-2 21 0-17-1 9-1 11-3-12-3 6-1-12 0-3-2 2 0 1 0-8 0 24 0-7 0 10-1-14-3-14-1 3 0-3-1-1-1 18-2-15-1-2-1 2 0 4-1 18-2-15 0 8-1-18 0 2 0 17-1-13-2 13 0 5 0 5-1-24-1 14-1-9-1 11 0 0-1-18-3 1-2 12-1 2 0-17-2 4-1 3-2 0 0 21-2-19 0-1 0-7-1 1-1-1-1 9-1-2-1-5-2 16-1 8 0-9 0-1 0-18-1 2-1-2-1 10-1 15 0-4-1-10-1 12-1-7-1-6-2-5-2 23-1-11-1 8-1-18-2 15-3-10-3 13-2 4-1-22-1-2 0 20 0-25-3 20-2-18-1 20 0 3 0-13-1 6-1-11-1 7 0-13-1 28 0-15-1-4-1-8-2 1-1 11-1-14 0 3-3 5-1-8-7 21-3 4-2-23 0-1-1 4-2 24-2-11-1 11-1-27 0 10-1-2-3-3-2 20 0 0 0 1-7-24-7 19 18 24 1-13 2 14 4-8 22-3 4 13 0-13 1-6 3 8 5 2 9-7 0 9 1 1 1-4 6 0 0-2 2-1 1-6 0 6 0-6 1 1 0-2 1 3 1 14 0-15 1-2 5 6 2 11 5-11 7-3 4 7 6 11 4-17 1-1 4 2 2 19 12-16 0 13 1 3 1-20 2-1 3 3 2 18 6 0 5-1 1 0 0-11 11 10 1-17 5 16 19-15 2 3 2-2 6-5 8 5 5-7 5 14 5-6 4-1 12-6 1 17 3-1 7-14 0-2 3 5 6-3 7-3 1 24 4-6 2 3 1-16 1 4 2-3 1 11 2-1 7-12 0 2 12 0 6 16 1-15 0 3 1-8 4 26 2-17 5-1 1-7 1-3 0 9 15-1 6 10 2-6 0-3 1 7 4-7 4 1 8 4 0-11 0 23 6-18 3-5 2 10 1-7 1 12 2-18 7 9 2-2 4 13 4-18 6 23 7-18 1-5 11 0-64 33-11-2-24 0-14-2-10-1-31 0-26 8-29 2-28-7-10 0-12 0-6-1-9 11-129-10" fill="none" marker-start="url(#d)" marker-mid="url(#d)" marker-end="url(#d)"/>
<path d="M409.5 29.5L409.5 89.5" stroke="#939393" stroke-width="1"/>
<path d="M385.5 64.5L439.5 64.5" stroke="#939393" stroke-width="1"/>
<path d="M385.5 29.5L385.5 89.5" stroke="#8c8c8c" stroke-width="1"/>
<path d="M385.5 89.5L439.5 89.5" stroke="#8c8c8c" stroke-width="1"/>
<rect x="402.8" y="58.1" width="2.2" height="1.6" fill="#888" fill-opacity="0.75"/>
<rect x="413.1" y="58.1" width="2.2" height="1.6" fill="#888" fill-opacity="0.75"/>
<rect x="402.8" y="70.4" width="2.2" height="1.6" fill="#888" fill-opacity="0.75"/>
<rect x="413.1" y="70.4" width="2.2" height="1.6" fill="#888" fill-opacity="0.75"/>
<text x="382.0" y="36.0" font-size="3.4" text-anchor="end" fill="#555">10<tspan font-size="2.4" dy="-1.4">5</tspan></text>
<text x="382.0" y="49.8" font-size="3.4" text-anchor="end" fill="#555">10<tspan font-size="2.4" dy="-1.4">4</tspan></text>
<text x="382.0" y="63.6" font-size="3.4" text-anchor="end" fill="#555">10<tspan font-size="2.4" dy="-1.4">3</tspan></text>
<text x="382.0" y="75.4" font-size="3.4" text-anchor="end" fill="#555">10<tspan font-size="2.4" dy="-1.4">2</tspan></text>
<text x="382.0" y="82.9" font-size="3.4" text-anchor="end" fill="#555">0</text>
<text x="392.5" y="97.1" font-size="3.4" text-anchor="middle" fill="#555">-10<tspan font-size="2.4" dy="-1.4">2</tspan><tspan dy="1.4"> 0 10</tspan><tspan font-size="2.4" dy="-1.4">2</tspan></text>
<text x="409.5" y="97.1" font-size="3.4" text-anchor="middle" fill="#555">10<tspan font-size="2.4" dy="-1.4">3</tspan></text>
<text x="421.5" y="97.1" font-size="3.4" text-anchor="middle" fill="#555">10<tspan font-size="2.4" dy="-1.4">4</tspan></text>
<text x="433.5" y="97.1" font-size="3.4" text-anchor="middle" fill="#555">10<tspan font-size="2.4" dy="-1.4">5</tspan></text>
<rect x="389.0" y="90.1" width="8" height="0.9" fill="#888" fill-opacity="0.7"/>
<rect x="383.9" y="32.5" width="1.6" height="0.6" fill="#888" fill-opacity="0.7"/>
<rect x="383.9" y="42.3" width="1.6" height="0.6" fill="#888" fill-opacity="0.7"/>
<rect x="383.9" y="52.1" width="1.6" height="0.6" fill="#888" fill-opacity="0.7"/>
<rect x="383.9" y="61.9" width="1.6" height="0.6" fill="#888" fill-opacity="0.7"/>
<rect x="383.9" y="71.7" width="1.6" height="0.6" fill="#888" fill-opacity="0.7"/>
<rect x="383.9" y="81.5" width="1.6" height="0.6" fill="#888" fill-opacity="0.7"/>
<text x="437.5" y="37.5" font-size="7.5" text-anchor="end" fill="#111">13.4</text>
<rect x="385.5" y="108.5" width="54" height="58" fill="none" stroke="#c4c4c4" stroke-width="1"/>
<ellipse cx="420.5" cy="122.5" rx="3.6" ry="3.8" fill="#c21a16" fill-opacity="0.95" filter="url(#b1)"/>
<ellipse cx="420.8" cy="128.3" rx="2.3" ry="3.2" fill="#c21a16" fill-opacity="0.55" filter="url(#b1)"/>
<ellipse cx="395.9" cy="157.7" rx="4.8" ry="3.6" fill="#c21a16" fill-opacity="0.9" filter="url(#b1)"/>
<path transform="scale(.1)" d="M4232 1116l-72 16-19 7 28 1 20 24 5-4 25 1 3 8 20-9 29 32-8 3-3-1-7 5-2-18-1 10-7-4-2 7-1 0-3-2 0-3 0-4-4 14-2-1-5-17-2 17-1-11-2 0-2 4 0-8-2 8-2 3-1-11 0 2 0-9-1 20 0 2-2-15-1 6-1 9-2-11 0 0-1 7 0-4-1 6 0-10-3-13 0 23-2-15-1-2-1 2 0 16 0-4-2 4-3-2-3-5 0 5 0-4-1 6 0-21-1 15 0-3-2 11-1-7 0-12-3 17-2-24 0 15-3-13 0 10-2-8 0 12-1-19 0 11-1-10-4 10-1 18-4-7 0 2-3-24-4 29-1-4-2 4-1-17-3 15-5-6-4-17-7 52 9-11 6-6 2 18 1-17 1-6 5 5 1 7 2 13 1-17 2 0 1 12 2-5 1 6 1-13 0 5 1 6 1-17 1 20 1 1 1-13 0 15 1-12 0-6 1-7 0-3 1 20 0 3 1-22 0 5 0 17 2 0 1-11 1 15 0-4 0-15 1 7 1 1 0 9 1-14 0 5 0 7 2-1 0 3 0-3 1-14 1 14 0 6 1-4 0-3 1-15 0-2 1 5 0 17 1 2 1-12 1 7 0 3 1-6 0 0 0-8 1-4 0-7 1 26 0-11 0 7 0-15 1 2 0 1 0 14 0-14 1-8 0 11 0 8 0-10 0-10 1 14 0-8 1 1 0 6 0 12 1-2 0-6 0-11 1 10 1 1 0 0 1-8 0 9 0-19 0 21 0-10 1 16 0-10 1 0 1-2 1 7 0-15 1 3 0 9 0-3 1 7 1-8 0 5 1 3 0-4 1 0 0 8 1-9 0 2 1-12 1 10 0-5 0 0 1 7 0-19 0 11 0-10 0 2 1 16 0-7 1-8 0 9 0 8 0 5 0-2 1-26 1 2 1 21 0-21 0 5 1 17 0-18 0 11 0-9 1-6 0 15 0 6 1-13 0 14 1 1 0-16 0 9 0 6 1 0 1-3 0-16 1 4 0 14 1-7 0-16 0 26 1-15 0 17 2-8 1-1 0-18 1 23 0-24 0 25 1-5 0 8 1-7 0-6 1 10 0-2 1-19 0 21 0-2 1 4 1-1 0-21 0 7 1-6 1 1 3 7 1 10 2-14 0-10 0 6 1 11 4-1 1 4 3-18 8 1 3 23 6-23 3 21-18 11-1 3-1-2-3 11-2-5 0 15-1-8 0-15-1 8-5 1 0-14-1 8-3 20-1-11-1-5 0 10-1 5-3-10 0-3-3-7-1 11 0 4 0-5-1-4 0-3 0 2 0-5-1 13-1-4 0-6 0 13 0-19 0 22-1-12 0 0-1-7 0-4 0 4-1 3 0 11 0-2-1 4-1-16 0 11 0-6 0 4-1-15 0 0 0 9-1 13 0-5-1-1 0-16 0 17 0 6-1 5 0-7-1 6-1-19 0 6 0-15 0 12 0-3 0 15 0-4-1-15 0 11 0-1 0 10 0 0 0-20-1 15 0 9-1-4 0-4 0 7 0-27 0 25-1-15 0-10 0 27 0-7 0 8 0-25-1 4 0 10 0-3 0-8-1 8-1-8 0 19-1-4 0-5 0-6-1-3 0 18 0-1-1-16 0 9 0 11-1-6 0 6-1-12 0-2 0-10 0-1 0 19-1-4 0-4 0-11 0 22-1-15 0-9-1 4 0 7-1-5 0 6 0 4-1-2-1-2 0 1 0 3 0 4 0-20 0 15 0-4-1-4 0-5 0 11 0-1-1 11 0-14-1-10 0 8 0 8-1-12 0 2-1 5-1 5 0 8-1-17 0-4 0 19 0-14-1-3 0 23 0-25 0 5-1 16 0-22 0 3-1 13 0 4-1 1 0-6 0-18 0 16-1 8 0 2 0-4-1-16 0-3-1 3 0 22-1-11 0-9 0 0-1 13 0-15 0 23 0-14 0 3 0-13-1 0 0 13 0 1-1-6-1 13-1-18 0-3-1 23 0-22 0 16-1-16 0 9-1-15-1 3 0 3-1-3-1 0 0 19-2-19-1 11 0 10-1-15 0 9 0-14-1 16 0 4 0-15-3-6-2 21-5 2-4-13-1 2-1 9-1 3-1-25-1 10-2-1-10 16-3-17-3-2-17 10 21 15 2 7 8 1 7-2 3-6 0 3 1-6 0 14 7-7 4-4 1 22 2-6 1 4 5 5 1-26 0-1 2 0 1 13 1 3 0 9 0 0 1 3 0-8 4-13 0 17 1-24 1 13 0-14 0 4 1-4 0 7 1 3 4 10 0 0 1-6 1 7 0-10 0 16 0 2 1-22 2 8 1-7 0-6 0 11 1 11 0 5 1-20 0-6 0 6 1 1 0 14 0-10 1 7 1-19 1 14 1 11 1-7 0-12 0 7 0 11 1-22 0-2 2 11 0 5 3 0 0-7 0 14 1 3 2-18 0-8 1 6 2 5 0 11 1-10 0-9 0 4 1 16 1-9 0-7 0 8 0-10 1-1 0 6 1-4 1-4 1 2 1 15 0 5 0-20 0-4 1 7 1-5 1 16 0 3 3-10 0 0 1 16 0-6 2-15 1-3 0 5 3 0 1 14 0-22 2 20 2-16 0-4 4 1 0 25 2-26 4 27 1-2 0-4 6-22 34 21 37 26-7 6-57-1-5 4-1-9-2 0-3 2-1 0-10-1-2 4-5-3-3-8 0 9-3-20-2 18-2 3-2-7-1-8 0 18 0-13 0 0 0 11-1-4-1-5 0-9-1 13 0-16-1-1 0 21 0 3-1-14-1-9 0 21-3-18-2 14-1 8 0-14-1 0 0 6-1 4-2-18 0 6 0-1-1 5 0-12-2 3 0 14-1-10 0 2 0-6 0 21-1-19 0-8 0 18 0-18-1 2 0 25-1-18-1 10 0-3-1-13 0 0 0 17-1-15 0 22 0-20 0 10-1-4 0-8-1 15-2-2 0 9-1-12 0 7 0-12-2-3 0 6 0 5-1 11 0-16-1-3 0 9-1 10 0-20-1-9 0 3-3 15 0 5 0 1-3 4-1-4 0 4-1-11-4-15-2 1 0-2-3 28-2-29-1 1-1 3-2 7 0-2 0-5-4 17-1-19 0 1-3 5 0 11-1-16 0 7-2 4 0-4-5 3-2-9-6 18-11-22-79 23-66-11-46-8-2-3-2 17 32 37 5 2 48-2 22-9 17 8 94 3 4-27 1 10 18-6 1 24 7-21 3 4 0 6 2-3 1 15 0-19 1 11 1 4 2 0 0-24 3 9 1 18 2-6 1-20 2 19 0-14 0 2 1-3 0-4 0 1 1 2 1 24 1-25 0 13 1-6 1 0 0 3 1-10 2 15 0 9 1-23 1-4 2 6 0 15 0 5 1-13 0 2 0-6 0-8 2 4 0 23 0-1 3-26 1 22 0-18 3 18 0 5 6-19 0 12 5-16 1 9 10 0 1-12 5 23 2-11 0 0 0 7 1-2 2 9 4-29 1 4 90 4-21 49-56-11-13-6-2 3 0-10-4-3-2 17-1-5-2 15-7 0-2-9-1 11-2-4 0-8 0-13-7 5 0-9-4 9 0 9-2-1-2-15-2 21-1-7-1 1-2-3 0 11 0-14-1-2-4 17-8-14 0-4-1 0 0 20 0-23-5-1 0 3-1 11-2 8 0-18-1 13-2-14-1 17-2 5-1-1-2-16 0-7 0-2-4 6-7 15-5 3-1-15-2 4-9 5-15-1-7-14-43 0-75 21-157-4-2 21 8 13 92-19 152-6 4-2 6 18 13 5 6-4 1-6 1 3 1 5 2 4 2-14 12 16 3-23 9 8 3-10 1 6 0 12 0-6 1 7 2-11 3 4 1 9 4 2 0-10 0 8 1-13 1 5 0 7 2 3 0-1 1-17 1 11 0-12 2 18 1-24 0 1 0 27 0-5 2-3 1-11 2 1 0 18 0-4 1-17 2 11 1-17 1 23 0-22 2 2 2 10 2-12 0 24 2-16 2 4 2 3 1-12 2 0 2-3 2 18 1-17 1 6 0-6 4 25 0-22 0-2 2 14 2 5 1-11 2 13 2-2 2-5 4-2 6 9 8-10 76 42-7-21-38-2-9-4-2 4-1 22-11-4-9 6-5 0-3-21-2 18 0-18-3 22-1-20 0 7-5-6-1 10 0-19-2 20-2-1-1-3-1 9-3-25-3 12-2-9-1-4-1 16 0 9-1-21 0 12-1 9-1-17-1 0 0 11-1 6 0-4 0-11 0 16-2-26-1 15-1-13-2 27-5-20-2 0-1 10-1-10 0 5 0 8 0-21-3 6-2 10-1 9-2-24-3 3 0 23-5-9-3-3-2-16-2 8 0 8-3-8-6-2-1 4 0-7 0 5 0 2 0-10-1 8-1-5-2 11-1-12-5 17-5-17-36 2-68 25-62-29-48 21-5-11-13 15-3 15 4 13 16 0 9-7 13-3 33 9 12-1 11-21 86 2 41 19 2-10 3 2 4 3 2-4 5 13 1-17 0 5 2-1 3-7 1 20 1-22 0 19 2 0 4-8 5 6 1-14 5 7 0 11 1-10 1 2 1 12 3-23 0 16 0 2 2-12 2 10 0-14 1 1 2 11 1-4 1 1 7 7 0-23 0 10 1 11 1-20 2 11 1 16 2-28 0 14 0-14 3 9 3 20 1-28 0 4 1 5 2 15 0-9 5-13 0 8 1 1 3 14 5-16 1 4 2 12 1-17 3 17 5-21 2 4 10 18 4-19 28 14 10 8-1 11-11 17-27-8-6-13-10 19-1-5-4-14-5 13-1-1 0-6-1-2-1-7-1 20-5-8-1 9-1-23 0 11-1 11 0-2-7 7-2-11-1 1-2 2-1-15 0 0-1 17-7-11-1 14-3-15-1-3 0 11-1 3 0-17-4 19-2-17-1-4 0 23-3-17-1 1-2 7 0-7-1-8 0 20-1-22-1 3 0-3-2 18 0 11-2-1-3-22-1 17-4 2 0-5-1-1-1 1-1-7-1 7-2-12-7 10-7 7-8-4-2-16-18-5-14 15-10-11-1 24-13-17-5 17-5-20-38-2-2 14 0 0-16-20-19 3-2 9-25 14 0 2-9-12-72-13-10 16-1-4-28 27 13 8 31 1 5 7 3-5 3-17 0 5 1-4 0 18 1 2 0-15 6 12 3 5 2-4 2-12 6 2 1 10 2-12 2 8 7 8 1-3 3-21 2-1 0 9 3 9 1-1 7 6 0-11 1-8 1 6 4 12 4 2 0-4 4-8 4 9 6-5 1 2 3 6 5-18 14 18 5-5 0-5 16 0 16 6 8-6 11 11 1-28 9 19 7 8 12-17 1 18 8-1 42-18 1 19 1-12 3 7 0 2 2 1 2-7 0 5 2-14 7 10 8 7 4-3 2 1 1-26 1 9 1 1 0-5 1 0 1 11 2 5 1-11 5-3 6 12 0-3 1 7 1 5 1-27 1 12 0 7 1-3 1-17 0 25 2-22 0 18 1 4 1-20 1 16 1 2 3-15 1 6 1-11 0 15 1 3 1-13 0 16 2-5 1 8 0-9 1 4 1-14 2 5 0-7 1 14 1-20 2 14 0 14 0-25 1 13 1-10 3-6 0 8 2 3 0-8 5 13 1-3 3 6 1-17 2 4 2 17 0 6 1-19 1 19 1-2 1 2 1-24 7 24 2-23 2-2 5 24 5-18 4 18 0-28 3 22 9-7 24-10 2 10 1 43-3-22-5 2-22 15-10-7-3 11-2-17-2-9-1 23-1 2-5-17-1 20-1-19-1-6-2 21 0-13-1-6 0 19 0 0 0 4-6-17-1-10-2 15-1 11 0 1-1-15 0 9-1-5-2-12-1 1-1-3 0-2-1 12 0-6-4-6-2 15-1 6-3-12 0-10 0 18 0 2-1 0-1-2-1-9 0 0-1 5-1 13 0-1-1-9-4 7-3-11-2 12-2-23 0 10-2 9-1 6 0-16-1 9 0 0-1-19-1-1-2 14-1 2 0-15-1 16 0-1-2-15 0-1-1 25-1-5-2 2-1-16 0 21-2-3-1-25 0 7 0 19 0 0-2-17-1 0-3 2-1-6-1-2-3 3-1 21-1-3 0-21-6 21-1-5-3 2-1 3-1-11-6 4-4-3-4 8-12-20-3 18-4-3-3 12-2-20-9 4-2 12-4-11-4-8-3 10-18-12-4 2-8 20-4-14-18-3-8-6-8-1-3 9 0 8-2-12-3 18-8-13-2 17-2-1-1-11-4-12 0-1-2 19-2-11-2 8-4-4-1-2-1 5-1-12 0 2 0 9-2-7 0-10 0 22-1 4 0-6-3 5 0-17 0 5-1-2 0-11 0 10-1-4-2-6 0 19-1-11-1 12-1-7-2-2-2-4-3 10-1-17-2 20 0 6 0-9-1 2 0 3-1-13 0 13-2-5-1 4 0-21-2 19-1-12-1 20-1-14 0 14-1-19-1 13 0-3-1 4-1-1-1-20-1 8-1 1-2 12-2 2-1-6 0 4-1-8-1-15 0 28 0-3-1-11 0 9-2-3 0 0-1 5 0-10 0 0 0 4 0 5 0-12-1 14 0-16 0 16-1-3-4 6-1-5-2 1-2-5 0-16 0 9 0-4-1 8 0 12 0-11-1 2 0 9-2-16-2-10 0 26-3-29-1 5-1 13-2 9-2-22-3 22 0-2 0-7-2 5-1-16-5 17-2-2 0 7-1-15 0 13-2-20-1 20 0-2-3-9-6-4 0-4-1 16 0 5-6-6-6-9-5 5-3 3-1-7-14-1-6 30 3 4 6 6 1 5 5-6 4-15 0 17 1-10 1 0 2-8 0 6 0 16 2-12 2 9 2-1 3-23 2-1 0 9 2 4 1-2 1-6 0 5 2-10 2 13 0-4 0 1 1-11 1 2 4 20 0-11 1 4 0-9 1 3 1 3 1-7 1 3 1 8 1-6 0 0 1-1 0-6 0 3 1 7 0 13 0 1 2-7 0-6 0-1 0 9 1-8 2 14 0-13 0-6 1 19 1-26 0 0 1 13 0-14 0 26 1 0 1-17 0 0 0 18 1-14 0-4 0 8 1 11 0-5 2-12 1 16 1-25 0 25 1-17 1-8 0-2 1 17 0-9 1 0 1-8 0 25 0-6 1 5 0-8 0 8 0-8 1-17 0 7 1-4 1-2 0 17 0-4 3-1 0 6 1 5 0-17 1 6 0 4 1-15 0 17 0 2 1 3 0-7 1-12 0 19 1-15 0-4 1-5 0 8 1 20 0-23 1-1 1-2 0 20 0-2 0-5 0 7 1-14 0-5 1 22 0-20 1 0 0 19 1-13 0 4 0-10 1 18 1-10 1 5 0-4 1 1 0 5 0-18 1 11 0 11 0-5 1-12 0 21 1-9 0-17 2 13 0-9 0 14 1-20 0 26 0-2 0-4 1-1 0-7 0 3 0-3 2 2 2 1 0-4 2 9 0 6 1-17 0-1 0 13 1 3 2-13 0-6 0 23 0-9 2-9 0 14 0-13 1-8 1 0 0 10 0-2 1 2 0-11 0 2 1-1 1 0 0 13 1-2 1-13 0 16 2-6 0 2 3 3 2-16 0 19 1-17 2 22 2-20 1 24 2-16 1-12 2 0 0 0 0 1 1 23 1-13 1 12 0-3 1 1 0 7 2-4 2 2 1-18 4 16 0-3 2-2 3 10 3-27 4 3 1 13 9-10 1 2 1-4 0 22 4-23 6 21 8-25 8 26 1-2 6 1 0-5 1-18 1 14 13-17 0 11 2 2 1 14 6-5 2-2 8-4 2 2 16-11 3 5 1-6 0-5 10 16 16-1 9-10 7-5 3 21 4 2 0-4 1-9 1 18 1-18 0 1 3-9 1 4 2 10 1-7 1 11 1 4 0-17 2 13 2-6 0 3 0 3 1 4 1-14 0 11 2-3 2-5 1 4 0 10 0-2 1-22 3 15 1 4 1-5 0-8 1 8 2-11 1 6 1 7 2-17 0 8 1-10 1 7 3 8 4-6 2-8 1 27 1-22 1 5 0-2 0 9 1 5 1 2 2-10 0-4 0-8 1 23 1-20 1 15 0 1 2-11 1 13 0-12 1-12 1 3 3 1 6 17 3-4 2-8 1 1 1-1 1 12 2-8 1 5 2-17 4 0 0 11 4 3 1-4 4-5 3 7 1 3 1 9 14-17 3-9 4 27 7-13 3 9 2-22 51 0 10 0-30 31-6 21-26-17-11 22-6-10-30 5-11 5-10-22-1 17-1-2-7 3-6-2-1-5 0-17-4 26-4-21-2 18-1 1-4-9-1 2 0-11-2-6-1 8-5 7-1 12 0-22-7 12-3-17-6 1-1 10-3 3-3 15-3-24-28 16-5-16-17 9-3-2-12-3-5 12-7-14-3 1-5-4-25 18-2-16-2-5 0 22-1-17-6-5-2 22 0 6-4-26-1 12-3 5 0 0-2-12-4-4-1 2-1 3 0-4 0 12-1-14-2 9-2-2 0-6-8 16-2-6-1-12-1 9-3 8-1-10-2 0-2 2 0-5-5 22-5-9-1-17 0 26-1-9 0-17 0 25 0-22-3 0-1 7 0 3-1-7-1 11-2-9-1-3-1-2 0-4-1 7-1 15-1-10 0 10-1-13-1 9-2-18 0 23-3-21-1 13-1 2 0 2 0-13-1 2-1 0 0-7-2 8-1 18 0-10-1-2 0-12-1 22 0-7 0 7-2 1-1-11-1 7-1-19-1 6 0 14-2-19 0 3 0-1-1 15 0-14-1 7 0-1-1-7 0-5 0-1 0 12-1 16 0-23-1 20 0-24 0 11 0-12 0 8 0 13-1-4 0-8-1 19 0-26 0-3-1 16-1-11-1 6-1-11-2 24-1-21 0-2-1 10 0 2 0 0-3 1 0-9 0 6-1-5 0 0-1 15-1-12-1 10 0-15 0 25 0-4-1 2-2-18-2 20-1-23 0 0 0 15-2-8-1-5 0 5-2 12 0-23 0 22-2-15 0-6 0 20-1-11-1 7 0 6-2-3-1-4-1 11-1-19 0 11 0-15-4 10-1-16 0 2-4 23-1-18 0 13 0-1-1 10-1-27-2 8-1 10-1-4-4 0-1-13-1-3-2 1 0 24-1-24-3 2-1 5-1 7 0 3-1-9-2-7-3 19-2 0-21-19-6 10 25 18 6 27 11-27 20 7 2 12 7-9 5-2 7 1 1-9 1 4 2 2 0-4 1 0 5 6 2 3 0 0 0 14 3-16 4 4 7-1 2-8 1-2 2 12 3-10 12 18 8-10 0-5 5-2 0-4 1 3 5 20 1-14 1 8 14-16 8 5 5 2 4-2 21-2 11 1 38 8 11-12 10 3 24 9 1-6 16 7 6-13 8 22 6-22 3 24 15-8 7-15 2-3 3 27 7-14 7 9 11-22 26 12 57-4-72 26-22 3-3-3-3 1-61 0-231 1-6 2" fill="none" marker-start="url(#d)" marker-mid="url(#d)" marker-end="url(#d)"/>
<path d="M409.5 108.5L409.5 166.5" stroke="#939393" stroke-width="1"/>
<path d="M385.5 142.5L439.5 142.5" stroke="#939393" stroke-width="1"/>
<path d="M385.5 108.5L385.5 166.5" stroke="#8c8c8c" stroke-width="1"/>
<path d="M385.5 166.5L439.5 166.5" stroke="#8c8c8c" stroke-width="1"/>
<rect x="402.8" y="136.5" width="2.2" height="1.6" fill="#888" fill-opacity="0.75"/>
<rect x="413.1" y="136.5" width="2.2" height="1.6" fill="#888" fill-opacity="0.75"/>
<rect x="402.8" y="149.0" width="2.2" height="1.6" fill="#888" fill-opacity="0.75"/>
<rect x="413.1" y="149.0" width="2.2" height="1.6" fill="#888" fill-opacity="0.75"/>
<text x="382.0" y="115.0" font-size="3.4" text-anchor="end" fill="#555">10<tspan font-size="2.4" dy="-1.4">5</tspan></text>
<text x="382.0" y="128.2" font-size="3.4" text-anchor="end" fill="#555">10<tspan font-size="2.4" dy="-1.4">4</tspan></text>
<text x="382.0" y="141.2" font-size="3.4" text-anchor="end" fill="#555">10<tspan font-size="2.4" dy="-1.4">3</tspan></text>
<text x="382.0" y="152.7" font-size="3.4" text-anchor="end" fill="#555">10<tspan font-size="2.4" dy="-1.4">2</tspan></text>
<text x="382.0" y="160.2" font-size="3.4" text-anchor="end" fill="#555">0</text>
<text x="392.5" y="174.1" font-size="3.4" text-anchor="middle" fill="#555">-10<tspan font-size="2.4" dy="-1.4">2</tspan><tspan dy="1.4"> 0 10</tspan><tspan font-size="2.4" dy="-1.4">2</tspan></text>
<text x="409.5" y="174.1" font-size="3.4" text-anchor="middle" fill="#555">10<tspan font-size="2.4" dy="-1.4">3</tspan></text>
<text x="421.5" y="174.1" font-size="3.4" text-anchor="middle" fill="#555">10<tspan font-size="2.4" dy="-1.4">4</tspan></text>
<text x="433.5" y="174.1" font-size="3.4" text-anchor="middle" fill="#555">10<tspan font-size="2.4" dy="-1.4">5</tspan></text>
<rect x="389.0" y="167.1" width="8" height="0.9" fill="#888" fill-opacity="0.7"/>
<rect x="383.9" y="111.5" width="1.6" height="0.6" fill="#888" fill-opacity="0.7"/>
<rect x="383.9" y="121.3" width="1.6" height="0.6" fill="#888" fill-opacity="0.7"/>
<rect x="383.9" y="131.1" width="1.6" height="0.6" fill="#888" fill-opacity="0.7"/>
<rect x="383.9" y="140.9" width="1.6" height="0.6" fill="#888" fill-opacity="0.7"/>
<rect x="383.9" y="150.7" width="1.6" height="0.6" fill="#888" fill-opacity="0.7"/>
<rect x="383.9" y="160.5" width="1.6" height="0.6" fill="#888" fill-opacity="0.7"/>
<text x="437.5" y="115.8" font-size="7.5" text-anchor="end" fill="#111">52.8</text>
<rect x="459.5" y="29.5" width="54" height="60" fill="none" stroke="#c4c4c4" stroke-width="1"/>
<ellipse cx="469.3" cy="81.7" rx="7.4" ry="3.5" fill="#c21a16" fill-opacity="1" filter="url(#b1)" transform="rotate(-6 469.3 81.7)"/>
<ellipse cx="494.0" cy="44.0" rx="5.4" ry="2.25" fill="#c21a16" fill-opacity="0.75" filter="url(#b1)" transform="rotate(-16 494.0 44.0)"/>
<path transform="scale(.1)" d="M5106 336l-57 16-140 26 0 6 21-5 5 10 16-12 17-6 1 18 4-3 10-5 2-1 8-7 1 1 0 5 3-14 7 14 0-13 9-5 15 28 8-14 10-5 7 9 22 6 28 19 0 14-31-9-13 10-7-4-4-24-2 24-6 2-1-14-1 6-5-12-1 14 0-18-1 3 0 0-1-2-1 24-1-27-1 23-2 4-6 1-2-8-4 1 0-17-1 4-1 15-1-8 0 5 0 5 0-18-1 8 0 0-1 11-1-6-1 4 0 3-5-7 0 4-2-23-1 25 0-9-1 5-1-14-1 19-1-10 0 3-1-17-1 11-7-14 0-1-2 20 0-9-1 15 0-1-1-22-1 18-1-14-1 17-1-16-1 17 0-21-1 22-1-8 0 1-3 5-1-16 0 18 0 2-2 1-3-1 0-15 0 11-2 2 0-17 0 20 0 0 0-22-2 15-1-6 0 9-2-7 0 7 0-9-1-2-1 11-1-9-4 10-2 2-1-9 0-11-1 9-2-14-1 19-4 3-3 0 0-13-1 9-2 3 0-8-3 9-2 1 0-6-3 2-1 6-1-3-1 3-1-14-2 8-2 0-1-14 0 19-2-12-6 4 0 9-1 1-1-20-7 8-14 2-3 1-1-13-3 1-7 10-2 8-39-5 3 22 7-7 1 23 10-1 2-7 2-2 0 2 4-4 2 2 0 3 10-10 1 11 1-11 1-9 2 19 1 4 0-25 1 7 2 3 1 2 0 12 1-3 0-3 0-9 3 11 0 0 2-2 0-13 2 15 2 3 1 5 1-13 0 5 1-8 0 12 0-1 1-24 1 25 0-12 0 13 0 0 1-26 2 26 0-11 2 6 2-19 1 17 3-15 0 24 1-25 0 25 0-3 1-23 0 25 2 1 0-17 1 15 1-13 1-6 0 8 0 6 1 2 2-3 0 7 0 1 1-27 0 5 0 2 1-4 2 1 1-5 0 26 0 2 1 0 0-21 0 7 1 7 1-7 0 7 1-3 0-15 0 13 1 6 2-9 0-10 0 0 2 19 0-21 0 21 0-1 1-12 0 8 0-8 0 18 0-3 1-16 0 18 0-6 1 7 0 1 1-25 0 19 0-12 1 15 2-5 0-17 0 21 1-7 0-6 2 17 1-14 0 6 2 0 1 8 1-27 0 16 0 8 0-11 1-6 0 11 0 8 1-23 0 5 0-2 0 6 0 3 1-10 0-6 1 5 1 9 1-2 1 14 2-7 3-7 0-11 0 21 1-2 1-7 1 15 1-14 1-10 2 9 1-1 0-12 0 15 1 2 0-4 1 3 0-8 1 1 0 1 1 8 0-8 0 19 1-16 1 12 0-12 1-10 1 6 0 13 1-4 0 2 0-16 0 12 2 0 0-9 0 12 0-9 1 17 0-25 2 11 2 1 2-6 1 17 0-25 2 4 1 3 0 10 0 2 2-18 1 6 0 0 0 15 1-12 0-7 0 15 1-3 0 0 3 8 1-23 0 4 0 6 2-1 2-1 1 3 0-9 1-2 2 24 0-13 1 7 1-14 1 23 1-16 0-7 1 9 0-12 1 17 2-14 1 10 3 0 0 11 1-5 0 7 1-25 2 22 1-24 1 9 2 8 0-16 3 8 1-8 1 20 3-13 1-1 5 12 1-14 0 18 1-11 1-8 10 1 1-5 1 20 8-4 2-13 2 8 7-8 25 1 0 4-24 31-44 17-4-17-1 0-3-5-9 17-6-1-8-7-3-5 0-7-1 3-4 15-5 5-2-22 0 3-1 13 0-6-4-6 0-5-1 13-1-1 0-12-1 3-1 20 0-19-3 11-1-4-1 1 0 14 0 0 0-23-3 7 0 9 0-16-1 2-1-2-1 20-1-17 0 8-1-8-1-5-1 7-2-8 0 23 0-19-1 3 0 11-2 2 0-13-1-8-1 29 0-8-1-16 0 1-2 16-3-22 0 5-1-5-2 24-1-14 0-10 0 1 0 0 0 3-4-3-2 22-2-3 0-12 0-5 0 9 0 3-1-7-1 21-2-1 0-2 0-22-2 21-1-10-2-15-2 1 0 6-1-7-1 23-2-17 0-2-2 5-1 5 0 0-1-3-1 4 0-6-1 13 0-3-1-7-1 11 0-20-2-3-1 10-1-2-1-4 0 1 0-1-1 18-2-18-1 10 0-14-1 2-1 8 0 13-1-1 0-1-2-15-1 17 0-5 0-10 0-1-1 21-1-4 0 0-1-20-1 3-1 3-1 11-1 1-4-19-1 8 0 2 0-10 0 12-1 9 0-2-1-22 0 15-2-10-3 16-1-20 0 1-1 1 0 21 0-16-1 19 0-24-1 15-1-3-1-8 0 1-1 19 0-7-1 9-2-22-1 14-1 3-2-4-1-5-2-11-1 22-3-17-2 12-1-7-1 7 0 8-2-27-2 3 0 24-2-5-3 5-3-4 0-16-2 13-6-10-6 1-1-4-17-7-3 1-5 11-5 1-2-11-7 19-22-8-5 35 49 4 0-24 2 16 21 0 11 5 1-16 5 4 1 17 7-17 2 3 0 11 1-23 1 11 7-10 1 5 1 0 0-6 8 5 2 8 3 12 7-18 0-4 6 18 4-18 1 2 10-1 5 4 5 5 3-5 1 4 0-5 7 11 4 0 3-2 4-4 8-12 4 10 2-3 8-6 1-1 22 26 16-14 20 4 69 5-205 13-13-3-8 5-57-5-45 3-156 55 109-9 213 4 9-2 31 4-91 6-192-2-12 36 186-2 126 5 116 49-386 25 110 1 23-13 158 5 111 37 0 2-10-10-23-9-1 21-101-26-328 58 222-4 3-4 32-9 29 0 1-11 9 21 6 7 29-6 34-1 39 7 19-12 4 1 12-6 1 8 5 2 1-11 1 9 10-16 6 47-5 6-2-3 0-23-4 13-1 6-2-8 0 7 0-16-3 15-1-12-1-6-2 8-2 15-3-10-1 7-7-8 0 4-19-13-2 16-10 4-15 4-8-5-28-11-4 11-3-7-5-1-7 12-6-4-3-2-1 5-4-7-4 2-1 6-3-9-6 12 0-9-3 7-14 2-4-7-1 7-2-20 0 19-4-4-6-6-22-4-11 11-13-9 0-7-2 17-7-2-4-10 0 14-3-10-10 7-11 4-2 0-5-8-6-10-21 6-15 8-33-15-2 10-7 7-33-20-1 20-6-3-2-7 0 10-7-6-3-19-7 25-1-1-2-7-6 2-8 7-4-8-6-3-7-8-6 9-17 3-25 7-3-4-3 23 3-4 1-10 3 19 5 1 2-4 1-4 1 3 4-14 10 17 1-7 0-2 3 14 5-20 1 4 0 9 2-17 1 1 7 14 2 5 1-15 6 16 0 5 1-14 1 5 2-5 1-13 0 15 5 9 2 3 2-9 2-1 0-15 0 9 0 17 2-23 0 21 1-5 2-9 1 14 0-18 1 20 0-8 2-1 1 0 0-1 3 3 3-8 0-6 0-2 1 4 2-3 1 18 1 3 1-10 0 8 2-7 1-19 1 28 0-14 4 11 3-17 1 10 2 6 1 3 2-16 1 1 1 13 0-15 8 15 0-1 8 4 0-2 1-22 0 9 0 0 2 16 6-25 0 20 5-5 0 6 4-13 0-6 3 14 3 9 2-1 0-12 1-11 2 15 5-2 0-11 1 8 1-9 1 9 2 8 1-2 0-2 1 3 2-18 1 21 1-24 1 25 1 2 2-5 0 2 1-14 1-2 4 20 2-11 1 11 13-14 5 2 1-3 1 1 4 4 2 7 3-16 5 7 1-8 4 1 1 6 2-16 1 19 0 7 5-16 1 15 5-12 0-8 1 11 0 4 3-13 6 15 3 1 1 6 0-2 1-4 0-10 1 3 2 3 5 1 1 1 1 2 1-22 0 4 3 9 0-7 2 14 0-1 0-6 0 12 2-23 0 14 0 6 3 3 0-14 2 16 0-4 3-7 0-12 1 5 1 15 1-14 0 11 1-3 0-13 1-6 1 10 0-10 0 18 1-14 2 14 1 8 1-1 2 4 4-6 0-17 1 6 5 12 0 2 2-17 0-4 0 10 0 4 0 5 1-9 1-4 0 13 0 5 1-14 3-15 0 14 0 6 1 7 2 1 6-12 0-10 5 16 1-11 0 17 0-24 1 2 1 13 0-1 2-18 3 24 1-6 0 5 0-13 1 6 1 2 0-1 3-3 2 13 0-17 4 12 4-3 4-17 0 2 1 1 0 17 2-5 0-11 1 11 0-1 2-7 1 1 1 14 0-3 1 5 2-16 1 12 1 0 1 7 1-17 0 9 1 1 0-2 1 0 2 7 1-24 1 25 0-7 0 3 1-19 2 17 0-6 2 11 0-25 1 14 0 11 1 0 0-14 2 8 2-6 3 10 0-3 0-13 0 9 1-10 2 12 2 3 2 5 1-14 4-8 1 13 0 1 0-14 2 7 0 5 1 10 2-1 1-17 0 3 7 0 2-11 2 10 6 12 4-13 7-6 4 0 9 11 1 9 18-8 3-2 4-4 3 1 4-8 4 8 7 5 3-15 5 7 4 14 5-18 5 13-3 19-6-3-4-3-33 6-17 5-13-11-3 23-12-19-2-3-11 4-1-3-3 4-10 6-1-6-1-5 0 19-3-2-1 4-1-18-1 8 0 14 0-19 0 1-1-7-3 4 0 21-3-13-1-9 0 16 0 1-1-19 0 9-1-3-2-5 0 23 0-24-1 0-1 15 0-18-1 28-4 0 0-25-2 8 0-9-2 12-1-5 0 0 0 4-2-11 0-2-3 7-1 13-1-19 0 0-1 7-1 11-1-6 0-10-1 15 0 2 0 3-2-6 0 10-1-27 0 0 0 10-1-10-1 12-2-9-1 6-2-5-1 9-1-12-1 12-5-12-3 9-2 2-2-8-1-4-1 13-1-9-2 19 0 0-2-17-4 7 0-11-2 9 0-6 0 1-3 10-1-11-2 9-2 7-2-19 0 22-2-6-2-11 0-4-2 18-1-17 0 23 0-18-1 5-1 3 0 4-1-5 0-15-1 0-1 14 0-4 0 1-1-10-1-2 0 23 0-12-2 5-1-15-2 13 0-6-1-3-1-2-3 12-1-12-1 8 0-10 0-1-1 7 0-1-1 7 0 1-2 2 0 3-1-14-2 9 0-5-1-2-1-1-1 8 0-8-1 1 0 1-1 11 0 6-2-17 0 0 0 6 0-10-1 9 0-11-1 11 0-5-1 5-1-4 0 11-3-17-1 8-1 9-5 0-1-11-3 12-3-20 0 6-2 1-1 2-5 10-1-16-3 6-10 3-1-1 0-8-6 6-2 1-4 13-1-18-3-2-8 23-4-10-4-2-9-15-1 10-2-6 0 9-8-8-2 4-2 4 0-1-2 7-2-16 0 16-3-5 0-14-3 24-3-19-3 22-1 2 0-5-3 3 0-27-4 2 0 9-1-1-1 1-1 14 0-18 0 1-1 21-2-6 0-2 0-14-2 0-1 4 0-1-5-6 0 7 0 7-1 8 0-18-1-3-1 18-1-9 0 2 0-11 0 17-2-12 0 0-1-7-1 0-1 12-1-5-1-8-2 17 0-17-2-1 0 8 0 8-1-2 0-9-2 5-1 6-1-17-1 26-2-15-2-3 0 15-1-7 0-1-2-2-2-13 0 27-3-15-1-4 0-6-1 11-1 11-2-18 0 14-3-14-3 21 0-10-2-10 0 8 0 8-3-2-1-19-3-1 0 19-4-20-2 1 0 16-1 9 0 0-3-17 0-6 0 11 0-4-1-7 0 25-1-7 0 3 0-16 0 14-2-6 0 11 0-14-1 8 0-15-1 10-1-14 0 5-2-3-1 6-2 6-2 9-1-23 0 9-1-2-3-2-2 6 0 5 0-5 0 15-1-17-1 5 0 10-1-23 0 15-1-5-1-5-1 10-5-8 0 19 0-10-1-8 0-3-1-5 0 15-1-14 0 7-2 17-5-26-2 4-4-1 0 22 0-1-5-1 0 0-2-6 0-8-4 6-3-2-1-8 1 31 2-5 6 3 1 7 17-8 2 11 1-13 4-1 8 0 1 3 3 7 3 7 0-18 1 2 0 5 0 6 1-9 2 2 0 1 1 8 7 8 2-14 9-6 1 0 0 12 1-11 3-1 6-2 4 11 0-8 1 5 7-8 1 4 5 10 6-9 3 3 4 4 3 7 3-3 1-13 0 8 2-5 1-7 3 14 1-6 0 1 8 12 1-22 3 10 1-3 3 17 4-23 6 1 0 25 18-4 1-14 0-5 17-2 3 4 18 6 13-7 2 1 2-6 6 0 15 3 3 7 0 4 10-5 3 8 3-1 2-16 6 19 3-16 6 11 2 0 0-7 0-5 5 5 2 3 1 5 1 3 22-1 1-6 7 8 0-5 2-11 29 17 16-13 2-7 2 4 15 4 11-3 9-3 3 41-27-4-245 2-53-5-64 3" fill="none" marker-start="url(#d)" marker-mid="url(#d)" marker-end="url(#d)"/>
<path d="M482.5 29.5L482.5 89.5" stroke="#939393" stroke-width="1"/>
<path d="M459.5 64.5L513.5 64.5" stroke="#939393" stroke-width="1"/>
<path d="M459.5 29.5L459.5 89.5" stroke="#8c8c8c" stroke-width="1"/>
<path d="M459.5 89.5L513.5 89.5" stroke="#8c8c8c" stroke-width="1"/>
<rect x="476.8" y="58.1" width="2.2" height="1.6" fill="#888" fill-opacity="0.75"/>
<rect x="487.1" y="58.1" width="2.2" height="1.6" fill="#888" fill-opacity="0.75"/>
<rect x="476.8" y="70.4" width="2.2" height="1.6" fill="#888" fill-opacity="0.75"/>
<rect x="487.1" y="70.4" width="2.2" height="1.6" fill="#888" fill-opacity="0.75"/>
<text x="456.0" y="36.0" font-size="3.4" text-anchor="end" fill="#555">10<tspan font-size="2.4" dy="-1.4">5</tspan></text>
<text x="456.0" y="49.8" font-size="3.4" text-anchor="end" fill="#555">10<tspan font-size="2.4" dy="-1.4">4</tspan></text>
<text x="456.0" y="63.6" font-size="3.4" text-anchor="end" fill="#555">10<tspan font-size="2.4" dy="-1.4">3</tspan></text>
<text x="456.0" y="75.4" font-size="3.4" text-anchor="end" fill="#555">10<tspan font-size="2.4" dy="-1.4">2</tspan></text>
<text x="456.0" y="82.9" font-size="3.4" text-anchor="end" fill="#555">0</text>
<text x="466.5" y="97.1" font-size="3.4" text-anchor="middle" fill="#555">-10<tspan font-size="2.4" dy="-1.4">2</tspan><tspan dy="1.4"> 0 10</tspan><tspan font-size="2.4" dy="-1.4">2</tspan></text>
<text x="483.5" y="97.1" font-size="3.4" text-anchor="middle" fill="#555">10<tspan font-size="2.4" dy="-1.4">3</tspan></text>
<text x="495.5" y="97.1" font-size="3.4" text-anchor="middle" fill="#555">10<tspan font-size="2.4" dy="-1.4">4</tspan></text>
<text x="507.5" y="97.1" font-size="3.4" text-anchor="middle" fill="#555">10<tspan font-size="2.4" dy="-1.4">5</tspan></text>
<rect x="463.0" y="90.1" width="8" height="0.9" fill="#888" fill-opacity="0.7"/>
<rect x="457.9" y="32.5" width="1.6" height="0.6" fill="#888" fill-opacity="0.7"/>
<rect x="457.9" y="42.3" width="1.6" height="0.6" fill="#888" fill-opacity="0.7"/>
<rect x="457.9" y="52.1" width="1.6" height="0.6" fill="#888" fill-opacity="0.7"/>
<rect x="457.9" y="61.9" width="1.6" height="0.6" fill="#888" fill-opacity="0.7"/>
<rect x="457.9" y="71.7" width="1.6" height="0.6" fill="#888" fill-opacity="0.7"/>
<rect x="457.9" y="81.5" width="1.6" height="0.6" fill="#888" fill-opacity="0.7"/>
<text x="511.5" y="37.5" font-size="7.5" text-anchor="end" fill="#111">18.6</text>
<rect x="459.5" y="108.5" width="54" height="58" fill="none" stroke="#c4c4c4" stroke-width="1"/>
<ellipse cx="494.0" cy="123.5" rx="4.1" ry="4.3" fill="#c21a16" fill-opacity="0.95" filter="url(#b1)"/>
<ellipse cx="494.3" cy="130.1" rx="2.6" ry="3.6" fill="#c21a16" fill-opacity="0.55" filter="url(#b1)"/>
<ellipse cx="467.5" cy="159.0" rx="5" ry="3.5" fill="#d02828" fill-opacity="0.5" filter="url(#b1)" transform="rotate(-30 467.5 159.0)"/>
<path transform="scale(.1)" d="M4868 1156l13 12 14 0 8-17 21 11 3-22 6 22 9 3 10-6 20 7 18-4 16-6-7 42-5-2-16-7-1-3-3 7 0-3-2-5-1 14 0-28-5 26-2 2-1-3 0-5-3 4 0 0 0-3-2-6 0 4 0 3-2-13 0 14-1-17-2 10-1-14-1 6-1 11-1 5-3-11 0-7-1 22 0-20-1 9-1 9-5-1 0 3-2-21 0 0-1 10-2-3-1-1-5 9 0-6 0 0-1 8-3-2-4-13-5 14-1-1 0-6-1-4-4 10-1-12-4 2-1 7-1 4 0-5-2 6-3 0-8-6-2 4-16-7-10 34 2-12 3-4 5 6 4 5 1 0 6 12 3-14 1 14 1-10 0 11 1 1 0-15 1 4 0-11 1 17 1-11 0 8 4-4 0-14 1 12 1 12 1 2 1-18 0 15 2-21 0 22 1-16 1 6 1-15 3-2 1 24 1-16 0 20 1-3 0-6 1 5 0-13 1 0 1 8 1-5 0-14 1 11 1 12 1-4 0 4 1-13 1 3 1 3 1-14 1 0 0 14 0 5 1 2 0-9 1 9 1-11 1-1 1 17 1-14 1-5 0 17 0 0 2-4 0-14 1 13 1 7 0-17 0-4 1 14 1 4 0-2 0 6 1-5 0 1 0-21 1 17 0-20 0-1 0 2 0 20 0-4 0-17 1 6 0 4 1-9 0 12 1 1 0 1 0 6 2-8 0 4 0-1 1-13 0 17 0-18 1 5 0 8 0 1 0-8 0-8 1 12 0-8 1-4 1 17 0 5 2-6 0 12 1-2 1-11 0 1 0 12 2-9 1 9 0-1 1-12 1 9 0-16 2 20 0-26 1 24 0-20 3 4 1 11 0 5 1-5 0-17 1 0 1 6 0-7 2 22 0 1 2-8 0-1 0 0 1 6 1-4 0-5 1 4 0-11 1 20 0-5 1-11 1 5 1-5 0 8 2 4 0-6 0 2 1 6 1-9 1 2 0-11 2 15 3-6 0-8 2-7 0 8 1 16 6-26 1 20 0 3 0 5 1-2 2-2 0-9 0 9 7 3 4-13 8-5 6 5 19 10-10 29-22-19-2 0 0 16-3-11-2 14 0-13-6 5-1 9-1 1-4-24 0 3 0 13-2-1-1-7 0 14-1-2-2-8-3 0 0 13-1-26 0 3-2 20 0-15 0 4 0 12-1-17-1 7 0 14-2-18 0 2 0 16-1-19-1 1 0-3-1 14-1-8 0-4 0-2-1 18 0-10 0 14 0-2-2-23 0 25-2-17 0 4-1 6-1-19 0 5 0 16-1-8 0 8 0 5 0-28-1 16 0 8-1-16 0 20 0-7 0-1-1-6 0-15-1 17 0 6 0-6-1-17 0 5-1 24 0-14 0 2-1-11 0 0 0 18 0-7-1 12 0-26-1 6 0 19 0-3-1-9 0 2 0-17 0 2-1 24-1-3 0 0-1-1 0 0 0-20-1 26-1-29 0 7 0-2-1 11 0 10-1-18 0 1 0 19 0-6-1-19 0 14 0-2 0 14 0-13-1-4-1 12 0-23 0 28-1-25 0 25-1-14 0 6 0-11 0 19 0 0-1-21-1 18-1-25 0 5 0 0-2 7 0-13 0 19 0 6-1-4 0-12-1 17 0-26-1 25 0-6 0-14 0 17-1-9 0-2 0 4 0-14-1 26 0-24 0 3 0 19 0-5 0-10 0 8-1-12 0-2 0-1-1 5 0 19-2-6 0-14 0-1 0-4 0 22 0-19 0 23-1-25 0 7 0 15 0-20 0 3-1-4-1-3 0 21 0-1-1-4-1 0-1-11 0 9 0 11 0-22 0 23-1-27 0 16 0 4-1-12 0 12-1-13 0-4-1 5 0 20 0-6-1-16 0 12-1-11 0 20 0-12 0-11-2 0-2 18 0-16 0-3-1 5-3-7 0 0-2 22 0-12 0-1-1 10 0-9 0 16-1-7 0 3 0-3-1-3-1-12-1 23 0-1-2-1 0-17-1-3-2-6 0 13 0-10 0 15-2-18 0 11-2-4-1 3-5 16 0-1-3-2 0-12-1 3-1-6 0-3-1 2-2 16-7-6-4-6-3 14-5 1 0-4-4-6 0-12 9 46 2 9 2-5 0 4 4-25 2 25 4-24 2 16 0-7 4-7 1-2 1 6 8 6 1-10 2-2 1 10 3-9 1 16 0-1 1-11 2 0 3 9 1-4 0-9 1 12 0-12 1 23 1-26 2 9 0 9 0-14 0 22 0-18 1 1 1-6 0 20 1-23 0 8 1-6 0 1 1 15 0-17 0 10 0 10 1-12 1 0 0-6 0 19 1-4 1-8 0 1 0 3 1-12 0 8 1-8 0 11 0 9 1-23 0 22 1-2 1-13 1 1 0 7 0 2 0 10 0-3 0-20 1 6 1-10 2 4 0 6 2 7 1-17 1 13 0 12 1-23 0 23 0-10 1-5 0-8 1 19 1 1 1-19 0 11 0 11 0-9 1-11 0 3 1 11 2-14 0 7 1-5 0-1 0 9 1-6 1 19 0-24 1-5 0 24 0-2 1-19 0 13 0-10 2 11 0 4 1 7 0-21 0 2 1 2 0 3 0 12 0-10 1 9 0-4 0 5 1-11 0 4 1-19 0 12 0-4 1-6 0 20 0-4 1 2 0-19 0 13 1 6 1 6 1-20 1 0 1 20 1-17 0 14 0-14 0 20 1-23 1-4 0 9 2 13 0-21 3 22 0-15 4 12 2 0 5 0 0-7 0 9 2-13 0-4 0 17 1 0 2-15 0-5 1 10 2-6 2-2 1 8 1-13 2 9 3 1 11 8 0 2 9 7 9-16-5 40-2 2-8-20-9 3-2 11-1-11-2-2-3 5-1 17-1-24-4 15-2-16-3 5-1 18 0-23-6 22-1-16 0 8-4-4-1 17-1-23 0 12 0 6-2-1 0-6-1-5-1-3-4 9 0 7-1-21-4 14-1-14 0 16-1 5-2 1-1-22-1 21 0-10 0-3-1-1 0 3-1-1 0 4-1-3 0 14 0-18-1-9-1-1 0 20-1 2-1-10-1-6 0 3-1 14 0-7-1 0 0-4 0-11-2 18 0-16-1 9 0-5 0 19 0-16-1-10-1 8-1 11-1-12 0 15 0-21-1 8 0-5-1 5 0 16-1-23 0 2 0 5 0 3-1 12 0-17-4 6 0 10-1-3 0 2 0-21-2 7-1 15 0 1-1-17-1 15 0 3-1 1 0-17-1 9 0-5-1-2 0-9 0 22-2-16 0-1-1-6-1 8-2 20 0-14 0 0 0-2-1 2-1 3 0-10-2 3-1 5 0 8 0 2-2-16-2 8-1 7-3-18-3 4-1-2 0 4-2 1 0 10-2-16-4 18-7-19-4 3-158 9-1 1-15-11-8 1-10-4-27 1-34 9-19-4 88 38 77-15 41 20 4-13 23 13 5-18 9 14 22-9 12 3 0 11 6-8 1-2 4-14 5 14 0 0 2-7 0-4 2 0 1 7 1-5 6 18 0-22 0-1 1 6 0 16 2 0 1-11 0 10 1-3 1-11 1 11 2-16 0 5 0-5 1 2 0 2 0 6 0 12 1 3 2-2 0-23 1 8 1 3 1 11 0-6 1 2 1 3 1 2 1-2 1-2 1-1 1-11 1 6 1-5 0-12 0 18 0-10 0 11 2-17 0 25 1-26 1 6 1-5 0 6 2 10 1 4 1-11 0-4 1-6 4 9 0 16 1 2 1-12 1-5 1 0 1 9 0 3 3-6 0-10 2 22 1-15 1-9 1 20 2-11 1 0 0 11 1-7 1-4 3 1 0-5 0-3 0 17 1-14 2 0 3-10 4 23 2-10 1-11 1 3 7-5 1 3 0-1 20-1 28 55-2-9-10 2-29-5-15-6-4-5-1 4-2 18-1-7-2-2-2-12-2-3-2 23-1-7-3-5-1 15-4-17-1-2-1 11-1-1-1-15-3 14-4-14 0 24 0 0-2-16-1 1-3-2 0 18-2-3-1-4 0 7 0-22-1 20-5-21 0 15-1 5 0-9-1 8-1 1-2-23-1-1 0 14-1 14 0-21 0 7-2 0 0 1-1-8-3 19-2-25-2 27 0-11-5-14-2 17-1-5 0-15-5 14-4-7-13 21-9 0-12-19-111-7-3 22-36-3-48-17-12 38 27-6 32 18 35 1 40 3 32-29 48 7 11 11 11 8 2-5 2-18 14 10 4-3 0 5 1-2 1-6 1 13 0-12 1 20 1-25 0 12 1 13 1-15 1 12 1 4 2-23 1 19 2-24 3 8 1 7 0-5 2-7 1 17 1-7 2-13 3 28 1-29 1 19 0 2 0 4 2-11 0-10 1 8 2 12 0-3 3-16 1 18 5-5 0 2 1 1 4-20 0 25 3-22 2 5 0 14 0 3 4 3 0-22 1-5 4 22 2-12 3-8 3-3 0 26 0-24 5 25 5-22 1-4 13 16 4-5 0 12 17-24 11 2 53 28-26 21-24-2-39-8-7 7-1-8-2-8-10 26-3-12 0-11-11 7-4-10-2 8-1-7-3 10 0-11-2 26-1-20 0 11-1 9 0-1-2-9-1-12-1 1-1 8-1 11-3-1-7-26 0 13-1 3 0-7-1-2-2-4 0 10-1 13-1-1-5-25-1 12 0-11-1 19-2-10-2 12-1-1 0-4 0-17-1 29 0-12-1 4-6 1 0-2-2-13 0 17-1-4-6-1-7-13-3-1-2 12-1-8-1 19-1-15-1 8-4-13-37 5-30 12-15 4-30-2-6-2-2-12-138 23 71 21 25-23 1 25 32-27 4 10 2 3 40-3 2 13 12-8 12-14 40 20 15-10 1-7 4 19 1-10 0 10 0-22 7 26 1-18 3 12 6-20 1 11 8-5 1 5 2-11 0 3 1 2 1-6 0 14 7-13 1 14 1-6 1 0 4-8 2 24 0-17 1 6 2 10 1-13 3 15 1-25 0 21 3-20 1 10 1-11 1 16 0-2 0-16 1 13 1-5 1 20 3-11 2-4 0-9 1 2 0 7 1 7 0-21 1 18 0-9 1 4 8-1 3-9 5 6 4-4 2 19 2-11 2-12 4 16 2-17 3 13 0 4 10 5 6 6 1 1 3-28 0 9 88 28-67 18-16 3-1-11-1-7-6-10-5 14-6 13-14-26-4 12-3 9-7 6-2-5-2-1-2-7-2 10-1-14-1-2 0-2-2 15-1-13-1 11 0 3 0-16 0 12-3-7-1-8-1-5-2 8 0 19-1-20-2 9-2 13-1-4 0-19-3-6 0 15 0 0-1-4-1 5 0-8-1 6-1-9-1 10-2-14-1 19 0 4-1-14 0 8-3 5-1 4-2-11-5-4 0 16-1-27-2 21-3-1 0 4-2-19-2 17 0-4-1-9-1-10-3 8-9 11-1-6-5-8-9 11-7-10 0 13-26-1-6-6-26-2-12-4-3 5-3 6-2 6-13 1-7-14 0 19-1-29-5 26-4-11-7 13-11-11-5 8-10-19-6 5-13 12-2-3-7 7-22-15-2 9-5-11-1 1-22 16-49 21 18 11 4-13 9-16 1 2 4 23 3-7 13-7 4 14 3-10 3-2 1 3 6 8 3-11 0 8 2-1 2 6 3-4 0 0 1 6 4-1 6-11 14 1 5-7 0 13 3-12 3-7 3 19 14 2 2-6 0 3 0-1 2-14 0-2 3-3 0 17 4-10 0 18 0-3 3 2 0-18 5 8 1 9 1 0 3-20 3 3 9 0 7-3 2 22 10-6 26 3 1-21 22 25 7-4 11-5 9 0 2-17 1 6 0-8 2 21 1-1 2-10 1-4 1 20 0-15 1 16 2-11 1-6 9 8 1 11 6-8 1-16 2 4 1 12 1-2 1 2 3-6 1 9 0-11 0-2 1 4 0 11 0-21 1 14 0-6 1 6 0 3 3-12 0 10 2 7 1-17 1 13 1-3 1-3 2-5 1 12 0-20 0-2 1-2 2 22 3-8 1-14 1 16 0 6 1 3 1-8 1-9 0 9 2-4 6 13 2-22 1 24 1-1 3-24 1 22 4 2 1-3 0 3 3-26 1 5 1 8 0 11 0-10 1-13 1 16 2-17 3 1 1 13 0-4 4 5 2-7 1 9 1-16 1 7 1-2 2 4 11-5 2-2 8 8 1 2 0-2 1 3 1-14 2 6 32 0 4 8 19 12 13-11 34-16-73 31-6 19-5-11-8 0-3-5-1 8 0 11-1-13 0 5-1 10-12-3 0-15-19-5-1 11-3 2-1 6 0 6-1-11-2 2-6-4-2-6-3 5-6 3-3-14 0 23-1-18 0 4 0-11-2 22-2 5 0-25-3 17-3-7 0 0 0-9-1 0-3 22-1-8 0-8-2 10 0 7-3-19 0 6 0 2 0-14-1 5-2 16-1-20 0 20-1-10 0 14-2-15 0 2-2-5-2-4-1 15-2 5-1-3 0-18 0 6-1 16-1-16 0 12 0-10-1 3-1-1 0 10-2-16 0 14-1-20 0 9-4 5-1 4 0-10-1 6-4-11-1 25 0 0 0-3 0 0 0-5-1 6-1-26 0 25-1-15-1 1 0 16-2-24-1 2 0 1 0-1-3 2-1 16 0-19-1 5-1 11 0 6-4-17-2 2-4 6-1 5-5-17-1 10-2-7-1 5-1 3-5-17-1 4-5 20-7-21-1 16 0 4-2-20-3 16-9 3-9-16-15-1-9 19 0-4-3 8-4-19-1 17 0 1-2 2-4 0-1-18-2-10-6 10-3-9-6 14-1-12 0 8-1-10-1 22-2-6 0-15-3 19-2-4-3 7-4-23-2 23-1 2 0-13-1-10-1 20 0-11-1-12 0 28-1-29-1 16-1 13-2-24-2-3-5 5-2 4-1-2-1-7 0 26-5-11 0-10-1 13 0 4 0-2-1-9-1 4-1 6-2-20-2 7-2 1 0 3 0 5-1 9 0-22-2 8 0-6-1 14-1 5-1-14-1-10 0 15-2 0-1 4-10-6 0-5 0 8-1 6 0-18-1 20 0 0 0-12-1 2 0-14 0 25 0 1-2 0-1-23-1-3-1 15-2-8 0-7-1 25-1-5-3-11 0-2-3 8 0 1-1-10-1-6 0-1-1 26 0-22 0 23-1 0 0-7-1 4-3-25-1 16-1-14 0 16-1 3-2 1-5-19 0 10-1 8-1-22-4 29-4-21-1-6-1 27-1-11-2-18-1 13-1-9-1 15-2 10-1-26-4 0-3 17-11 4-4-1-11-1-1 0-2-11-4 37 5-11 4 7 1 12 3-24 1 20 3-11 1-11 1 13 2 4 2 4 0 2 0-19 1 19 2-20 2 24 0-3 1-19 2 12 0 7 0-10 0 5 0-19 3 6 0 8 0 8 1-7 0-4 1 5 2-1 2 0 0 12 1-26 1 9 0 2 0 4 1 13 0-8 0-15 1 14 0-6 1 12 0-24 0 12 1 4 0-3 2-13 1 22 0-14 1 9 0-7 1-3 1 15 1 1 0-21 1 19 0-21 0 13 1 0 1-14 0 28 1-23 1 6 1 9 1-11 1 2 0 7 0-11 1 15 1-3 0 8 1-19 0-6 0 24 1 2 0-21 1-2 0 22 1-12 3 12 1-1 0-25 0 1 1 2 0-5 0 3 0 24 1-5 0 2 1-3 1-5 0 11 1 1 0-1 1 2 0-29 0 24 1-20 2 17 2-17 0 24 0-22 0 12 1-18 0 1 1 21 1-22 0 29 1-22 1 4 0 12 1-17 0-1 0 17 2-3 0 5 1-20 0 13 0-4 1-7 1 23 0-1 1-20 0 4 0 12 1-3 1 4 0-4 1 5 0-19 1 8 1-8 0 21 2-14 0 6 1 3 1-12 1-7 0 7 0 18 2 0 1-15 0-3 0-4 2-6 0 23 1-6 1 11 0-29 3 24 3-4 1 6 0-18 3 8 1 3 1-15 1 4 0 8 0-1 0-2 1-12 0 22 1-11 1 12 1-24 1 16 0-14 1 7 0-4 1 19 4 3 2-17 1 3 1 8 1 2 0-17 0 7 2 8 0-16 6 2 0 6 1-8 0 22 0-6 0-15 1 7 2 1 2 4 1-18 2 11 6 3 1-3 4 6 3-11 4 7 2-2 8 3 3-8 1 0 5 21 15 2 4-16 6 4 15 9 4 1 5-18 1 6 3-7 3 21 3-12 2-15 1 15 2-7 1 15 3-7 3-3 1-10 1 24 0-3 1-4 0-9 1-5 1-3 2 15 1-4 4-9 0 21 5-14 1 1 0-5 1 17 1-7 2-8 0 8 5-3 4-5 5-6 0-6 3 12 1-7 0 2 1 19 0-1 0-12 0-2 0 0 1 2 1 12 1-7 0 8 0-14 1-12 1 20 0-15 1 11 5-11 1-4 1 21 3-15 0 5 0-7 3-2 0 1 6-1 3 23 1-3 0-13 0 4 0-1 3 12 0-18 4 15 2-19 2 5 1-8 0 3 1 22 1 1 0-9 3-9 1 8 0 6 1-18 1-4 3 28 1-10 1-2 2 13 0-10 1-3 0-13 6 11 1 13 0-7 1-11 0 0 1 16 2 4 4-20 2 1 9-10 7 3 1 19 1 2 0-18 0 3 9 12 1-7 0-10 0 18 3-17 15-1 13 24 23-17 57 23-67 5-6-2-7-2-14 23 0-7-11-3-2 11-3-9-10 9-3-25-11 21-1-19-6-4-3 21-2 6-7-29 0 6-1-4 0 27-1-15-1 12-2-13-3-3-2-6-3 17-3-21-1 17-3-14-6 10-3-10-1 22-1-16-1 3-1 10-3-20-1 15-5-3-3 11-5-16-2 1-3 13-3-3-1 2 0-7-14-13-1 3-2 0-3 20-3-23-2 20-1-7-1 1-2 7-1-14 0 20-1-28-1 14 0 8-2-17-3-3-1 26-8-19-3-7-13 24-2-1-5-17-2-6-15 2-25 22-22-18 0-3-9 16-4 7-3-22-2 4-3 0-1-3-2 11-1 9 0-21-3 16 0-5-1-6-1 10 0 2 0-23 0 28-2-18 0 14-3-7 0 1 0 0-4-16 0 10-2 4 0-2-1-15-1 1-1 7 0 2-1 17 0-6 0-1-4-20-1 11 0 13 0-14 0 3-1-7-2 6 0 17-2-19-1 1 0 5 0-16-1 15-4-1 0 10-1-23-1 15-1-15 0 1-1 12 0-10 0-2-1-1 0 28-1-3 0 0 0-3-1 3 0-10 0 12-2-9-1-4 0-12 0 11-2 5-1-6-1-9 0 19-2-10 0-5 0-5 0 22-1-11-1 14-1-9 0-6-1-6 0 17-2-21-1 18 0-13-1-4-1 9-1 4-1 11 0-25 0 8 0-9-1-1 0 7-1-5 0 8-1 0 0 5 0 1-1 1 0 1 0 6 0-9-1 1-1-16 0 11-1 8 0-6-2 10 0 2-1-1 0-12 0-6 0-2-1 0 0 13-1 4 0-20 0 1 0-3-1 21 0 6-1-14-1-13 0 21 0 6-2-27 0 23 0-11-1-2-1 19 0-3 0-11-1 2 0-17-1 6-1 9 0 0-1-12 0 19 0-6-1 12 0 0-1-24 0 1-1-5-1 25-1-3-1-12 0-6-1 5 0 8-1 0-1-9-1 0-1 14 0-7 0-14 0 9-1 16 0-20-1-5-1 3 0-2-1 11-3 16 0-9 0-10 0-8 0 5-1-4-1-2-1 6-1 21-1-19-1 14 0 2 0-21-1 2-3 9-1-8-1 11 0-2-1 12-2-7 0-3 0 4-1 6 0-7 0-10 0-3-1 2 0 0 0 16-2-1-1-23-2 21 0-14 0 2 0 6-1 0 0-15-2 17-1 2-1 8-1-26-1 18 0-14 0-2-1 22 0-13-1 14-1-1-2-10-2 7-1-17-8 32 1 19 0-12 0-16 2 28 2-10 5-15 6-2 2 18 0-10 1-3 0 8 1 8 2-8 4-8 0 2 1 20 1-11 2 11 0-17 1-1 2 18 0-18 1-5 0 4 0-2 1-2 2-5 1 2 0 3 0 3 1 10 1-3 0-10 0 0 1 15 1-17 0 0 0-1 2 16 0-10 1 3 0 3 1-8 1 0 1 1 0 17 0 0 0-21 1 6 0 13 1-21 1 18 0 7 1-5 1-6 2-12 0 2 0 18 0-9 1-12 1 11 0 15 0-18 2-1 0-7 1 19 2-20 0 16 1-15 6 5 1-5 3 8 0-8 2-2 1 15 0-12 1 12 1 7 0-9 0 10 1-19 0 5 0-8 1 4 0 1 1 7 0-4 1 13 1-18 1 19 0-22 1 4 1 5 1 10 0-7 1-10 2-3 2 0 1 8 0 0 2-5 0 11 1-7 0-7 3 4 0-2 0 17 1-9 1 17 0 1 1-18 1-6 1 21 1-20 0 0 2 8 0-10 1 12 2-15 3 9 2-8 0 13 2-10 1 18 0-5 3 0 3-12 1 11 1-8 1-4 2 10 0-6 5-7 0-1 2 11 1 11 2-16 1-2 3 19 10-18 5 8 10-9 2 19 4 4 1-11 2-5 12-1 4 17 61-9 11-7 7-1 1-9 5 0 3 21 16 0 8-21 13 2 7 15 0-4 19 4 6-16 9 23 11-3 2-10 1-6 1 13 30 9 4-3 7-11 9-5 46 5 3 6 18-3-161 13-7 6-12-4-2 6-10-6-83 5-86-1-17-4 0 5-5 0-11-7 0 5-2 2-2 0-3-5-13-1-2 0-1 3-6 2 0-5-2 1-5-2-1 1-7 1-1 5-2-6-2 4-2-1-3-2-3-1-4 1 0 6-7-3-16 3-7-6" fill="none" marker-start="url(#d)" marker-mid="url(#d)" marker-end="url(#d)"/>
<path d="M482.5 108.5L482.5 166.5" stroke="#939393" stroke-width="1"/>
<path d="M459.5 142.5L513.5 142.5" stroke="#939393" stroke-width="1"/>
<path d="M459.5 108.5L459.5 166.5" stroke="#8c8c8c" stroke-width="1"/>
<path d="M459.5 166.5L513.5 166.5" stroke="#8c8c8c" stroke-width="1"/>
<rect x="476.8" y="136.5" width="2.2" height="1.6" fill="#888" fill-opacity="0.75"/>
<rect x="487.1" y="136.5" width="2.2" height="1.6" fill="#888" fill-opacity="0.75"/>
<rect x="476.8" y="149.0" width="2.2" height="1.6" fill="#888" fill-opacity="0.75"/>
<rect x="487.1" y="149.0" width="2.2" height="1.6" fill="#888" fill-opacity="0.75"/>
<text x="456.0" y="115.0" font-size="3.4" text-anchor="end" fill="#555">10<tspan font-size="2.4" dy="-1.4">5</tspan></text>
<text x="456.0" y="128.2" font-size="3.4" text-anchor="end" fill="#555">10<tspan font-size="2.4" dy="-1.4">4</tspan></text>
<text x="456.0" y="141.2" font-size="3.4" text-anchor="end" fill="#555">10<tspan font-size="2.4" dy="-1.4">3</tspan></text>
<text x="456.0" y="152.7" font-size="3.4" text-anchor="end" fill="#555">10<tspan font-size="2.4" dy="-1.4">2</tspan></text>
<text x="456.0" y="160.2" font-size="3.4" text-anchor="end" fill="#555">0</text>
<text x="466.5" y="174.1" font-size="3.4" text-anchor="middle" fill="#555">-10<tspan font-size="2.4" dy="-1.4">2</tspan><tspan dy="1.4"> 0 10</tspan><tspan font-size="2.4" dy="-1.4">2</tspan></text>
<text x="483.5" y="174.1" font-size="3.4" text-anchor="middle" fill="#555">10<tspan font-size="2.4" dy="-1.4">3</tspan></text>
<text x="495.5" y="174.1" font-size="3.4" text-anchor="middle" fill="#555">10<tspan font-size="2.4" dy="-1.4">4</tspan></text>
<text x="507.5" y="174.1" font-size="3.4" text-anchor="middle" fill="#555">10<tspan font-size="2.4" dy="-1.4">5</tspan></text>
<rect x="463.0" y="167.1" width="8" height="0.9" fill="#888" fill-opacity="0.7"/>
<rect x="457.9" y="111.5" width="1.6" height="0.6" fill="#888" fill-opacity="0.7"/>
<rect x="457.9" y="121.3" width="1.6" height="0.6" fill="#888" fill-opacity="0.7"/>
<rect x="457.9" y="131.1" width="1.6" height="0.6" fill="#888" fill-opacity="0.7"/>
<rect x="457.9" y="140.9" width="1.6" height="0.6" fill="#888" fill-opacity="0.7"/>
<rect x="457.9" y="150.7" width="1.6" height="0.6" fill="#888" fill-opacity="0.7"/>
<rect x="457.9" y="160.5" width="1.6" height="0.6" fill="#888" fill-opacity="0.7"/>
<text x="511.5" y="115.8" font-size="7.5" text-anchor="end" fill="#111">58.7</text>
<text x="7.6" y="220" font-size="12" font-weight="bold" stroke="#000" stroke-width="0.35" fill="#000">C</text>
<rect x="53.5" y="236.5" width="100" height="73" fill="none" stroke="#c4c4c4" stroke-width="1"/>
<ellipse cx="114.0" cy="295.3" rx="16.5" ry="5.6" fill="#c21a16" fill-opacity="1" filter="url(#b1)"/>
<ellipse cx="75.5" cy="296.1" rx="22" ry="2.8" fill="#c21a16" fill-opacity="0.6" filter="url(#b1)"/>
<ellipse cx="115.5" cy="287.5" rx="10" ry="4" fill="#c21a16" fill-opacity="0.55" filter="url(#b2)"/>
<ellipse cx="116.5" cy="277.5" rx="6" ry="5" fill="#d02828" fill-opacity="0.3" filter="url(#b2)"/>
<path transform="scale(.1)" d="M631 2417l37 3 502 4 6-5 87-11 234 23-68 11-66-1-50 5-50 11-47-21-62 6-257-3-73 14-127-5-96 19 220 21 62-13 231 10 18-16 24-8 1 8 6 10 12 0 5 7 6-5 15 8 44 0 2-3 3-1 27-5 10-9 111-1 74 3-19 44-77-5-135-2-7-8-7 14-5-5-2 8-4-20-6-5-3 20-4 0-5 1-2 0-2 3 0-18-8 12-7-19-3 20-7 3-3-7 0 2-10-21-3 14-27 14-19-13-512 0 18 43 379-3 85-10 35 6 7 2 18-19 25 16 11-6 8-14 1 5 10-2 0 22 1-10 3 11 2-9 3-2 0-7 1 4 2-12 10 23 5-8 34 12 4-11 1-7 0 4 26-9 6 18 3-15 26 17 110-2 26 9-161 11-14 10-12-2-40-7-6 5-1-13-21-4-1 26-3-18-6-2-1 10 0-12-1 14-16-10 0 17-13-2-1-5-7-7-8 12-4-14-2 10-2-5-4-5-1 9 0 1-3-18-28 18-5-8-234 7-16 5-63 11 70-3 31 23 11 3 207 0 4-27 6 11 1 16 7-11 6-5 8 6 5 5 0-4 4-17 3 16 1 10 8 1 8-5 1-21 9 26 5-25 11 22 10-15 1 18 1-10 2-4 1-6 0-3 2 4 0-9 2 11 7 2 6 7 2 1 9-2 4-7 2 9 7-9 17-10 9 15 1 9 18-21 43-6 189 45-236 0-11 0-3 12-28-1-5-26-2 7-4 19 0-6-3 6-1-18-5 21 0-24-3 0 0 6-1 16-1-21 0-6-2 29-1 0-2 0 0-25-2 7-1-7 0 9-3 5-1 9 0-1-1-22-1 14-1-18-6 9-1-2-8 10-7 4-1-2-2-12-1 9 0-9-1 8-1-14-1 16-2-12-1 17 0-11-1 10-5-1-4-3-1 3-2-5-2-1 0 13 0-4-4-11 0-6-2-2-1 6-4-8-4 11-3 12 0 3-21-4-3 1-1-23-4 27-2-4-21-8-21 1-17-7-200 27 188-8 25 8 11 1 1 2 6-5 11 18 10-13 9 9 0-17 16 15 2-18 8 21 2-3 2 6 0-10 1 12 2-8 0 1 1-9 6 18 8-9 4-19 6 1 1 22 1 4 4 2 2-9 0-12 0 10 1 8 0-11 2 10 0-1 1-18 1 1 2 12 2-11 1-3 11-5 3 5 2 5 4 11 0-10 1 15 3-19 2 16 1-22 4 12 0-5 2 16 5-20 3 9 4-12 1 8 0-8 0 12 1 2 0-4 1 6 4 5 1 0 2-18 1 24 5-23 3 9 0 10 3-1 0-22 0 14 4-4 2 9 22-4 2 0 4 13 69 18-29 6-23-16-16 12-24-6-1-4-12-1-6 16-7-23-2 8-1-5-9 17-2-13-4-3 0-5-1 9-1 13-1-5-6 12-3-5-1-15-1 11-5-19-1 20-1-16 0 8-4 15-5 1-1-6-3-4-2 0-1 3-1-12 0 4-2-10-1 24-1 1 0-10-4-1 0-15-8 15-1-10-1 17-1-10 0-9-1 2-4 9 0-16-1 17 0-9-1 11-2 9-1-1 0-27-1 2-6 18-4 7-5-19-2 3 0-11-1 10-1 10-1-10-2-3-11 0-4 20 0-5-17 1-3-12-6 17-19-6-1 1-40-18-10 6-2-7-59 17-21 2-60 3-16-6-57 3-26 5-11-11-2 4-34 0-3 7-7-8-45 0-17 4-18-10-2 11-16-2-5 4-61 1 63 9 14-4 29 20 12-24 38 8 26 18 70-25 18 4 5-3 6 7 12-1 20 5 27-2 32-3 3-8 27 14 3-7 32 9 36 9 14-6 5-16 6 4 1 15 1-7 0 13 11-5 9-12 10 17 12-13 2 1 0-13 4-1 3 11 3 12 6-25 3 10 2 4 1-1 1-8 1 16 0-19 1 24 8-17 2 20 2-24 4 7 0 5 1 0 0 12 0-17 3 7 1 9 5-1 0-2 2-14 0 2 1 11 1-8 2-15 2 7 0-5 0-2 4 26 1-9 1 5 3-15 1-3 1 19 2-11 0 3 1 11 0-12 4 10 0-1 1-2 0-14 1 21 1-2 2-13 0-9 0 19 1-4 3-2 9-13 1 20 0-10 2-6 6 19 1-20 3 2 2 13 5 4 1-2 1-7 2-5 3-1 1-5 3-6 9 25 0-13 0 2 1 11 0-16 2 19 4-26 4-3 0 14 10-3 3 12 1-19 3 24 4-16 1 5 0-5 25-8 7-4 126 14 38 16-100 6-46-6-5 15-25-12-1-1-2 14 0 3-1-1-2 4-1-13-4 6-3-7-9 10-3 6-3 5-4-22-11 14 0-1-3 8-4-21-1 9-1 11-1-13 0-10-1-2 0 8-1-8-1 4 0 0-2 19-3 3 0-27-1 23-1-16 0 20 0 0-2-13-1 8-1-13-1 10 0-9-1 5 0 7-1 0-1-3 0-7-1-4-3 15 0-7-1-17-1 23-1-14-1 11-1-7-2-11 0 9-1 9-2 9 0 0 0-26-1 11-1 5 0 9 0-23-1 20-3-23-1 23-1-23-3 2-2 21-1-2 0-11-2 15-1-7-1-16 0 15-1-6-2-1 0 1 0 10-2-7 0 12 0-8-4-5 0 7-1-19 0 5 0 18-4-15-1 17-3-4-5-22 0 12-3-14-3 29-1-3 0-1-2 0-2-23 0 1-2 21-1-1-1 1-1-24-1 19 0-17-1 1-3 10-1-11-1 7-2 15 0-22-1 16-1-3-1-4-4 13-3-22-6 15-2 0 0-3-3-2-1-3-1-3-1 5-4 12 0 5-6-9-1-16 0-1-2 16-1 2-2-17-3 3-3 6-2-9-2 18-3 7 0-22-2 16 0 4-5-7-1-10-8 18-20-7 0-15-8 8-67-11-55-2 0 17-25-9-29 18-8-18-15-6-29 20-27-2-36-4-13-11 0 1-4 6-7 5-4 7-7-6-9 5-15-2-36-13-4 5-11 35 8-10 25-6 0 1 8 21 1-16 3-6 39-1 6 28 7-2 6-23 1 9 8 16 8-14 0 4 10-5 23-8 1 23 3-1 10-19 6-4 7 8 7-9 44 9 7-3 9-8 15 12 4-5 2 16 4-15 14 19 2-2 0-18 7 13 19-16 1-2 20 10 6 15 31-4 0-19 4 1 1 7 1-3 0 5 1-7 5 5 9 9 19 4 4-23 3 8 2 5 1-17 6 17 1 4 2 0 3-4 8-11 7-4 1 18 0-2 0 3 3-8 0 10 1-22 3 2 1 21 1-23 0 10 1-8 1 14 3-2 0 10 1 4 3-8 1-9 7 3 6-8 1 9 0 2 0 2 5-8 1 0 2-12 1 29 1-4 1-7 1 7 1-10 1 4 3-3 1 0 5 9 2-24 1 20 1-12 0 3 1 4 1-3 1-11 0 20 2-10 1 4 1-12 2 5 0 20 1-16 3-13 1 18 1-15 2 22 0-21 0 21 1-20 2 22 0-10 0-14 0 19 1-11 2-3 0 12 0 4 1-2 1 1 1 1 0-19 4 7 3-3 1-5 1 12 0-7 3-6 3-3 1 23 1-22 1-1 1 25 4-15 0 4 0-6 3 10 0 10 0-22 3 20 2-21 1 6 1 6 0-6 2 0 1 0 4 11 1-7 0-6 0 10 0 6 1 1 4-23 0 13 3-16 2 6 1 22 1-28 1 8 0 17 2 4 0-29 6 2 0 23 1-10 1 2 0 12 3-18 1 7 1 4 1-3 1-4 1 7 0-21 0 23 2-21 2 25 2-19 3 3 2 14 1-12 7-7 1-3 3 20 6-6 22 11 2-10 17-11 15 17 15-14 10-10 2 12 27-1 28 16 101 24-13-6-29-2-35 4-30-2-11 8-40-10-23 15-6-1-21-10 0 5-19 5-3-6-3-16-8 7-1-4-2-4 0 3-1 19-1-21-2 20-2-15-1 10 0-16-7 11-1 6-1-7-1 14-1-17-2 5-3-1 0 0-2-13-1 16-3 9-4-2-1-15-5 1-2 17 0-29-1 17-2 9-1-8-1 5-1 4-1-26 0 12-2 10 0-14-1 18 0 0 0-11-2-3-1 0 0 13-1-12 0 3 0 3-1-2-1 6-1-3-1-14-1 6 0-9-5-3-1 0 0 7-1 20 0 1-4-6-1-8-1-14-3 18-2-19 0 6 0 12-4-6 0-5-3 15-2-8-2-9-4 18-1 4-1 2-1-19-2 5-3 14 0-3-1-5-3-3 0-16-1 6 0 16 0 5-1-29 0 16 0-8 0-1-2 1-1 14 0-16-2-6-1 16-1 9-1-13-1-6-1 0 0-6-1 6 0 1-1 0-1 16 0-17-1-6-1 15 0-8-2 10-2-7 0-10-1 27 0 2-2-16 0-4 0 12-1-17-1 13-2-5-1-7 0 9 0-11-3 10 0 12-1-6 0-19-1 1-1 2-1 13 0-8 0-6-1 3-1 21-1-19-3-6-2-1-5 23-4-4-2-17-1 22-2-13 0 1-1 0-3 12-1-17-1 13 0-3 0 9-3 2-2-3-1-10-1 5-1 1 0 6-1-4 0 6-3-19-3 17-1-2-3-5-1 9-4-22-3 6 0-6-3 21-4-2 0-21-2 21 0-12-4-11-1 24 0-26-5 26-1-26-1 21-6-10-3 1-3-12-1-1-18 23-2 4-7-11-16-6-1 10-30-8-9 16-6 0-11-7-9-8-6-2-8 8-2-6-10-11-15 12-14 5-2 10-5-20-4-9 0 14-1 9-3-15-30 15-14 6-21-10-8-10-10 7-37-1-3-8-39 19-8-26-10 18-44-6-1 12-67-7 56 29 10 10 11-4 7-17 12 5 11 14 40-20 1 23 18-13 7-6 7-1 31 11 0 7 30-21 33-2 23 0 4 5 20 0 3-1 2 4 14 18 11-7 13-9 4-8 17 9 7 0 1 0 11-4 0 12 2-5 0-10 1 13 0 8 10-17 4 16 5-14 17 16 6-24 0-3 1 17 8-7 1 18 0-23 1 12 0 1 6-8 2 12 4-8 1 8 0 3 1 2 0-13 3-11 8 3 1 21 1-6 0-9 4-5 1 19 0 2 1-26 7 19 0-8 1 14 3-12 2 4 1 2 2 5 1-15 2-10 3 0 0 27 3-17 6-11 1 10 1 18 1-7 1 4 1-1 2-24 0 5 1 12 1 0 2 8 1-22 0 15 3 6 2-13 4 1 1 4 2 12 1-18 2 16 1-15 1-7 1 16 0 8 1-7 0-8 1-13 0 25 5-8 0 9 0-15 2-2 2 4 0-12 2 18 1-2 0-12 1 4 0 18 1-18 0 8 4-5 1-3 0-2 0 3 2-8 2 0 0-3 0 11 1 11 0-19 0 23 1-19 0 20 0-5 1 0 1 6 0-15 2 15 0-4 0 4 1-5 1-5 2-2 0 5 2-1 0 9 2-6 0-17 1 17 3-2 0 2 2-6 2-5 2-1 0 7 1 11 3-2 1-1 1-14 1 6 2 7 0-16 1 1 0 0 0 4 2-12 2 20 1-2 0-10 1 11 0-1 1-18 0 16 1-3 3 4 0 5 1-24 1 25 0-2 1-12 2 13 2-1 0 5 1-27 0 7 1 1 0 6 0 6 3-21 3 24 0-22 0-1 2 1 0 0 0 1 1 8 1 6 1 11 0-17 0 7 3-11 0 8 3-13 1 21 6-7 2-6 0 4 1 1 2 0 3 12 1 1 0-14 1 1 0 11 1-14 3-8 0-2 2 5 0 6 5 14 1-2 1-18 1 6 0 5 1-16 0 11 1 14 1-13 0 10 1-9 2 12 2-17 0 19 5-19 1 11 0-15 4 5 1-3 6 10 0-14 0 13 2-7 0 15 4 2 3 2 0-6 5-3 7 6 12-21 4 15 11-7 1-11 3 9 3 14 1-10 3 6 2 2 9 3 12-5 1-4 4 3 5-3 1-7 7 17 21-1 12 30-6-23-8 10-17 13-5-25-1 22-14-16 0 1-7-5-19-3-1 9 0 17-1-22-1 21-1-14 0-3-7-4-3 18-6-20-2 20-2 6-3-3-10-18 0 15-5-11 0 4-2 4-3 6-1 2-6-16-2 12-2 3-1-25-1 9-1 5-2 0-1 4-1 10-1-26 0 17-4-19-1 23 0-21-4 16-1 7 0-1-4-23 0 3-3 3 0 14-2-10-1-10-3 18-1 3-2-1 0-20 0 5-1-7-1 7-1-1 0 3-3 8 0-16 0 9-1 12-1-9-1 10-2-17 0 19-1-16 0 9 0 5-2-4 0-14-1 2-1 11-1-7-2 8-2 0-1-17 0 25-1-4 0-20 0 2-1-1-1 10-1-12 0 7-2-6-1 21-1-12-2-4 0 6-5-7 0 10-1 10 0-3 0-7-1-5-1-12 0 16 0-15-1 23-1-3 0-6 0 1-1 1-3 3-1 3 0-8-1 0 0 1-1 6 0-7-2 10-1-6-1-6-1 0 0-6 0 9-1 0 0 1-1-4 0-7 0 16-1 6 0-19-1 13 0-4-1 2-1-5 0 0 0 1-1 11 0-9 0 2-1-11 0 7 0-7-2 16 0-23 0 26-1-2 0-13 0-9-1 23-2-21 0 0 0 16-6-21-2 6-1 12-1-4-1 8-1 0 0-16 0 18 0-7-1-8 0 3-1-5-1 1 0 2 0-11-1 27 0-27-1 19-1 10 0-12-1-4 0 8 0 8-1-29-1 5-2 15-1 9 0-20-1-9 0 2-1-2 0 24 0-23 0 23-2-2-2 3 0-1 0-14-2 5-1-2 0 2-1-11 0 17 0-21-1 8 0-5-2 2-1 9-1-3-1-11-1 12-1 1-1 15-1-19-3-9-1 27-3-11 0-1-1-6 0 3-1 4-2-10 0-2 0 1-1 22 0-21-2 10 0-13 0 5-5 0 0 12-1 1 0 5-2-3-1-12 0-6-3 14-1 9 0-6-2-4-1-18-1 23-1 3-1-23-1 25-2-6 0-15 0 0 0 2-1-8-3 18 0-19 0 1-3 17-1-7-1-2-1 15 0-15-2-2-4-6 0 9-1 7 0-15 0 8-2-7-3 26-1-22-3 5-5 7-2-4 0 14-1-7 0-16-1 19-5-8-2-2-4 5-2-5-3-13-2 7 0-3-2 5 0 7-2-12-1-4-5 2-3 12-3 3-1-8-2 14 0-24-3 6 0-3-6 1-1 10-2-8-3 7-3 0-3 10-3-14-2 7-3-4-4 6-8-11-3-7 0 28-1-11-10-15-2 0-2 22-13-23-9 19-7-6-9-15-3 21-1-1-2-6-13 13-10-12-14-15-4 19-22 6-48-8-4-14-2 22-6-11-8 12-23-18-17-2-8-4-19 22-12-17-23 6-10-8-6-2-93 52 52 2 1-11 8 12 13 0 52-9 10 10 15-4 52 3 18-16 33 9 47 0 9 8 6-28 20 0 9 7 17-4 0 18 4-6 3 7 5 5 2-11 1-6 3 18 5-7 0 3 2-13 9 7 5-15 5 4 3-5 7-1 7 2 1 11 11 6 7-6 1-11 1 13 4-13 0 21 3-23 0 24 1-3 3-21 0 24 0-21 4 0 3 13 1-7 1-6 0 7 2-5 1 9 2-14 0 8 3 9 0-11 3 10 1 9 1-24 2-1 2 2 0 19 1-23 2 13 1 14 2-12 3 1 1-16 0 20 3-3 0-8 1 7 3 3 0 5 4-21 2 15 2 11 0-12 0 1 2-16 0 0 1 6 0 21 1-25 1 7 1 1 2 3 2 4 1-9 1 7 1-5 1-10 1 6 2 15 2-10 1-1 0 15 1-15 1-7 0 2 1-1 0-6 2 21 0-10 1 2 1 15 3-11 1 11 1 0 0-10 0-13 2 16 1-5 2-8 0 1 0 17 2 2 0-14 0 8 0-16 0 18 1 4 1-8 1-17 0-1 0 3 1 18 1-7 1-14 0 4 1 1 0 4 1 4 0 9 0-11 2 16 0-2 0-24 0 3 2 13 0 7 1-11 0-6 0 15 1 3 0-2 0-16 1 20 0-14 1-15 0 14 1 6 1 3 0-14 1-1 0-4 0 15 0 1 1-16 0 6 2 19 0-7 2-11 0 17 0-17 7 2 2 8 0-1 2-15 0 20 1-6 1-8 0 12 1-22 1 0 0 3 4 12 1-2 0 9 2-4 1 10 1 0 1-6 0-8 1 13 1 1 0-21 0 0 3 16 1-11 1 9 1-11 2-7 1 21 0-20 1 3 0-7 1 20 0-21 1 24 0-24 0 22 1 3 1-3 0 3 1 3 1-2 1-1 0 3 1-19 0-6 5 17 0-14 1 14 0 4 1-4 1 6 0-8 1 7 0-15 1-10 1 17 1-15 0 27 2-2 0-15 0-4 0 9 0 5 4-6 0 11 0-18 1 3 0-11 3 28 0-19 0-6 1 20 2 2 0-26 1 5 0 1 0 8 2 10 1-14 0 5 1-8 1-3 2 10 2 13 2-4 2-22 3 23 2-22 0 27 1-12 7 3 1-19 2 18 0 6 1-18 0 17 2-11 1 12 2-2 2-6 0-10 3 2 2-5 2-4 2 27 0-8 0-2 1 9 0-24 3 11 2-2 2 5 0 2 6-17 0 3 16 8 8 7 4 6 2-5 1-9 5-9 7 27 13-29 5 18 7-12 3-6 4 8 6 19 14-19 18 15 15-20 18-2 28 53-15-21-9-3-26 29-1-5-3-1-2-14-15 20-26-19-6 12-7-12-8-4-1-2-4 17-5-17-2 21-2 1-9-19-2 22-7-1-1-14-3-9-1 23-4-22-2 22-2-6-3-3-2-16-1 7-2 9 0-12-3 7 0 13-3-8-2 3-1-9-6 7-1 9-2-3-1-18 0 15-1-8 0 10-1 3-4-14-5 0 0-4-1 14 0-19 0 7 0-12-3 26 0-1-2 2 0-19 0 2 0-2-2 15 0 3-1-25-2 16-2-7 0 13-3-19 0 2 0 9-1 9-1-21 0 13-1 11 0-4 0-11 0 13-3-1-1-4 0-1-2-16-1 26-1-17 0-11-1 25 0-26 0 1-1 5-2 4-2 8 0-2-2-9 0-2-2-3-2 0-1 12 0-6-1 8 0 12-1-17-1-7 0-4 0 25-1-16 0 8 0 1-1-6 0 10-1-16-1 1 0 2-1 15 0-8-1-7 0 14 0-16 0-6-2 5-1 11-3 6 0-23 0 2-2 10-1-10 0 18 0-8-2-4 0 20 0-14-2-1-1-9-1 22 0-26 0 0-1 24 0-24-2 27-2-15 0-2-2 5 0-2 0-7-1 14-1-12 0 18-1-10 0-2-1 15 0-11-1-4-2-5 0 10-1 10-1-28-1 19 0 5-1-1-1-2-1-9 0-1-1-6-1 6 0 5 0-9-1-4-1 23-1-4 0-6-1 11-2-3 0-14-2 10-3-9 0 11-1-6 0 6 0-10 0 1-1-9 0 24 0 0 0-16-1-1-1-8-1 11 0 2-1-15 0 12-2-8-1 0-1 16-1-13 0 12-1 8 0-29 0 9-1 1 0 0 0-7-1 9-2 4-2 10-1-21 0 11 0 6-1-13-1-5 0 22-1-6-1 3-1-17-1 16-1 2 0-20 0 1 0 22 0-15-1 6-1-14-1 8 0-3 0 10 0-19-1 12 0-1 0-8-1 8-1-4 0 10-1 1-2-8-1 14 0-10-1 6 0-10 0 7 0-2 0 14-1-8 0 2-1-9 0 13 0-16-1 10-1 0 0 4 0-15 0 17-2-18 0-7 0-1-3 15 0-3-1-12-1 11 0 1 0 10 0 2-1-2-1 1 0-16 0 21 0-14 0 12 0 1 0-20-1-8-1 17-1-2 0 1-1-1 0-13-1 24 0 1 0-16-1 10-1-5-1-14 0 27 0-12-1 3 0-4-1-3-1 15-2-12 0-8-1-6-1 17 0 6-1-7 0-10-1 21 0-7-1-14 0 12 0 9-1-10-2 5 0-6 0-18-2 18 0 1 0-13 0-2-1 4-1 11-1 8 0-24-2 19 0 6 0-27-1 16-1-11-1 4 0 14 0 0 0-8 0 1-1-16 0 15 0-3-2 7 0-15 0-5-1 4 0-1 0 3-1-3 0 10 0-5-1-5 0 6 0 5-1-9-1 20-1-9 0 8-1-15 0 18-1-9 0 9 0 0-1-4-2-3-2-14-1 21-1-20 0 4-1 18 0-3-2-7-1 4 0-19-1 0 0-2-1 19-2-8-1 16 0-18-1 0 0 10-2-6-2 13 0-18-1 11-1-12-1 20-3-19-2-4 0 13 0-11-1-3 0 17-2 0 0 3 0-2 0-19-2 15 0 9 0-7 0 3-2-12-1-2-1-7 0 7-1 19-2-4 0 4 0-1-7 0 0-10-3-4-3 13-2-22-1 23-2-13 0 10-1 0-5 0-1-4-4-8-2-7-3 3-1-8-10-1-3 18-2-15-5-1-2 14-3 12-2-11 0 1-4-3-2 0-1 4-1 1-1 6-3-25-7 25-1-6-1 5-1-14-1 16-1-22 0 18-2 3-1-8-6-14 0 1-4 12-1 8-5 1-2 1-7-2-2-1-2-1-4 2-1 3-4-6-3-16-1 8-2 7-1-1-3-4-5 10-2-12-4 3 0-3-4-6 0 20-1-5-1-4-7 0-4-7 0 16 0-27-3 22 0-4-2-7-2 2-3-1-2 16-2-24-1 14-5-8-6 16-4-9-3 2-8-12-2 16-1 1 0 0-10 1-4-13-1-3-14 12-2 0-1 5-3 0-6-14-5-4-2-4-5-4 0 27-3-3-8 4 0-15-4 10-2-1-2-10-4 1-1 8-1-12-5 12-3-8-5 11-1 1-3 2-2-1-1-11-2 4-8-20-10 23-8-12-1 16-2-12-6 12-5 0 0 1-1-5-7-7 0-2-11 13-1-20-2 15-2-1-1 6-2-2-1-3-4 5-5-16 0-1-3 6 0-15-4 18-2 5-14 1-2 2-2-10-4 2-17 6-4-12-7-1-2-1-1 5-2 6-4 1-2-3-5-17 0 23-1 1 0-9-6-1-4 5-2 26 0-11 0 22 0-23 0-5 2 20 0-8 1 5 4-12 0 6 1 8 1 2 2 1 0-1 1-8 1 0 2 11 0-11 0-7 2 15 0-13 0 16 0-22 1 18 1 5 0-13 0-9 1-4 0 10 0 8 1-12 1 10 0 13 1-3 1 2 0-7 2 3 1-11 1 11 1-2 1-7 0-9 1 0 0 18 0 3 1-3 0-17 1 15 1-11 1-3 1 4 2 12 0-24 0 23 1 4 0-18 2 9 1 0 0-12 1 5 0 2 1 5 5-8 0 11 1-12 0 19 1-4 0-4 0 1 1-16 0 7 2-1 0 12 1-16 1 16 3 2 0-1 0 2 1-20 1-2 1 15 1-4 1 6 0-4 0-12 1 1 2 6 3 0 0-1 0-1 1 3 0 15 1-6 1 6 1-1 1-5 0-9 1-8 0 8 0-5 0 6 0-9 1 14 3 5 0-16 0 12 0-2 1 7 0-7 2 5 0 2 0-5 1 7 1 1 0-14 1-7 0 10 0 0 0 11 1-11 0 10 0-15 1 6 1-14 1 24 1-1 0-24 1 2 0 1 1 12 1 9 0-5 0-11 1 13 1-3 0-16 2 15 0 7 1-25 0 26 5-20 1-5 1 0 0-2 0 10 2 14 1 2 2-26 0 16 1 2 1-15 1 18 0-7 0-5 0-4 1 22 1-10 0-1 0-14 1-2 0 10 1 10 0 0 1 7 0-20 0 7 2-2 2-1 2 8 0-7 1-5 1 18 3-4 3-10 1 9 0 0 0-9 1-1 0 16 0 1 0-14 0-4 1 4 0-13 0 4 1 10 1-3 1-2 0 15 0-11 1 5 0 9 1-25 0 1 2 1 2 8 2 14 0-24 1 3 1 12 0-8 1-10 1 22 3-16 1-6 1 20 1-7 1-9 1 24 0 0 1-24 1 24 2-5 0-13 1 4 0 4 0 1 2-10 1 20 1-14 0 7 0-4 1-2 0 1 0 4 1-13 0 12 1-9 0 13 1 5 0-29 1 0 1 13 1 14 3-27 0 22 0 0 0 3 1-13 2 16 0-18 0 4 0 13 1-9 1-16 0 21 2-5 2 0 1-13 0 11 1 11 1-14 0 2 1-2 1 0 2 14 1-17 2 14 0-6 4 5 2 1 1-6 2-10 1 8 1-7 1 3 1 12 0 1 2-9 2-8 2 8 0-3 0 13 0 2 1-12 1-7 2 2 0 8 2-18 2 27 1-4 1-9 0-9 6-1 4-4 0 16 1-8 1-1 0 15 0-7 0-9 1-3 0 24 1-13 1-10 1 2 0 6 2 0 0 13 1-14 0-4 3 18 0-1 0-13 1 2 0 3 1-2 2-1 0-2 0-1 1 11 0 1 1 6 0-10 0 4 0-14 1-4 0 19 0-1 0-7 1-2 1 4 1 4 2-5 0-7 0 4 0 4 2-18 4 25 0-5 0-17 2 24 0-17 1 16 1-7 1 9 0-1 0-17 0 9 1-2 2 1 0 0 2-3 0 11 1-14 0-7 1 22 1-2 1-9 2 7 1-18 1 20 0-16 0 10 1 8 0-7 0 0 0-18 0 25 0-2 1-16 1 10 0-5 1 15 0-29 3 14 0 15 1-19 1 6 0-9 1-3 1 8 1 2 2 10 1 5 0-1 0-7 2-4 0 8 3-21 0 24 1-23 0-2 1 3 0 21 0-13 3 10 0-2 1 1 1 3 1-1 0-1 2-8 2-2 0 13 1-7 1-19 1 18 0-7 1-8 2 14 0 4 0 7 0-9 0-3 2-7 0 4 1-8 0 23 0-26 3-2 0 25 0-6 0-20 0 13 1 14 1-4 0 4 0-11 2-11 0 20 0-24 0 23 2 4 2-22 1 5 0 3 1 10 1-7 0 10 0-1 0-12 0 12 1-9 1-2 1-13 0-2 2 22 0-22 2 26 1-12 0 2 1 5 1-21 1 17 1-14 0 23 1-23 1 22 2-10 0 6 0 6 1 1 1-4 0-24 0 6 0-3 1 24 0-11 0 3 2-10 0 20 1-6 1-16 0 15 2-1 0-21 1 22 0-14 1 11 2-8 0 9 1-18 1 15 0-15 1 18 0 3 0-18 1 18 0 1 0 5 2-25 1 6 0 6 2 8 0-13 1-3 0 8 1-4 1 10 0-2 0 0 1 9 0-26 1 8 0-4 2 14 0-2 1-18 1 26 0-3 0-1 1-5 0 3 1 0 2 6 0 2 2-18 0 14 1-2 0-3 4-11 0 12 0-7 1-13 0 24 0-24 1 21 0-2 2-8 0 8 0 0 2-7 1 11 0-17 3 19 1-17 0-1 1-3 1-4 1 22 0-22 0 17 1-8 1-8 0 3 0 24 0-27 1 20 1 4 0 3 0-21 1 7 0 4 0 9 0-26 2 4 0 19 1-23 1 23 0 2 0 0 1-14 0 16 1-29 1 27 2-8 0 3 0 0 0-4 1-5 3-2 2 0 0 9 1 4 0-15 4 19 1-27 4 10 11-9 3 2 0 9 0 5 2-1 8 6 2-19 4 9 2-6 3 14 0-17 1 14 1 9 1-6 3-13 3 12 3-9 2-7 9 25 1-12 2 9 1 0 0-8 2 10 0-15 7-13 0 10 0 0 1 19 0-28 0 6 0 11 1-5 1 9 1 5 0 0 1 0 0-9 1 5 2-13 1 3 0-3 2-8 0 11 0 3 1 12 1-5 0-6 3-9 0-3 2 24 1-17 0 9 0-11 1 3 0 12 0 4 1-14 0-8 0 13 1-9 0 17 1-6 2-6 4-7 1 16 2-8 0-2 0 1 1 12 0-27 0 18 2 2 0-9 2 5 0 4 0 4 1-25 0 14 1 8 1 5 0-11 1-14 1 8 0 2 0-10 0 18 3-14 0 11 0-5 1 3 2-1 1-1 1 12 0-8 1 2 0-4 2-2 1 5 0-17 2 22 1-1 0 7 1-23 1 5 1-4 0-1 1 19 1-20 0 5 1-8 1 18 0 6 1-24 0 20 0-13 1 9 1-15 0 20 1-16 0 8 2 5 0-9 0 11 1-13 0 4 1 12 0-8 0 2 1-13 0 18 1 2 0 0 0-23 0 4 2 12 0-17 1 26 1-5 1-21 0 21 1-10 0-3 1 6 0-6 1 4 0-5 0-3 1-5 0 12 0-13 1 20 1-13 0 10 0 1 0 5 0 5 0-23 0 10 2 5 0 0 0-7 2 11 1-15 0 6 1 0 0-8 0 21 0-6 1 6 0-20 0 17 1-12 0-4 1 20 0-25 1 4 1 18 1-15 0-11 1 10 0-2 1-5 0 5 1 6 0 13 1-11 0-14 1 22 0-4 1-2 1 5 1-17 1 21 0-3 1-9 0-14 0 12 0-1 2 12 1-22 0 21 0-20 0 26 1-5 2-17 2 4 0 6 2-15 0 7 2 16 0-20 1 23 0-22 1 23 0-10 0-1 0 11 0-22 1 15 0-20 1 2 0 13 1 6 1-19 0 21 2-9 0 6 1-16 0 9 0 4 1-14 0 8 0 14 0-11 1-2 1 3 0-3 0-8 2 14 1-15 1 10 1 6 0-11 0-3 2 8 1 12 0-13 0-11 0 4 1-7 0 7 1 13 2-2 0-7 1 13 1 0 0-8 1 6 0-2 1-17 1 19 0 2 0 0 2-14 1 12 0-13 1 1 0 6 0 1 1 3 0 3 0 2 1 1 0-9 1 7 1-10 1-3 0 13 0-7 1-15 3 21 1-15 2 2 0 1 1 9 0 4 2-2 0-19 1 7 0 17 1 2 0-28 0 20 0-13 1-5 0-2 1 0 1 20 1-2 2-16 1 22 0-18 0 16 2 0 1-18 0 8 0 9 2-16 2 13 1-18 1 5 0 0 1 1 1 8 1-12 2 5 2-1 0 8 0 9 1 5 1-23 1 21 0-16 4-6 2 23 0 0 1-7 5-21 0 27 10-1 4-26 1 9 6 9 2-13 1 22 0-7 2-4 5 2 3 10 1-4 1-1 3 0 1-21 2 9 4 16 2-2 0-7 1 2 3-11 1-8 7 23 1-11 3 13 2-5 3-9 0 2 4-10 0 23 2 1 3 0 4-4 2-9 12-4 12 13 2-4-5 21-3 4-19-13-1 14-3 4-2-20-1 24-5-24-2 0-2 8-4-4-8 2-6 13-8-11-9 21-1-9-2-3-5-14-1 5-9 2-2 0-3 4-1-3-4-11-1 2-4 18-1 0 0-2-3-18-3 27-1-16-1 7-4-8-1 3-2-13 0 5-1-1-5 7-1 15-1-26-2 3-2 9-1-11-1-1-2 20-1 3-1-16-1 1 0 16-1-15-1-5 0 2 0 18-1-4-1 1-2-21-1 3-1-1 0 10-1-6-1 17-1-13-1-4-1 20-3-3 0-23-3 12-2 11-1-6 0 9-1-10 0-9-1 5 0 12-1-18-1-2-1 0-3 16-1-6 0-7-4 18 0-24-1 15 0-14 0 4-1 20 0-15 0 15-1-25 0 18-1-19 0 17 0 1-2 5 0 5-1-7-1-19-2 17-1-12 0 15 0-19-1 11 0-7 0 20-1-12-4 14-1-12 0 0 0-1-1 2-1-8-1-1 0 15-1-15-1-2-2 16-1-15-1 21-1-16-1-8 0-5-2 6-1 18-2 4-1-24-2-2 0 4 0 21-1-24 0 6-1 0 0-4-1-5-5 15-2-10-1 24-1-27-1 15-1-12 0 0 0 24-1-16-1 9-1-14 0 5 0 14-1-22 0 9 0-14-1 4 0 18-1-21 0 6-2 10 0 0-1-16-3 10-2 11 0-9-1 1 0-11 0 0 0 3-1 3-2 14 0-17-2 1 0 7-1 0 0 1 0-4-1 12-2-10 0-5 0 7-3 8 0 2-1 3 0-12 0-4-1-9 0 20-2-12-1-2-3 10 0-3-2-14-1 7-1-4 0 2-4 1-1 3-1 13-1-20 0 12-1-14-2 1 0 12-1-15-1 17-1-1 0-13 0-3-1 6-2-6-1 5-4 7-3-2 0 12 0-17 0 9-2-3 0-2-4-1-4 14 0-9-1-1 0 9-1 1-1-8-2-10-3 0-1 7-1 11-3-13-2 15-4-24 0 13-1-6-3 21-1 1-4-22 0-4-1-1-1 27 0-28-1 8-7 6-2 5-4 9-1-14-1 3-1-15-2 4 0-7-1 6-1 4-3-3-1-2-1 0-5 20-1-25-4 15-2-9-1 4-4 9-9 0 0 3-1-2-3-11-6 17 0-8-1 5 0-19-2 0-1 22 0-25-2 16-1-9 0 6-1-4-3 16-1-19 0 14-1-21 0 22-1 2 0-7-1-1 0-2-1 8-1-11-3 1-1-9-2 2-2 9 0-6-1 13-2-14-1 2 0-5 0 0-1 4-1 8-1-4 0-1 0-8-1 15-2-10-2 3 0-5-1 3-1 10-1-17 0 17 0 10 0-19-1 4-2-13 0 3-1 22-2-5 0-16-3-2 0-2-1 7-1 9 0-13 0 24 0-12 0-3-1 6-1-4 0 2-1 6-2-4-2-19-4 12-1 9-1 7 0-13-2-10 0-3 0 2-1 19-4-21-3 14 0 9-2-11-1 1-2-9 0-4 0 26-2-26 0 1-1 7-2-7 0 20-1-11 0 8-1-13 0 1-1-2 0 6-1-5 0-5-1 2 0 7 0 2-1 14-1-27 0 17-1 3-1-11-1 7 0 5-1-15 0 22 0-21-1 2 0-8-3 7 0-8-2 16-1-6 0 15-1-9 0 6-1-14-1 6-6-10 0 1-3 10-4 0-1 2 0-12-1 1-1 15 0 2 0-22-4 6-2 11 0-10 0-5-1 16-1-5-2-2 0-1-1-2-1 3-2 4-3-12-4 0 0 15-1-15 0-3 0 23-1-22-1-1 0 24-1-6 0-2-6 6 0-16-1 7-1-5-1-7 0 18 0-7-3 10 0-17-1 8-2 10-1-3-5-21-1 26-1-7 0-13-1 15-1-5-1-6-2-7 0 12 0 3-2-4-1-5-2 3-1-5-1 8-1-12 0 18-2-2 0-5 0-6 0 8-2-4-1-4-1-3-1-2-3 17 0 8-1-15 0-10-1-1 0 16-1 1-3-15 0 3-1-1-2-1-1 1 0 4-1-6-1 6-3-10 0 3-2 16-1 0-2-8-2 9-1 6 0-20 0 14 0-15-2-1-1 1-1 12-1-17-1 21-3-12 0 3 0-5-1 5-3-8-1-2 0-1-1 28 0-7-2-11 0-2 0 13-2 2-2-23 0 19 0-19 0 16-2 9-1-25 0 0-5-1-2 14-1-9-1 7-1-7-2-1-1 4 0-6 0 24-1-14-1-3-2-5 0 8-1-7-1 3-1 15 0-19-1 9-3-13-2 4-2 2 0-6-1 17-1 2-1 0 0-19 0 6-1 0 0 23-1-18-2 9-1-18 0 4-2-1-1-3 0 11 0 3-5-15-2 2-1 6 0-5-3 5-3 11-1 0-1-5-2 12-2-12 0-12-4 14-1-10 0 15-1 4-1-1 0-23 0 5 0 2 0 4-2-8-2 20 0-14-1-10-3 10 0 15-1-21-2-3-2 3-1 10-1 13-5-10-1-7 0 5-3-11-5-4-1 3 0 6-3-1-2 2-1 10-2-15-1 3 0 6-3 1-1 11 0-17-1-3-1 0 0 17-2-12-1 4 0-13-2-1-1 15-1-9 0 7 0 7-1-11 0 5-1-1 0-6 0-5-2 20-2-17-3 11 0-15 0 18 0-18-2 7-1-8-1 15-2-7-1 1-2 0-1-10 0 7-3 18 0-12 0-6-1 11-1 3 0-6-1 7-1-11-2-3 0-4-1 10-1 3-1 0 0-8-1 13 0-15-1 14-1-14-1 17 0-8-2 3-2-10-4-9 0 2-1 17 0-10 0-9-1 1 0 9-4-3 0 18-1-24 0 7-4-6-1 21-1-12-1-8-1 1-1-2 0 8-3 3-1-9 0 10-3-12-2 9 0-11-3 12-2 2 0 14-1-17-1-11 0 27 2 2 3 19 3-16 12 4 6-3 4 6 0-8 3-1 2 0 6-1 2 5 10-2 3-3 4 3 8 5 4 0 1 9 1-8 6-3 11-1 3 11 4-10 3 12 4-10 10-7 5 4 6 3 1 11 0 7 4-16 6-9 5 11 9-10 1 3 5 16 7-20 0 8 4-4 1-5 8 3 0 10 2-6 16 1 3-1 1-1 1-5 5 7 6-2 2 12 20-12 31-4 1 20 2-9 29-3 0-10 6 1 3 16 1-4 6-7 8-6 1 16 4 4 1-15 3-3 0-1 0 7 4 12 4-17 1-3 1 29 9-20 9 2 5-8 14-3 15 5 1 15 6-11 5 15 3-12 3-3 7-1 0 11 6 4 7-2 12 5 13-25 2 16 16 9 3-6 3-18 22-1 6-1 3 2 1 20 2-8 0-11 3 1 1 1 0 24 1-5 1-8 16-1 3-5 2-1 8-2 5-6 0 7 0 6 9-12 7 24 2-7 0-3 5-16 3 7 5-7 7 27 0-1 7-1 8-22 6 14 1-8 0 7 2 13 4-23 1-3 0 6 1-1 0-1 4 1 2 1 5 17 0-26 6 18 1 1 6 3 1-16 0 14 3-19 1 5 3 4 1-7 0 26 1-24 3-3 1-2 3 11 2-9 1 18 1-15 3 4 1-5 5 1 11 5 2-2 4 4 0 9 6 4 2-17 1 0 3-6 4 10 30 16 33-24 15-1 30 7-25 23-33 17-90 8-9-25-12 5-29-7-29 1-8-1-1 2-27 6-26-6-115 7-25 16-168-25-77-1-96 11-38-2" fill="none" marker-start="url(#d)" marker-mid="url(#d)" marker-end="url(#d)"/>
<path d="M97.5 236.5L97.5 309.5" stroke="#939393" stroke-width="1"/>
<path d="M53.5 288.5L153.5 288.5" stroke="#939393" stroke-width="1"/>
<path d="M53.5 236.5L53.5 309.5" stroke="#8c8c8c" stroke-width="1"/>
<path d="M53.5 309.5L153.5 309.5" stroke="#8c8c8c" stroke-width="1"/>
<text x="86.5" y="282.6" font-size="3" text-anchor="middle" fill="#333">Q1</text>
<text x="107.8" y="282.6" font-size="3" text-anchor="middle" fill="#333">Q2</text>
<text x="86.5" y="297.2" font-size="3" text-anchor="middle" fill="#333">Q4</text>
<text x="107.8" y="297.2" font-size="3" text-anchor="middle" fill="#333">Q3</text>
<text x="50.3" y="243.4" font-size="6.6" text-anchor="end">10<tspan font-size="4" dy="-2.2">5</tspan></text>
<text x="50.3" y="262.4" font-size="6.6" text-anchor="end">10<tspan font-size="4" dy="-2.2">4</tspan></text>
<text x="50.3" y="280.4" font-size="6.6" text-anchor="end">10<tspan font-size="4" dy="-2.2">3</tspan></text>
<text x="50.3" y="296.4" font-size="6.6" text-anchor="end">0</text>
<text x="65.5" y="320.3" font-size="6.6" text-anchor="middle">0</text>
<text x="76.3" y="320.3" font-size="6.6" text-anchor="middle">10<tspan font-size="4" dy="-2.2">2</tspan></text>
<text x="98.3" y="320.3" font-size="6.6" text-anchor="middle">10<tspan font-size="4" dy="-2.2">3</tspan></text>
<text x="122.3" y="320.3" font-size="6.6" text-anchor="middle">10<tspan font-size="4" dy="-2.2">4</tspan></text>
<text x="144.3" y="320.3" font-size="6.6" text-anchor="middle">10<tspan font-size="4" dy="-2.2">5</tspan></text>
<rect x="55.5" y="310.1" width="94" height="0.9" fill="#999" fill-opacity="0.6"/>
<rect x="178.5" y="236.5" width="100" height="73" fill="none" stroke="#c4c4c4" stroke-width="1"/>
<ellipse cx="222.5" cy="295.9" rx="33" ry="4.5" fill="#c21a16" fill-opacity="1" filter="url(#b1)"/>
<ellipse cx="236.5" cy="280.5" rx="5" ry="8" fill="#d02828" fill-opacity="0.35" filter="url(#b2)"/>
<ellipse cx="207.0" cy="282.5" rx="5" ry="6" fill="#d02828" fill-opacity="0.25" filter="url(#b2)"/>
<path transform="scale(.1)" d="M1912 2416l485 13 2-1 31-12 83 2 48 23-93 11-403 1-81 6-174-16 175 44 707 28-307 4-157-3-86-23-5 4-143 8-9 14-94-9 101 39 6-7 13 7 102-14 187 13 61-17 5 16 38-21 88 22 3-1 102-19 134 45-7 1-112-18-229 10-41 8-15 4-192-14-26 10-302 1 48 16 17 2 10 9 149-17 22 16 12-15 12 6 18 4 12 6 3 3 156 3 21 0 10-23 5 5 2-7 5 7 7 15 5-12 22-9 1 6 10 5 13 11 7-15 1 15 13-7 1-16 21 23 5 3 15-28 22 28 5-14 25 4 25-7 88-7 142 9 31 17-4 24-276-5-34 5-14-5-21 6-2-25-8-1-1 5-8 4-15-6-6-3-6 10-13 18-2-19-4 12 0-12-3 11-2 9-3-15-6-2-4-1-2 14-7-5-2-14-4-2-2 7-2 5-2-2-3 3-16-6-7-2-55 0-103 0-3 20-19-22-26 15-4-2-4 5-11-8-3 3-6-2-3-6-64 11-22-19-57 13-12 7 9 35 14-22 19-4 23 16 27-4 15-11 19 4 12 17 12-11 6-12 0 1 7 21 6-22 16 27 32-12 2 12 6-20 9 20 0-14 19 1 6-10 0-6 6 9 12 5 62-3 4 9 21-16 7-1 1 8 3 18 14-5 0 5 2-2 1-27 21 9 2 11 2-13 3 8 0-4 1 14 6-25 4 9 2 18 9-2 1-23 0 11 2 11 3-18 2 17 13-17 0 20 4-4 0-14 4 14 1 5 2-2 4-7 1-5 4 14 5-17 4 12 8-7 2-11 0 11 10-13 1 8 10 18 10-12 11 3 1-11 79 28-18 1-45 2-6 8-2 7-4-18-8 22-8-19-2 10-8 4-4 4-1-6-12-8-2 1-1 10-2-6-2-7-2-4-2 12-1-9-7-1 0-1-1 21-2-6-5-2-2 8 0-11-1 4-5-11-1 12-6-9-4-12-1 27-2-2-3 1-2-20-2 4 0-9-4 3-1 12-2-7-3 7 0-16-1-1-6 17-2 9-3-16 0 11-1-22-1 3-1 8-1 9-1 4-7-15-1 10-1-3-3-6-1-3-1-3-7 1-10 16-8-5-16-1-2 5-12 3-17-13-61-8-5 23-14-1-7-23-6 21-3 0-1 4-1-19-12-7-14 23-2-1-5 7-8-5-4-13-7 17-1-4-2-18-11-3-2 16-4 1-5-8-3-5-7 16-4-15 0-2-1 16-9-8-4-12-3 5 0 3-2 1 0 17-7-14 0-7-15 1 0 15-4-10-9-3 0-2-7 3-20 14-65-13-13 1 7 42 45 1 17-1 11 3 7-27 13 9 4-9 4 24 23-9 1 6 10-11 0-9 1 27 0-19 2 14 3 0 3 4 5-6 0-2 3-17 4 13 3 1 2 8 0 4 2-26 12 18 1-16 0 13 0-14 1 24 4-16 4-2 1 18 14-16 1 10 5 0 1-8 1 8 4-8 0-5 5-6 0 0 7 6 5 20 3-1 4-25 6 2 10-2 0 24 9-11 2-16 3 15 13 11 2-19 14 18 11-14 6 17 24-22 1 17 10-4 24-17 0 25 1-7 16 2 10 7 2-14 8-14 2 5 4 0 7 2 3 11 1-13 0 18 2-4 1 1 3 2 1 1 2-3 1-17 2 15 0-12 1 18 1-20 2 11 0-13 4 7 3 8 3 8 0-10 1 8 1 4 0-21 2 0 6 2 0-4 1 12 2 7 2-22 1 26 2-13 1 8 2-7 2 7 2-11 4 13 1-23 4 1 1 18 0-4 2 8 5-5 5-6 0-4 1 18 3-1 4-7 13 0 0-11 2 3 9-10 1-2 2 17 4 6 9 4 4-4 9 5 1-2 1-5 13-2 13 3 3-5 11-5 27-7 126 17 70 27-42-17-110 4-30 8-55 2-6 8-9-19 0 9-7 8-8-15-5 4 0 3-7-12-2 9-1-1-2 14-2-5-1 7-4-18-12 21-6-6-2 4-3-6-1-10-4 5 0-13-1 25-2-21 0-4-3 19-1-8 0 8 0 4-11-18-1 10 0-9-1 5 0 2-1 8 0-20 0 25-2-29-3 16-2 10 0-10-1 0-1 5-1-19-2 8 0 15-1 1-2-15 0-9-2 22-1 0 0-8-2-10-1 16-2 6-2-2-1 3 0-12 0-8-5 14-1 1 0-2-6-22-1 4-2 20-1-8 0-1 0 10-4 2-1-11-2 5-2-3-4 1-1-19-1 15-2 13-1-6-3-4-3 3-10 4-8-24-4 10-7 15-4-20-4 11-5-7-12 3-16-7-1-5-22 0-20 4-1 16-24-9-3-8-9 12-24 4-2 2-3-1 0-9-1 16-7-2-10-5-3-11-10 0-1 4-3 14-1-16-5 14-1-3-2 0 0-13 0 5-1-2-1-8-1 5 0 10-1-14 0 12 0 8-5-3-1 6-3-3-1-1-1-16-6-7-2 12-11-3-1 16-2-8-1-10-5 8-1 0-4-9 0-6-7 11-1 0-4-7-3 21-3-24-1 0 0-1 0 12-2 3-6 5-2-5-1-3-1-7-2 6-7 6 0 6-11 0-2 3-7-1-8-14-13 1-1-6-13 11-7-10-67-1-15 4-32 14 37 29 6-10 33 7 24 3 21-8 2-14 19 13 1 4 2 6 9-24 2 16 10 5 7 6 6-10 5 10 8-13 1-12 6 17 7 1 6-16 0 4 3-1 2 14 2-21 1 7 4 18 2-4 0-13 0 4 9 7 1 3 0-1 10-3 0-12 0 11 1 8 11-16 0 1 0 12 0 5 4-15 0 12 1-10 1 4 1 1 0-11 2-8 1 5 0 14 2-12 11 3 11 1 3 5 2-15 2 22 4-4 1 6 3-4 3 3 3-26 4 6 1 23 1-22 1 10 3-13 14 9 1-5 10 20 2-22 7 18 25-17 6 4 5 15 9-24 4 10 3-4 7-5 3 24 3-13 14 7 5-6 6 9 13-2 2-15 5 20 13-27 2 7 3 15 2 2 0-14 1-3 2 5 1 17 1-2 4-13 1 4 5 4 1-2 2 2 0 5 2 2 0-24 2 5 3-9 0 14 2-15 5 11 1 10 2-8 0-2 1 4 0-14 2 4 3-3 2 20 1 0 1 6 6-21 1 18 0-2 3-4 1-8 2 12 3-20 1 22 1-6 0 0 1-15 2 1 1 8 1-8 0 6 1 8 0-12 2-2 2 7 2 13 0-14 0 6 2-16 1 26 0-24 1 17 3 8 4-21 1-4 2 0 3 21 1 1 5-17 2 2 2 7 1 5 2-15 1 2 1-9 5 12 2-3 2 15 1-10 2 4 3-17 1 27 6-23 1 4 6 0 2-8 1 1 2 4 1-6 6 8 4-1 0 10 10-10 7 14 1-19 15 17 92-5-30 40-72-24-1 20-9 1-8-12-15-9-1 27-1-2-3-13-2 3-4-11-5 11-1-6-5-7-1 16-2 8-5-7-4-12-5-3 0-3-2 24-1-20-3 9-5 0-5 8-5-1 0-8-1 3-1 7-2-9-1 12-4-18-1 10-3 2 0 6-2-23-2 24-2-5 0-4-8-18 0 6-2 6-2-8-1-3-1 21-4-13-1-9-10 24-2-14 0-9-2 23-4-16-2 17-1-16-1-2 0 9-3-16-3 7 0 15-2-18-3 7-2-8 0 11-2 2-2 1-1 4-1-13-1 8-2-6-6 12-2-6 0-11-3 24-2-16-1 14-3-18-3 17-10-4-1-10-5 4-20 9-9-7-18-12-17-1-1-1-5-4-7 28-10-24-6 25-1-2-5-10-7-7-2 7-2 7-6-13-2 3-1 2-2-10-4-6-5 21-1-8-2 4-5 12-3-26 0-2-2 9-1 1-1 0-3 16-2-23-3-3 0 28-1-24-6 1-2 21 0-6-3 5-2 0-1-24-9 23-4-25-2 27 0-9-1-6-5-3-3-6-1 5-1 21-3-3-4-25-5 19-1 5-2 1 0-11-6-7-3 19-2-9-1-9-5-2-1 15-3 4-2-17 0 19-1-17-3-9 0-2-2 15-1-14-5 9-2-5-3 24 0-27 0 9-1 6 0 1-4 4-13-10-14 9 0-16-2 3-4 15-2-6-3 3 0 8-6-10-5 8-3-5-5-18-15-3-3 27-42-3-62-20 37 31 22 2 19 1 6 10 21-16 18 22 5-6 9-9 0-9 23 25 11-5 12 1 6-8 1-9 2 9 4 2 0 8 3-10 3 7 9 4 0-10 1-11 3 5 0 9 1 1 0-15 3 26 2-9 0-2 3-8 1 10 2-3 3-9 1 17 6-6 4 2 1-10 1 3 1-6 0 2 1 16 0 0 2-7 7-13 7 7 2-10 23 11 2-5 7-5 3 2 17 12 6-11 35 14 2-3 2 7 2-8 19-4 13 9 13 6 12-10 7-11 6-5 5 20 20-1 1 2 2-18 9 1 2 8 1-4 5-3 1-2 6 20 1-14 0 15 1-16 0 15 3-14 1 3 0-1 8-7 2-4 0 0 5 11 7 10 1-7 2 12 2-10 0-7 9-7 2 21 1-8 5-6 1 7 1-14 0 24 2-2 4 3 1-23 1-4 2 4 6 3 3 15 3-23 0 3 3 8 2-12 0 16 1-10 4-2 2-2 1 0 0 3 1 4 1-4 2 18 0 2 3 4 4-23 8 19 2-2 3-2 1-13 3 16 1-13 2 7 1 1 9 2 28-3 199-13 54 48-207-7-21 7-19-13-27 8-3 2-1 1-12 8 0-26-13 11-2 10-2 3-5-16-9 10-1-20-4 13-17-12-1-1-3 20-2-1-3-10-1 10 0-9-1 2-2 13-1-12 0 5-7 0-2-8 0 18-4-19-8 3 0-8-1 3-1 1-5 0-7 17-3 1-3-19 0 13-3-12-8 20-1-7 0 4-4-5-5 1-12 6-6-7-1-17-23 20-27-15-22-1-9-7-24 7-7-3-34-2-14 13-23 0-4-14-1 0-6 7 0 6-10 1-3-10-7 22-1-23-3 9 0 12-8-5-2 0-6-16-1 2-4 13 0-8-3-11-3 27 0-27-2 1-3 8-1-8-1-1-1 28-3 0-3-13-15 6-6-6 0 1-14-3-8 1-3 13-6-4-7-10-1 0-9-13-13 19-20-9-47-2-1 43 32 3 28 3 0-13 8-8 10 17 5 2 20-13 4 15 3-18 15 13 2-1 0-2 1-19 1 0 2 25 8-8 9 6 7 0 0-10 3 6 3 7 1-10 1 3 0-18 4 26 0-20 5 21 2-1 7-18 4 15 8-23 1 26 0-11 6 8 6 0 2-5 9-12 8 15 7 0 0 4 0 0 1-16 0-4 1 20 0-23 1 19 0-7 2-12 0 23 1-5 1-10 16 11 0-16 4 10 2 7 1-2 2 3 1-15 3 10 2 7 1-1 1-13 2 16 9-11 19-15 2 9 1 10 1 2 1-10 1 7 10 1 1 6 4 1 6-5 1 0 6-23 4 20 1-10 9 15 9-21 7 17 2-16 0 23 2-12 1 4 8 1 5-12 5 13 9 6 1-17 2 5 2 8 2-8 1 8 1 1 1-4 1 6 13-10 1 8 3 1 1-8 2 3 15-3 2 5 0-20 3 10 4 1 0-8 0-2 1 24 0-13 0-13 1 14 6-1 2 1 7-10 1 17 0-23 1 16 1-8 4 7 1 4 1 3 4-2 3 4 1-10 6 12 6 1 1-4 1-8 6 11 1-3 0 3 2-16 6-10 2 28 4-4 1-15 0 5 5 14 1-28 3 12 1 8 3 0 7-11 1 16 0-2 1 5 1-4 14-21 1 0 5 7 1-3 4 12 6 3 7 1 6 1 1-7 1-14 0 5 1 15 1-24 4 27 8-14 6 13 0-3 2-6 1 3 16-6 27-5 3 19 1 1 0-6 9-2 25-3 5 2 24 9 39 28-44-3-20-13-3 17-2-15 0-9-3 20 0-8-1 0-3 5-1-1-5-1-2 3 0-12 0 1-4 11 0 7-1-9-1-9-2 3-1-5-7 8-3-7-2 12-2 1 0-8-1 13-9-18 0 8 0 5-1-4-1-1-1-16-5 19-3 6-1-8 0 5 0-24-1 23 0 4-1-3-3-2-1-16 0 23-3-19-2 5 0 1-3 10-3-10 0-1-2 12 0-18 0 7-3 3 0-1 0 11-3-26-1 11 0-6-6 10 0 5-2 4 0-26-1 27-1-3 0-10-2 9-3-22 0 27-2-17 0-4-1 21 0-13 0-12-2 21-1-8 0 1 0-5-1 11-1 4 0-5 0 4-1 0 0-2-1-3-2-21 0 11-1-1 0 15-1-23 0 20 0-7-1-13-1 17-1-1-1 7-1-16 0-7-1 17-2 1-1-12 0 14-1-9 0-1-1 15-1-15 0-4-1 7-1-2-1 2-1 6 0 1-1-13 0 19-1-14-1 3-1 8-1-1-1-4 0 0-1 3 0 1-1-7 0 11 0-23 0 22-2-14-1-9-1 18-1 5-1-27 0 4-1 17 0 7-1-1 0-15-1-3-1 4 0 14-1-16-1-9 0 5-1 17 0-8-3 4 0 1-1-17-1 11 0 4-2 0-1-13-1 5 0-4-1 4-3 16-2 1-1-10-3 2-1-7 0 10-1-7-1 1-1-10-1-1-2 9-1-7-1 17-1-23-2 10-1 15 0-13 0-1-2-12-1 21-2-14-1 20 0-9-2 5 0 0-1-20-1 17 0-6-2 12-1 1 0-8-1 0 0 2-2-4 0 8-1-18-2-3-4 17 0-3-1-7-1-1 0 10-1 2 0-1-2-8 0 7 0-14-1-1 0 12 0-4 0-9 0 3-1 9 0-6 0-2-1-2-1 20-4 0 0-8-2 3 0-18-1 22-1-1-2-11 0 9-1-17-3-5 0 12-1 3-1 0 0-10 0 6-1 7 0-3-1 9 0 3 0-11-1-13 0 20-1 0 0-10 0-9-1 12-1-12-1 9 0-8 0 22-1-27-2 7-3 14-2-18-1 18-1-5-2 11-1-4 0 3-1-4-4-5-1 9-1-8 0-18 0 3-1 13-3 2-1 0-1-7-3 14 0 0-1-6-3 8-1-21 0 17-2-13 0-9 0 24-1 1-1 0-1-18-2-3 0 9-5-4-1 8-1-20-1 10 0 18-1-8-1-6-2-8-3 1-2 15 0-8-1 15-1-20 0 14-3 6 0-9-1-11-2-7-1 18-1-15-1 6 0-10-1 2-3 22-2 1-1-9-2-15-2 5 0 0-2 11-1 10-3 1-2-5-2-8-2-7-3 15-3-18-5 6-1-6-1-3-1 9-2 16-3-13 0-9 0 13-1-7-2 3 0 1 0-4-1 11-1-5-1 7-4-2-2-7 0 3 0-10-4 11-2 1-1-4-1-9 0 19-4-2-1-12-5-3-1 9-3-5 0 12-1-21-2 6-1 6-1-15 0 14 0 11-1-21-6 12-2-6-1-3 0 16-1 4-1-22 0 13-1-15 0 9-3 12-1-11-1-2 0 7-1 7 0-9 0 1-1-14 0 4 0 11-1 9-1-17 0 11 0-13 0 18 0-6-3-15 0 11-2 2 0 4-1 2 0-11 0-4 0-1-1 2 0 1 0-4-3 12 0 4-3-20-1 0-2 7-1 0 0 5-4-5 0-12-1 25-1-4 0 4 0 0-1-18-1 19-2-3-1 6 0 0-1-12-1 11 0 1 0-25-2 11 0-8-1 2 0 14-1-18 0 14-2-12-1 22 0-12 0 9-3-5 0 8-1-5-3-16 0 6 0-7-1 1-2 7-1 6-1 8-2-13-1 10-3-1-1-10 0 8-1-11 0 7-1-2-1 2 0 5-1 2 0-10-1 6 0 0 0-13 0 5-2 13 0-12-1 6-1 4 0-8-1 8 0-11 0-4 0 11-1-4 0-1-1 0-1 6 0 3-1-12-1-4-1-5 0 2-1 21-1 2-1-8 0-9-1 14 0-6-2-16-1 3-1 5 0 2-1 14-1-1 0-12-1-5 0 13-1 6-1-24 0 8 0 15-1-17-1 12-1-20 0 16-2-4-1 12-1-9 0 8-1-18-2 15-1-1-2 7-1-11 0-9 0-3-1 19 0-10-1 6 0-6-3 13 0-16-2 16 0-28 0 15-1 13 0-15-2 10 0-4 0 6-2-2-1-6-1-10 0-5-1 6 0 0-1 21-1-21 0 8-1-3 0 3-1 12 0-1-3-15-1-8-1 23 0-9 0 0-1 0-1 11-1-25-1 21 0-10-1 7 0-10-1 12-1-12 0-9 0 13-1 13-1-11-3 6-2 5-1-10 0-9-1 5-3 5-3-7-1 11-2-24-1 25 0-4-1-13-1 21-2-22-1 6 0-8 0 0 0 22-1-1-1-25-1 23-1-6-1 7 0 1-1-7 0-19-3 20-1-3-1-2 0 9-2-14-1 3-1-8 0 16-1-13-1 16 0-21-2 20-1-19-1 4-2 19-2-18-3 8 0-2 0-10-1 22 0-9 0 2 0 7-4-1-4 3 0-4-1-8-4 12 0 0-2-1-1-11-1 3-6-6-1-4-1 1-1 15-4 3-1-18 0-6-2 15 0 9-3-11-1-4-1-4-3 7-2-6-1 8-1 5-1-15-1 19 0-1-2 2 0-14-6-7-1 4-1 7-3 2 0 1-1-6-2 9-1 2 0-7-1 4-2-11-3 14-1-3-1-2-5-15-1 4-2 12-5 2-2 0-1-2 0-6-1 4 0 2-2 0-4 5-5-7-2-20-4 17-1-15-15 10-1 4 2 33 12 2 2 0 2 7 0-9 3-1 1 4 1-15 2-2 1 13 2 9 7-5 5-19 0 1 1 11 0 4 2 0 0 1 2-4 0-11 1 19 1-8 1-11 2 7 0 14 1-25 0 0 3 7 0 6 0 8 3-3 1 2 0 0 3-12 5 4 1 15 3-14 6 11 2-9 1-6 0 12 4-6 0 10 2-22 0 20 2-4 1-6 0 14 0-9 2-7 2-2 0-6 0 8 1 1 1-2 0-1 0 8 2-12 2 6 2-3 0 11 2-1 0 0 1-4 0 6 3 5 0-26 2 9 0 1 2-3 2 1 0-5 2 4 2-8 1 2 0 12 2 14 1-24 0-1 2 3 0 12 0-14 0-1 2 23 0-2 1 0 0-5 1-8 0-2 0 11 1 6 1-15 0-4 2-4 0 23 0-14 0 9 1-10 0 6 2-11 1 8 2-3 1 5 0-2 0 0 1-5 0 2 1 6 0 12 0-24 0 19 1-3 2 1 1-17 0 11 0 9 1-17 0 5 0-4 2-9 0 20 2 4 0 3 2-12 2 3 0 0 2-17 1 10 0 17 0-3 1-19 0 23 1-23 1 4 1 0 0 6 2 10 0-8 0-10 0 5 1 15 0-18 0-8 1 24 1-7 1-5 0-13 1 5 0-3 2 11 0 11 0 1 2-11 0 13 0 0 1-2 0-24 1 27 0-5 0-6 1-1 0 7 1-12 2-9 1 0 0 8 2 13 0 1 0-16 0-6 1 11 0 3 1-8 1-8 0 0 0 1 0 22 0-10 1 13 0-11 0-8 0-6 1 20 0-16 1 20 0-24 0 16 1 8 0-7 0-12 1 6 1 11 0-15 2 2 1-7 0 0 1 23 1-23 1 0 1 24 0-12 2-16 0 4 1 8 0 2 1-3 0 10 0-16 0 20 1-19 2 16 0-12 0 13 1 3 0-13 0 1 0 9 1-3 0 4 0-6 0 6 1-1 1-13 0 6 0 13 0-18 1 0 0 9 1 3 0 0 1-1 0 7 2-21 1 6 0-8 1-4 0 0 0 9 0 13 0-23 0 26 1-5 0-8 1 2 0-3 0 7 0-9 1 17 0-22 0-1 0 0 0 6 0-5 1 17 0-2 0-13 0 18 1-10 0-1 0-15 1 20 0-1 0 10 1-26 0 15 0 5 3-17 0-5 1 28 1-7 0 5 1-17 0 7 2 10 0-16 0 7 1-14 1 14 0-6 2 5 0 3 0-20 0 27 0-10 1 10 0-24 0 4 0 12 1 8 0-1 1-1 0 4 0-3 1-12 0-4 0-6 1 5 0-9 0 25 1-14 0-9 0 6 1-2 2-3 0 5 0 10 0 9 1-12 0-3 1-4 0-5 1 25 1-23 1 17 0-2 1-10 0 10 0-2 1 0 0 2 1 6 1-7 1-4 1-2 1-10 1 20 1-23 0 11 0-8 2 15 1 2 0-12 0 14 0-7 1 9 0-5 1-11 1 11 0 4 1-4 0-8 1-4 0 19 0-20 1 20 0-2 2-20 1 10 0 0 1-8 0 5 0 12 0-3 1 1 1-3 1 3 1-5 0 4 0-17 1 15 1 3 0-11 1-1 1 6 1-9 0 3 1-6 1 23 0-13 0 14 1-17 0 17 1-21 1 11 0-11 1-5 0 9 0 11 0-6 1-4 0-6 0 9 0-3 1-9 0 8 1 7 1-6 1 3 1-2 1-3 0 18 1-8 1-5 0 10 1-12 0-4 0 15 0-10 1 7 0-18 1 8 3 9 2-14 0 7 0 3 1 7 1 0 1 1 1-10 0-4 0-9 0 19 1 4 0-7 2 3 0 1 0 6 0-2 1 3 0-6 1 8 2-17 3 3 0-11 1 14 1-8 1 0 2 3 0-1 2 8 1-3 0 0 1 1 0-14 1-2 1 11 0-7 1 11 0-8 1 6 1-15 1 20 1-8 0 13 1 3 0-18 1 12 1-10 1 6 0 5 0 4 0-6 1-9 1-10 1 8 1 8 0-1 1-5 1 3 1-5 0 12 1-19 1 1 1 13 0-13 0-2 1 27 1-7 2 4 0-12 1 7 1-16 0 15 0-13 0 9 0-12 1 7 0 4 1 3 0 0 2 10 1-18 0 19 0-19 1 11 0-12 1 6 2 10 1-16 0 13 1-18 1 19 2-3 1-7 2 1 0-8 3 10 2 13 1-3 0-8 1-10 0-3 1 3 0 5 1-11 0 13 0 13 1-23 0 4 1-4 0 9 0-5 0 16 1-5 1-3 0-13 1 19 0-19 1 7 1-2 0 19 1-6 2-11 1 2 0 12 1 4 0 0 1-1 0-8 1 4 2 2 0 1 0-1 1 0 1-25 0 2 0 18 0 5 0-10 1 4 1 3 1-20 0 4 1 17 1-13 0 1 0 5 1 4 1-17 0 11 1-13 1 7 1 10 2-11 0-6 1 12 1-4 3 4 2 6 0-11 2 4 1 15 0 1 0-26 1 4 0-3 0 18 1-5 2 7 2-17 0 4 3 7 0-3 1 13 3-23 1 14 0 5 2-2 1-22 1 10 1 16 0-5 1 2 2-12 2-9 0 16 0-18 4 2 1 5 0-1 2 19 2-24 1 14 1 0 1-6 1 4 0 14 0-23 1 21 0-11 0 0 1-5 0 18 1-22 0 10 1-4 0 4 1 7 0-12 1 17 1-9 0 1 0-4 1-4 0 10 1-6 0 6 0-16 1 13 1 3 0-4 0 3 0 2 1-19 0 19 1-22 1 8 0 20 0-22 1 10 0-2 0-8 0 17 1-1 1-3 0 5 0-7 1 11 0 0 1-4 0-22 1-1 0 13 0 5 0-13 1 20 1-10 1-5 0 5 1-5 1-1 0-2 0-4 1 2 1 15 0-7 1 7 0 7 0-25 1 20 1-20 1 15 0-1 0-3 1 10 0-19 2 2 0 16 1-15 0 4 0 4 0-12 0 9 1 16 0-2 0-6 0-19 1 27 1-3 0-17 1 0 0 1 1 1 0 7 0 4 0-1 1 4 0-2 0 6 0-5 2-17 0 0 0 2 2-7 0 7 0 18 0 0 1-12 1 11 0-2 0-22 0 7 1 4 0-10 0 15 1 0 1-3 0 11 0 2 0-20 0 16 1-24 0 11 0 17 0-4 1-19 1 14 0-16 2 4 1 22 0-8 0-9 0 3 0 3 0-12 1-2 0 18 0-18 0 14 1 2 0-10 0-6 0 10 1 12 0-14 0-12 0 22 0-19 1 5 0 14 0-2 0-14 1-3 0 24 1-15 1 6 0-10 0 14 1-17 0-5 1 22 0 4 1-15 1 3 0 6 0 3 1 3 0-6 0 2 1-19 0 7 0 9 1 0 0 10 1-28 1 20 0-5 2-12 1 0 0-4 0 26 0-13 1 1 0 14 0-25 1 8 0 8 0-14 1 13 1-18 1 11 1 0 0-7 1-4 0 10 0 6 0-6 1-1 0-7 0 22 1 3 0-17 1 15 0-16 0-5 0 21 1 1 0-7 0 9 1-8 0 6 0-8 0-4 0 1 0-9 1 23 1-11 1-4 0 0 1-10 1 5 1 15 1-4 1 8 0-28 1 1 0 8 1-5 1 5 0 12 0-11 1 8 0-2 0 2 0-7 0 9 1-7 0-10 0-3 1 18 0-8 0 19 1-3 0-14 0-12 1 26 1-24 0 7 0 7 0-10 0 6 1 7 0-19 0 2 0 17 0-9 1 6 0 9 1-2 0-4 0 5 0-23 1 5 0 19 1-21 0 4 0 0 1 18 1-13 1-13 0 17 0 0 1-11 1-5 0 21 1-13 0 9 0-3 3 7 1-21 1 20 3-2 0-12 0 21 0-20 1 3 0 13 0-3 2-11 0-3 0-2 1-1 0 1 1 24 1-23 0 21 0-1 1-5 1-3 0-13 0 1 4 5 0-1 2 4 0-13 1 1 2 5 0 3 2 15 1-2 1 5 0-19 1 14 0-9 1-8 0 12 0-16 0 22 1 1 0-7 1 4 0-13 1 0 0 1 0 13 1-12 1 5 1 1 0 11 2-18 0 1 0 6 2-11 1 6 0 17 1-11 0-14 1 7 0 4 2 13 0-25 0 8 0-1 0 7 0 5 1 2 0 5 0-25 1 9 1-5 0 9 1-2 0 2 1-3 0 10 0-9 0 13 5-14 1-7 0 11 1 7 1 1 1-21 1 21 0-6 2-14 0-6 2 16 1-13 0 24 0 1 0-1 0-11 1-4 1 15 2-14 0-1 0 9 1-7 0 2 1 3 0-9 1 16 1-11 1 3 0-13 0 24 1-7 0-7 2 2 1 0 0-9 0 0 1-2 3 14 0-13 2 5 2-11 1 13 0 14 0-14 1 3 1-2 0-7 1-7 1 27 0-17 2-4 3 14 3-15 1 6 0-9 1 5 1-3 1 12 0-6 0 10 1-13 1-8 0 3 3 26 2-20 2 18 1-3 0-10 1 11 1-4 0-3 1-12 0 19 1 3 1-9 1 4 0-7 4-13 0 16 1 4 0-10 1 7 1 9 1-14 3 9 1-8 2-12 0 22 3-19 1-2 13 4 3 12 1-3 3 7 2-11 3-5 6 1 1 9 3 10 11-25 7 14 15-13-25 35-9 12-1-19-13 19 0 4-6-22-1-1-4 19-1-15 0 1-1-2 0-4-3 12-5 8-2 5-2-15-1-3-1 13-2-9 0 1-1 15 0-12-3-15-1 7-1 12 0 2-1-10-2-3-1-4-7 11-2-8-3-6 0 4 0-6-2 17-1 1-3-12-2-6-2 9-5-2 0 16-1-1-2-11-1 4-1-3-1 5-4-1-2-6 0 1-3-7-2 1-2 13-2-11 0 3 0-5-1-6 0 3-2 4-1 10-1-4-1-11-1 25-2-15-2 2 0-12-1 11 0 0-2 11-2-8-1-13 0 3-2 16-2-19-2 10-6 3 0-8-1 16-1-11-2 2-2-12-2 5-5 4 0-10-1 21-1 1 0 1-2-15 0 14 0-18 0-5-1 6 0-4 0 3 0 1 0 4-1 14-1-1-1-12 0 13-1-17-6 2-1 12 0-22 0 25-1-23-2-1-1 9 0-10-1 18-1-14 0 20 0-16-1 17-1-14-1-7-1 7-1-9 0 25 0-24-3 12 0 5 0-1-4 0-1-4 0-2 0 14-1-26 0 11-1-12 0 18-1-18 0 23-1-22-1 1 0 16-1-13 0 19 0-22-2 16 0 7-1-17 0 21 0-12-1-9-1 13 0-15 0 1-1 5-1 2 0-7-2-1-1 2 0-5-1 11 0-1-1 0 0 6-1-2 0-17 0 8-2 13-3-13-1-1-2 2 0-3 0-4-1 1 0 16-1 7-1-17 0-7 0 12-1-11-1 8-4-8-1 17-1-5 0-6-1 15-1-5-1-3 0 0-1-13-3 25 0-21 0 0-1 6 0-13-1 1-1 14 0-2 0-10-1 8-1 5-1-14-1 23 0-25 0 0-1 27 0-22-1 17 0-21 0 0 0 10-1 8 0-19-1 15-2-2 0 15 0-24-1 16-3-18 0 1-1 5 0-4 0 17-2-6 0-4 0 9 0 4-1-24 0 11 0 10-3-19-1 0 0 1-1 26-1-26-1 23-1-19 0-2 0 0 0-5-1 15 0 2 0-7 0 3-1 0-1 12 0-6 0-2 0-13-1-4-1 2 0 4 0 15 0-15-2 21-1-2 0-25-2 17 0 10-1-26-6 7-1 11-2-3-1-16-2 20-1 0-1 6 0-1-1-17 0 3 0-4-1 4-2 1 0 0-2-2-2-2-1 13 0-17 0-4-1 28-1-6-1 3 0-24 0 4-3 23 0-25-1 14-1-17 0 18-1-12-1 19-1-7-1-8-2 2-1-1 0 5 0 3-2 5-1-10-1-12-1 26-1-16-4-2-1 3 0 16 0-22-1 17-2-12 0 14-2-1 0-16-2-5-1 4 0-2-1 2-1 1-1 8-6 10-1-17 0 8-1-18-1 0-3 6-1 13-2 0 0 2-2-11-1-6 0-1 0 20 0-17-1-1-1 11-3 8-2 0 0-24-1 27 0-20-1 9-1 13 0-16-1-9-1 20-1-21-1 0 0 24-1-23 0 10-1-12-2 8-1 5-1 1-2 6 0-22-1 7-4 19-3-23-1 15 0-7-2-11-3 8-1 5 0 3-1 7 0 1-4-6 0 3-1-8 0-13-3 29 0-26-1 1-3 11 0-1-1 4 0 7-1-1 0-23-1 13 0 13-2-9-2-11 0 20-1-20-1 17-4 5 0-5 0-5-1-1-2-9 0 6 0 5-1-10 0 14 0 4-2-24-1 8 0-9-1 16 0-11 0 4-1 16-2-22-1 17-1 0-1-16-1 3-2-5-1 2-2 22-1-27 0 2-1-1-1 3 0 15-1-5-1-16 0 22-2-14 0-3-2 11-1-16-2 6 0 0-3 18 0-19 0 0 0 10 0-11-1 0 0 16 0-16 0 7 0-2 0-5-4 13 0-7-1 12 0-10-1-8 0 15-1-19 0 14-1-4-1-3 0 3-2 15 0 1-2-7 0-14-3 21 0-22-1 16 0-5-1-8-1 16-2-13-1-7-2 16-2-4-1 2-1-16 0 1 0-2 0 28-3-21-1-7 0 13 0-13 0 28-1-8-1-18 0 3 0 3-1 9 0-17 0 6-3 19-1 2 0-18-2 2-1-6-1 0-1 8 0-4 0 19-1-18-1-2 0 18-3-26 0 26-1-5 0-6-2 2 0-13 0 5 0-2 0 6 0-12-1-1-3 25-1-13-1 3-1 3-1-12 0 2-1 10-2 11 0-9 0-5-1-7-1-4-1-1 0 5-4 1-1-4 0 1-2 11 0 8-1-9 0-13-1 14-1-5 0 16-3-26 0 19 0-9-3 17-2-24-1 3-1 15-1-5 0 6 0-1 0-20 0 5-1 8 0 9 0-17 0-2-1 0-1 5-3 0 0 5-1 10-1 0-1-16-2-1 0 14-1 4 0-25 0 2 0 7-3-1-1-8 0 21-3-19 0 1-2 15 0-11-1 20-1-21-3 2-1 3 0 6-1 1 0 1-3 5-1-14-1-12-1 13-1 11 0 0-4-9 0 5-1-12-1-1-1 13-1-4-1 12-1-2 0-4 0-14 0 10 0-7-2-9 0 23-1-2-1-4-1-6-2 1-1-8-1 16-1-18 0 5 0 19-1-6-1-4 0-12 0 6-1 9-1-3-1-16-3 7 0-9-1 12 0-9-1 10-1-11-1 6 0-7-1 0 0 28-1 0 0-26-1 4-1 17 0-12 0 13-1-6-1 5-1-5 0-13 0 8-1-8-1-1-1 15-1-5-1 2-4-13-2 7-4 12-1-3 0-4-2-1 0-8-3 13-1-20-1 11-1 15 0 0-1-9-2-11-1-6-2 12-3-4-3 21-1-22 0-7-3 24-1-9-2-2 0 15-7-27 0 20-1-12 0-5-1-4-2 8 0 1-1 8-1-9-1-1-4 12-1-6-3 2 0-8-1-7-2 6-2 5-1-10-4 15-1-7-1-7-1 27 0-28-1 7 0-4-1-3-1 20-1 3-1-18-2-2-4-1-3 24-3 1-2-27-2 14-1 3-3 4 0 4-4-3-1-15 0 11-1-6 0-4-1 16-2-2 0-12-5 12-1 0-1-18-2 8-1-9-1 19-45-8 45 17 4 10 16-12 6 16 3 3 9-17 3 9 20-11 0 27 11-9 1-5 10-3 6-3 5 16 2-22 4 7 4 10 19-15 9-1 1 3 4 21 4-15 3-1 16 4 4 9 1-16 3 9 9 3 0-8 13 14 0-13 2 7 10-3 3-4 1 2 0-6 2-7 0 5 1 12 0-4 11-14 1 2 3 1 0 21 3-22 1 15 5-5 1 1 0 9 4-20 4 5 1 10 10-15 8 7 4 11 8-7 1-12 6 2 3-1 3 2 1 1 2-3 7 8 7-10 5 2 9 0 9 2 1 24 3-28 4 12 0-7 1 0 0-5 1 0 3 9 4 4 4 5 0-16 8 8 4-10 8 5 2 8 2-12 2 7 3 5 12 2 1-11 4 14 5 1 3-14 4 6 2-11 3 3 15 10 5-5 0 0 0 10 7-8 7-10 1 4 0 13 3 1 2-10 1-4 0 0 6-2 1 17 4-19 8 4 0 2 2-4 3 2 1 7 2 8 3-15 4-4 4 0 4 7 2-1 1 7 4-11 13 10 1 3 0 0 5-4 0-4 8 22 3-15 0-11 6 16 5-3 2-5 1-2 2 1 2-4 4-2 0 2 4-6 2 1 1 4 1-4 3 1 6 0 0 6 1 7 9 13 2-13 3-15 4 8 2 1 5 8 0-14 7-1 3-2 9 18 2-5 7-12 3 15 8 0 10 9 2-17 2-7 2 12 4-9 2 2 2-5 0 3 3 13 15-17 4 16 2-2 1 4 7-2 11-15 28 4 49 33-257-4-23 2-8 10-34-9-16 0-17 9-54-12-23 1-75 3-56 14-9 1-18-12-26 0-32 7-5 1-104-18 371 34" fill="none" marker-start="url(#d)" marker-mid="url(#d)" marker-end="url(#d)"/>
<path d="M222.5 236.5L222.5 309.5" stroke="#939393" stroke-width="1"/>
<path d="M178.5 288.5L278.5 288.5" stroke="#939393" stroke-width="1"/>
<path d="M178.5 236.5L178.5 309.5" stroke="#8c8c8c" stroke-width="1"/>
<path d="M178.5 309.5L278.5 309.5" stroke="#8c8c8c" stroke-width="1"/>
<text x="211.5" y="282.6" font-size="3" text-anchor="middle" fill="#333">Q1</text>
<text x="232.8" y="282.6" font-size="3" text-anchor="middle" fill="#333">Q2</text>
<text x="211.5" y="297.2" font-size="3" text-anchor="middle" fill="#333">Q4</text>
<text x="232.8" y="297.2" font-size="3" text-anchor="middle" fill="#333">Q3</text>
<text x="175.3" y="243.4" font-size="6.6" text-anchor="end">10<tspan font-size="4" dy="-2.2">5</tspan></text>
<text x="175.3" y="262.4" font-size="6.6" text-anchor="end">10<tspan font-size="4" dy="-2.2">4</tspan></text>
<text x="175.3" y="280.4" font-size="6.6" text-anchor="end">10<tspan font-size="4" dy="-2.2">3</tspan></text>
<text x="175.3" y="296.4" font-size="6.6" text-anchor="end">0</text>
<text x="190.5" y="320.3" font-size="6.6" text-anchor="middle">0</text>
<text x="201.3" y="320.3" font-size="6.6" text-anchor="middle">10<tspan font-size="4" dy="-2.2">2</tspan></text>
<text x="223.3" y="320.3" font-size="6.6" text-anchor="middle">10<tspan font-size="4" dy="-2.2">3</tspan></text>
<text x="247.3" y="320.3" font-size="6.6" text-anchor="middle">10<tspan font-size="4" dy="-2.2">4</tspan></text>
<text x="269.3" y="320.3" font-size="6.6" text-anchor="middle">10<tspan font-size="4" dy="-2.2">5</tspan></text>
<rect x="180.5" y="310.1" width="94" height="0.9" fill="#999" fill-opacity="0.6"/>
<text x="65.2" y="231.1" font-size="8.5" textLength="72.9" lengthAdjust="spacingAndGlyphs">pre-chemotherapy</text>
<text x="187.9" y="231.1" font-size="8.5" textLength="77.2" lengthAdjust="spacingAndGlyphs">post-chemotherapy</text>
<text x="145" y="246.9" font-size="7.4" text-anchor="end" fill="#111">5.2</text>
<text x="269.2" y="246.5" font-size="7.4" text-anchor="end" fill="#111">2.6</text>
<path d="M29.3 242L29.3 295.1" stroke="#444" stroke-width="1.3"/>
<path d="M29.3 237.7L27 242.9L31.6 242.9Z" fill="#111"/>
<text x="32.5" y="304.9" font-size="9" textLength="12.7" lengthAdjust="spacingAndGlyphs" text-anchor="middle" transform="rotate(-90 32.5 304.9)">Gr-1</text>
<text x="53.4" y="332.8" font-size="8.5" textLength="20.8" lengthAdjust="spacingAndGlyphs">CD11b</text>
<path d="M78.3 329.6L200 329.6" stroke="#444" stroke-width="1.3"/>
<path d="M204.3 329.6L198.8 327.4L198.8 331.8Z" fill="#111"/>
<text x="359.5" y="230.7" font-size="9" textLength="10.4" lengthAdjust="spacingAndGlyphs">PB</text>
<path d="M320.5 236.2L320.5 315.5" stroke="#1a1a1a" stroke-width="1.35"/>
<path d="M319.9 314.9L407.5 314.9" stroke="#1a1a1a" stroke-width="1.35"/>
<path d="M317.5 314.8L320.5 314.8" stroke="#1a1a1a" stroke-width="1"/>
<text x="314" y="317.2" font-size="6.8" text-anchor="end">0</text>
<path d="M317.5 299.6L320.5 299.6" stroke="#1a1a1a" stroke-width="1"/>
<text x="314" y="302.0" font-size="6.8" text-anchor="end">5</text>
<path d="M317.5 284.4L320.5 284.4" stroke="#1a1a1a" stroke-width="1"/>
<text x="314" y="286.8" font-size="6.8" text-anchor="end">10</text>
<path d="M317.5 269.3L320.5 269.3" stroke="#1a1a1a" stroke-width="1"/>
<text x="314" y="271.6" font-size="6.8" text-anchor="end">15</text>
<path d="M317.5 254.1L320.5 254.1" stroke="#1a1a1a" stroke-width="1"/>
<text x="314" y="256.5" font-size="6.8" text-anchor="end">20</text>
<path d="M317.5 238.9L320.5 238.9" stroke="#1a1a1a" stroke-width="1"/>
<text x="314" y="241.3" font-size="6.8" text-anchor="end">25</text>
<path d="M328.8 314.9L328.8 318.1" stroke="#1a1a1a" stroke-width="1"/>
<path d="M346.2 314.9L346.2 318.1" stroke="#1a1a1a" stroke-width="1"/>
<path d="M364.2 314.9L364.2 318.1" stroke="#1a1a1a" stroke-width="1"/>
<path d="M381.8 314.9L381.8 318.1" stroke="#1a1a1a" stroke-width="1"/>
<path d="M399.2 314.9L399.2 318.1" stroke="#1a1a1a" stroke-width="1"/>
<ellipse cx="324.3" cy="282.4" rx="1.5" ry="1.15" fill="#34507e"/>
<ellipse cx="327.8" cy="282.4" rx="1.5" ry="1.15" fill="#34507e"/>
<ellipse cx="331.2" cy="282.4" rx="1.5" ry="1.15" fill="#34507e"/>
<ellipse cx="326.1" cy="283.3" rx="1.5" ry="1.15" fill="#34507e"/>
<ellipse cx="326.9" cy="291.9" rx="1.5" ry="1.15" fill="#34507e"/>
<ellipse cx="331.2" cy="295.4" rx="1.5" ry="1.15" fill="#34507e"/>
<ellipse cx="326.9" cy="302.3" rx="1.5" ry="1.15" fill="#34507e"/>
<ellipse cx="332.1" cy="299.7" rx="1.5" ry="1.15" fill="#34507e"/>
<ellipse cx="328.7" cy="293.6" rx="1.5" ry="1.15" fill="#34507e"/>
<ellipse cx="329.5" cy="289.3" rx="1.5" ry="1.15" fill="#34507e"/>
<path d="M322.6 290.5L334.9 290.5" stroke="#000" stroke-width="1.6"/>
<path d="M328.8 288.3L328.8 292.7" stroke="#000" stroke-width="1"/>
<path d="M325.6 288.3L331.9 288.3" stroke="#000" stroke-width="1.1"/>
<path d="M325.6 292.7L331.9 292.7" stroke="#000" stroke-width="1.1"/>
<ellipse cx="346.0" cy="303.1" rx="1.5" ry="1.15" fill="#1d48a0"/>
<ellipse cx="349.4" cy="302.6" rx="1.5" ry="1.15" fill="#1d48a0"/>
<ellipse cx="343.4" cy="305.4" rx="1.5" ry="1.15" fill="#1d48a0"/>
<ellipse cx="351.1" cy="305.4" rx="1.5" ry="1.15" fill="#1d48a0"/>
<ellipse cx="345.1" cy="310.9" rx="1.5" ry="1.15" fill="#1d48a0"/>
<ellipse cx="349.4" cy="308.3" rx="1.5" ry="1.15" fill="#1d48a0"/>
<ellipse cx="346.8" cy="306.6" rx="1.5" ry="1.15" fill="#1d48a0"/>
<ellipse cx="348.0" cy="304.4" rx="1.5" ry="1.15" fill="#1d48a0"/>
<path d="M340.1 305.4L352.4 305.4" stroke="#000" stroke-width="1.6"/>
<path d="M346.2 303.9L346.2 306.9" stroke="#000" stroke-width="1"/>
<path d="M343.1 303.9L349.4 303.9" stroke="#000" stroke-width="1.1"/>
<path d="M343.1 306.9L349.4 306.9" stroke="#000" stroke-width="1.1"/>
<ellipse cx="364.6" cy="281.2" rx="1.5" ry="1.15" fill="#8c84d4"/>
<ellipse cx="365.8" cy="284.1" rx="1.5" ry="1.15" fill="#8c84d4"/>
<ellipse cx="361.5" cy="286.7" rx="1.5" ry="1.15" fill="#8c84d4"/>
<ellipse cx="366.7" cy="287.6" rx="1.5" ry="1.15" fill="#8c84d4"/>
<ellipse cx="363.3" cy="292.8" rx="1.5" ry="1.15" fill="#8c84d4"/>
<ellipse cx="366.7" cy="291.9" rx="1.5" ry="1.15" fill="#8c84d4"/>
<ellipse cx="364.1" cy="297.1" rx="1.5" ry="1.15" fill="#8c84d4"/>
<ellipse cx="365.0" cy="300.6" rx="1.5" ry="1.15" fill="#8c84d4"/>
<ellipse cx="360.7" cy="290.2" rx="1.5" ry="1.15" fill="#8c84d4"/>
<ellipse cx="370.2" cy="290.2" rx="1.5" ry="1.15" fill="#8c84d4"/>
<path d="M358.1 290.7L370.4 290.7" stroke="#000" stroke-width="1.6"/>
<path d="M364.2 288.5L364.2 292.9" stroke="#000" stroke-width="1"/>
<path d="M361.1 288.5L367.4 288.5" stroke="#000" stroke-width="1.1"/>
<path d="M361.1 292.9L367.4 292.9" stroke="#000" stroke-width="1.1"/>
<ellipse cx="379.7" cy="261.6" rx="1.5" ry="1.15" fill="#c0102c"/>
<ellipse cx="384.4" cy="263.0" rx="1.5" ry="1.15" fill="#c0102c"/>
<ellipse cx="381.4" cy="268.0" rx="1.5" ry="1.15" fill="#c0102c"/>
<ellipse cx="380.6" cy="273.7" rx="1.5" ry="1.15" fill="#c0102c"/>
<ellipse cx="384.4" cy="276.3" rx="1.5" ry="1.15" fill="#c0102c"/>
<ellipse cx="379.7" cy="279.4" rx="1.5" ry="1.15" fill="#c0102c"/>
<ellipse cx="384.4" cy="281.5" rx="1.5" ry="1.15" fill="#c0102c"/>
<ellipse cx="379.7" cy="284.1" rx="1.5" ry="1.15" fill="#c0102c"/>
<ellipse cx="382.3" cy="280.7" rx="1.5" ry="1.15" fill="#c0102c"/>
<ellipse cx="378.8" cy="277.2" rx="1.5" ry="1.15" fill="#c0102c"/>
<path d="M375.6 274.1L387.9 274.1" stroke="#000" stroke-width="1.6"/>
<path d="M381.8 271.7L381.8 276.5" stroke="#000" stroke-width="1"/>
<path d="M378.6 271.7L384.9 271.7" stroke="#000" stroke-width="1.1"/>
<path d="M378.6 276.5L384.9 276.5" stroke="#000" stroke-width="1.1"/>
<ellipse cx="396.1" cy="247.8" rx="1.5" ry="1.15" fill="#8e5218"/>
<ellipse cx="401.3" cy="246.1" rx="1.5" ry="1.15" fill="#8e5218"/>
<ellipse cx="398.7" cy="251.8" rx="1.5" ry="1.15" fill="#8e5218"/>
<ellipse cx="394.4" cy="257.0" rx="1.5" ry="1.15" fill="#8e5218"/>
<ellipse cx="401.3" cy="257.0" rx="1.5" ry="1.15" fill="#8e5218"/>
<ellipse cx="397.0" cy="261.6" rx="1.5" ry="1.15" fill="#8e5218"/>
<ellipse cx="401.3" cy="268.0" rx="1.5" ry="1.15" fill="#8e5218"/>
<ellipse cx="396.1" cy="269.8" rx="1.5" ry="1.15" fill="#8e5218"/>
<ellipse cx="398.7" cy="259.0" rx="1.5" ry="1.15" fill="#8e5218"/>
<path d="M393.1 258.2L405.4 258.2" stroke="#000" stroke-width="1.6"/>
<path d="M399.2 255.8L399.2 260.6" stroke="#000" stroke-width="1"/>
<path d="M396.1 255.8L402.4 255.8" stroke="#000" stroke-width="1.1"/>
<path d="M396.1 260.6L402.4 260.6" stroke="#000" stroke-width="1.1"/>
<text x="331.9" y="325" font-size="6.8" text-anchor="end" transform="rotate(-45 331.9 325)">control</text>
<text x="349.4" y="325" font-size="6.8" text-anchor="end" transform="rotate(-45 349.4 325)">chloramphenicol</text>
<text x="367.4" y="325" font-size="6.8" text-anchor="end" transform="rotate(-45 367.4 325)">chloramphenicol+G-CSF</text>
<text x="384.9" y="325" font-size="6.8" text-anchor="end" transform="rotate(-45 384.9 325)">chloramphenicol+IL-19-1</text>
<text x="402.4" y="325" font-size="6.8" text-anchor="end" transform="rotate(-45 402.4 325)">chloramphenicol+IL-19-2</text>
<text x="301" y="274.3" font-size="8.3" textLength="73.5" lengthAdjust="spacingAndGlyphs" text-anchor="middle" transform="rotate(-90 301 274.3)">CD11b+Gr-1+ cells (%)</text>
<path d="M346.2 255L364.2 255" stroke="#555" stroke-width="1.25"/>
<rect x="352.2" y="251.5" width="1.5" height="1.4" fill="#444"/>
<rect x="354.5" y="251.5" width="1.5" height="1.4" fill="#444"/>
<rect x="356.8" y="251.5" width="1.5" height="1.4" fill="#444"/>
<path d="M346.2 249L381.8 249" stroke="#555" stroke-width="1.25"/>
<rect x="360.9" y="245.5" width="1.5" height="1.4" fill="#444"/>
<rect x="363.2" y="245.5" width="1.5" height="1.4" fill="#444"/>
<rect x="365.6" y="245.5" width="1.5" height="1.4" fill="#444"/>
<path d="M364.2 243L381.8 243" stroke="#555" stroke-width="1.25"/>
<rect x="371.1" y="239.5" width="1.5" height="1.4" fill="#444"/>
<rect x="373.4" y="239.5" width="1.5" height="1.4" fill="#444"/>
<path d="M381.8 238L399.2 238" stroke="#555" stroke-width="1.25"/>
<text x="390.5" y="234.9" font-size="5.6" text-anchor="middle" fill="#444">NS</text>
<text x="7.9" y="403.8" font-size="12" font-weight="bold" stroke="#000" stroke-width="0.35" fill="#000">D</text>
<path d="M44.5 412.5L44.5 500" stroke="#1a1a1a" stroke-width="1.35"/>
<path d="M43.9 499.4L104.4 499.4" stroke="#1a1a1a" stroke-width="1.35"/>
<path d="M41.5 499.2L44.5 499.2" stroke="#1a1a1a" stroke-width="1"/>
<text x="38.4" y="501.6" font-size="7" text-anchor="end">0</text>
<path d="M41.5 478.1L44.5 478.1" stroke="#1a1a1a" stroke-width="1"/>
<text x="38.4" y="480.6" font-size="7" text-anchor="end">20</text>
<path d="M41.5 457.1L44.5 457.1" stroke="#1a1a1a" stroke-width="1"/>
<text x="38.4" y="459.5" font-size="7" text-anchor="end">40</text>
<path d="M41.5 436.1L44.5 436.1" stroke="#1a1a1a" stroke-width="1"/>
<text x="38.4" y="438.5" font-size="7" text-anchor="end">60</text>
<path d="M41.5 415L44.5 415" stroke="#1a1a1a" stroke-width="1"/>
<text x="38.4" y="417.4" font-size="7" text-anchor="end">80</text>
<path d="M59 499.4L59 502.6" stroke="#1a1a1a" stroke-width="1"/>
<path d="M89 499.4L89 502.6" stroke="#1a1a1a" stroke-width="1"/>
<ellipse cx="56.1" cy="434.8" rx="1.7" ry="1.25" fill="#8078c8"/>
<ellipse cx="61.9" cy="434.8" rx="1.7" ry="1.25" fill="#8078c8"/>
<ellipse cx="56.1" cy="437.7" rx="1.7" ry="1.25" fill="#8078c8"/>
<ellipse cx="61.9" cy="438.3" rx="1.7" ry="1.25" fill="#8078c8"/>
<ellipse cx="56.1" cy="441.1" rx="1.7" ry="1.25" fill="#8078c8"/>
<ellipse cx="61.9" cy="441.1" rx="1.7" ry="1.25" fill="#8078c8"/>
<ellipse cx="51.5" cy="442.9" rx="1.7" ry="1.25" fill="#8078c8"/>
<ellipse cx="66.5" cy="443.4" rx="1.7" ry="1.25" fill="#8078c8"/>
<ellipse cx="56.1" cy="446.9" rx="1.7" ry="1.25" fill="#8078c8"/>
<ellipse cx="61.3" cy="446.9" rx="1.7" ry="1.25" fill="#8078c8"/>
<ellipse cx="56.1" cy="450.4" rx="1.7" ry="1.25" fill="#8078c8"/>
<ellipse cx="61.9" cy="450.9" rx="1.7" ry="1.25" fill="#8078c8"/>
<ellipse cx="59.0" cy="449.8" rx="1.7" ry="1.25" fill="#8078c8"/>
<ellipse cx="53.2" cy="453.8" rx="1.7" ry="1.25" fill="#8078c8"/>
<ellipse cx="59.0" cy="456.1" rx="1.7" ry="1.25" fill="#8078c8"/>
<ellipse cx="64.8" cy="455.6" rx="1.7" ry="1.25" fill="#8078c8"/>
<ellipse cx="57.8" cy="444.6" rx="1.7" ry="1.25" fill="#8078c8"/>
<ellipse cx="60.1" cy="444.6" rx="1.7" ry="1.25" fill="#8078c8"/>
<ellipse cx="55.5" cy="448.6" rx="1.7" ry="1.25" fill="#8078c8"/>
<ellipse cx="62.5" cy="448.6" rx="1.7" ry="1.25" fill="#8078c8"/>
<ellipse cx="88.8" cy="458.5" rx="1.7" ry="1.25" fill="#1c3c8c"/>
<ellipse cx="85.8" cy="461.2" rx="1.7" ry="1.25" fill="#1c3c8c"/>
<ellipse cx="85.8" cy="462.7" rx="1.7" ry="1.25" fill="#1c3c8c"/>
<ellipse cx="92.3" cy="461.9" rx="1.7" ry="1.25" fill="#1c3c8c"/>
<ellipse cx="92.3" cy="464.2" rx="1.7" ry="1.25" fill="#1c3c8c"/>
<ellipse cx="81.9" cy="466.5" rx="1.7" ry="1.25" fill="#1c3c8c"/>
<ellipse cx="96.5" cy="466.2" rx="1.7" ry="1.25" fill="#1c3c8c"/>
<ellipse cx="88.5" cy="466.5" rx="1.7" ry="1.25" fill="#1c3c8c"/>
<ellipse cx="85.4" cy="468.5" rx="1.7" ry="1.25" fill="#1c3c8c"/>
<ellipse cx="91.5" cy="468.5" rx="1.7" ry="1.25" fill="#1c3c8c"/>
<ellipse cx="81.5" cy="470.0" rx="1.7" ry="1.25" fill="#1c3c8c"/>
<ellipse cx="96.5" cy="470.0" rx="1.7" ry="1.25" fill="#1c3c8c"/>
<ellipse cx="85.4" cy="471.9" rx="1.7" ry="1.25" fill="#1c3c8c"/>
<ellipse cx="91.9" cy="471.5" rx="1.7" ry="1.25" fill="#1c3c8c"/>
<ellipse cx="86.5" cy="473.8" rx="1.7" ry="1.25" fill="#1c3c8c"/>
<ellipse cx="92.3" cy="473.8" rx="1.7" ry="1.25" fill="#1c3c8c"/>
<ellipse cx="82.7" cy="476.2" rx="1.7" ry="1.25" fill="#1c3c8c"/>
<ellipse cx="95.0" cy="476.5" rx="1.7" ry="1.25" fill="#1c3c8c"/>
<ellipse cx="88.8" cy="478.5" rx="1.7" ry="1.25" fill="#1c3c8c"/>
<ellipse cx="85.8" cy="475.4" rx="1.7" ry="1.25" fill="#1c3c8c"/>
<ellipse cx="91.2" cy="475.4" rx="1.7" ry="1.25" fill="#1c3c8c"/>
<path d="M49.3 446L69.3 446" stroke="#000" stroke-width="2"/>
<path d="M78.8 469L99.2 469" stroke="#000" stroke-width="2"/>
<text x="63" y="509.5" font-size="6.8" text-anchor="end" transform="rotate(-45 63 509.5)">pre-chemotherapy</text>
<text x="93" y="509.5" font-size="6.8" text-anchor="end" transform="rotate(-45 93 509.5)">post-chemotherapy</text>
<text x="15.5" y="455.4" font-size="8" textLength="72.5" lengthAdjust="spacingAndGlyphs" text-anchor="middle" transform="rotate(-90 15.5 455.4)">Level of IL-19 in human</text>
<text x="24.3" y="456.3" font-size="8" textLength="44" lengthAdjust="spacingAndGlyphs" text-anchor="middle" transform="rotate(-90 24.3 456.3)">serum (pg/ml)</text>
<path d="M59.2 420.1L89 420.1" stroke="#555" stroke-width="1.25"/>
<rect x="72.2" y="416.6" width="1.5" height="1.4" fill="#444"/>
<rect x="74.5" y="416.6" width="1.5" height="1.4" fill="#444"/>
<path d="M173.3 407.2L173.3 500" stroke="#1a1a1a" stroke-width="1.35"/>
<path d="M172.7 499.4L248.3 499.4" stroke="#1a1a1a" stroke-width="1.35"/>
<path d="M170.3 499.4L173.3 499.4" stroke="#1a1a1a" stroke-width="1"/>
<text x="166.4" y="501.8" font-size="7" text-anchor="end">0</text>
<path d="M170.3 469.8L173.3 469.8" stroke="#1a1a1a" stroke-width="1"/>
<text x="166.4" y="472.2" font-size="7" text-anchor="end">2</text>
<path d="M170.3 440.1L173.3 440.1" stroke="#1a1a1a" stroke-width="1"/>
<text x="166.4" y="442.6" font-size="7" text-anchor="end">4</text>
<path d="M170.3 410.5L173.3 410.5" stroke="#1a1a1a" stroke-width="1"/>
<text x="166.4" y="412.9" font-size="7" text-anchor="end">6</text>
<path d="M192.3 499.4L192.3 502.6" stroke="#1a1a1a" stroke-width="1"/>
<path d="M230.7 499.4L230.7 502.6" stroke="#1a1a1a" stroke-width="1"/>
<ellipse cx="191.8" cy="416.2" rx="1.7" ry="1.2" fill="#8078c8"/>
<ellipse cx="186.4" cy="425.2" rx="1.7" ry="1.2" fill="#8078c8"/>
<ellipse cx="197.9" cy="426.5" rx="1.7" ry="1.2" fill="#8078c8"/>
<ellipse cx="191.8" cy="428.1" rx="1.7" ry="1.2" fill="#8078c8"/>
<ellipse cx="189.1" cy="422.5" rx="1.7" ry="1.2" fill="#8078c8"/>
<ellipse cx="195.2" cy="423.2" rx="1.7" ry="1.2" fill="#8078c8"/>
<ellipse cx="192.5" cy="424.5" rx="1.7" ry="1.2" fill="#8078c8"/>
<ellipse cx="187.5" cy="423" rx="1.7" ry="1.2" fill="#8078c8"/>
<ellipse cx="233.5" cy="455.1" rx="1.7" ry="1.2" fill="#1c3c8c"/>
<ellipse cx="228.2" cy="458.2" rx="1.7" ry="1.2" fill="#1c3c8c"/>
<ellipse cx="236.9" cy="460.9" rx="1.7" ry="1.2" fill="#1c3c8c"/>
<ellipse cx="225.5" cy="462.9" rx="1.7" ry="1.2" fill="#1c3c8c"/>
<ellipse cx="230.9" cy="464.2" rx="1.7" ry="1.2" fill="#1c3c8c"/>
<ellipse cx="230.9" cy="471.2" rx="1.7" ry="1.2" fill="#1c3c8c"/>
<ellipse cx="232" cy="461" rx="1.7" ry="1.2" fill="#1c3c8c"/>
<path d="M179 423.6L205.3 423.6" stroke="#000" stroke-width="1.6"/>
<path d="M185.2 423.6L199.2 423.6" stroke="#000" stroke-width="1.3"/>
<path d="M192.2 421.9L192.2 425.3" stroke="#000" stroke-width="1"/>
<path d="M189 421.9L195.4 421.9" stroke="#000" stroke-width="1.1"/>
<path d="M189 425.3L195.4 425.3" stroke="#000" stroke-width="1.1"/>
<path d="M217.8 461.8L244.3 461.8" stroke="#000" stroke-width="1.6"/>
<path d="M223.5 461.8L238.3 461.8" stroke="#000" stroke-width="1.3"/>
<path d="M230.9 459.4L230.9 464.2" stroke="#000" stroke-width="1"/>
<path d="M227.7 459.4L234.1 459.4" stroke="#000" stroke-width="1.1"/>
<path d="M227.7 464.2L234.1 464.2" stroke="#000" stroke-width="1.1"/>
<text x="195.1" y="509.8" font-size="6.8" text-anchor="end" transform="rotate(-45 195.1 509.8)">pre-chemotherapy</text>
<text x="233.5" y="509.8" font-size="6.8" text-anchor="end" transform="rotate(-45 233.5 509.8)">post-chemotherapy</text>
<text x="157.3" y="453.4" font-size="8.3" textLength="73.6" lengthAdjust="spacingAndGlyphs" text-anchor="middle" transform="rotate(-90 157.3 453.4)">CD11b+Gr-1+ cells (%)</text>
<path d="M192.3 412.7L230.7 412.7" stroke="#555" stroke-width="1.25"/>
<rect x="208.4" y="409.2" width="1.5" height="1.4" fill="#444"/>
<rect x="210.8" y="409.2" width="1.5" height="1.4" fill="#444"/>
<rect x="213.1" y="409.2" width="1.5" height="1.4" fill="#444"/>
<text x="359.5" y="417.1" font-size="9" textLength="12.8" lengthAdjust="spacingAndGlyphs">BM</text>
<path d="M320.5 423.3L320.5 500.1" stroke="#1a1a1a" stroke-width="1.35"/>
<path d="M319.9 499.5L411.2 499.5" stroke="#1a1a1a" stroke-width="1.35"/>
<path d="M317.5 499.5L320.5 499.5" stroke="#1a1a1a" stroke-width="1"/>
<text x="314" y="501.9" font-size="7" text-anchor="end">0</text>
<path d="M317.5 481.1L320.5 481.1" stroke="#1a1a1a" stroke-width="1"/>
<text x="314" y="483.5" font-size="7" text-anchor="end">20</text>
<path d="M317.5 462.6L320.5 462.6" stroke="#1a1a1a" stroke-width="1"/>
<text x="314" y="465.1" font-size="7" text-anchor="end">40</text>
<path d="M317.5 444.1L320.5 444.1" stroke="#1a1a1a" stroke-width="1"/>
<text x="314" y="446.6" font-size="7" text-anchor="end">60</text>
<path d="M317.5 425.7L320.5 425.7" stroke="#1a1a1a" stroke-width="1"/>
<text x="314" y="428.1" font-size="7" text-anchor="end">80</text>
<path d="M329.5 499.5L329.5 502.7" stroke="#1a1a1a" stroke-width="1"/>
<path d="M347.5 499.5L347.5 502.7" stroke="#1a1a1a" stroke-width="1"/>
<path d="M365.5 499.5L365.5 502.7" stroke="#1a1a1a" stroke-width="1"/>
<path d="M383.2 499.5L383.2 502.7" stroke="#1a1a1a" stroke-width="1"/>
<path d="M401.2 499.5L401.2 502.7" stroke="#1a1a1a" stroke-width="1"/>
<ellipse cx="325.2" cy="461.7" rx="1.5" ry="1.15" fill="#34507e"/>
<ellipse cx="329.5" cy="462.9" rx="1.5" ry="1.15" fill="#34507e"/>
<ellipse cx="334.2" cy="462.0" rx="1.5" ry="1.15" fill="#34507e"/>
<ellipse cx="326.9" cy="469.8" rx="1.5" ry="1.15" fill="#34507e"/>
<ellipse cx="332.1" cy="469.4" rx="1.5" ry="1.15" fill="#34507e"/>
<ellipse cx="324.3" cy="465.5" rx="1.5" ry="1.15" fill="#34507e"/>
<ellipse cx="334.7" cy="465.5" rx="1.5" ry="1.15" fill="#34507e"/>
<ellipse cx="329.5" cy="466.3" rx="1.5" ry="1.15" fill="#34507e"/>
<path d="M323.3 465.5L335.7 465.5" stroke="#000" stroke-width="1.6"/>
<path d="M329.5 463.9L329.5 467.1" stroke="#000" stroke-width="1"/>
<path d="M326.3 463.9L332.7 463.9" stroke="#000" stroke-width="1.1"/>
<path d="M326.3 467.1L332.7 467.1" stroke="#000" stroke-width="1.1"/>
<ellipse cx="344.2" cy="490.9" rx="1.5" ry="1.15" fill="#1d48a0"/>
<ellipse cx="351.1" cy="493.1" rx="1.5" ry="1.15" fill="#1d48a0"/>
<ellipse cx="342.5" cy="494.0" rx="1.5" ry="1.15" fill="#1d48a0"/>
<ellipse cx="346.0" cy="496.6" rx="1.5" ry="1.15" fill="#1d48a0"/>
<ellipse cx="352.9" cy="494.4" rx="1.5" ry="1.15" fill="#1d48a0"/>
<ellipse cx="348.5" cy="494.4" rx="1.5" ry="1.15" fill="#1d48a0"/>
<ellipse cx="346.8" cy="493.1" rx="1.5" ry="1.15" fill="#1d48a0"/>
<path d="M341.5 493.7L353.9 493.7" stroke="#000" stroke-width="1.6"/>
<path d="M347.7 492.5L347.7 494.9" stroke="#000" stroke-width="1"/>
<path d="M344.5 492.5L350.9 492.5" stroke="#000" stroke-width="1.1"/>
<path d="M344.5 494.9L350.9 494.9" stroke="#000" stroke-width="1.1"/>
<ellipse cx="361.0" cy="460.6" rx="1.5" ry="1.15" fill="#8c84d4"/>
<ellipse cx="365.3" cy="461.1" rx="1.5" ry="1.15" fill="#8c84d4"/>
<ellipse cx="370.2" cy="461.1" rx="1.5" ry="1.15" fill="#8c84d4"/>
<ellipse cx="359.8" cy="464.6" rx="1.5" ry="1.15" fill="#8c84d4"/>
<ellipse cx="371.0" cy="464.6" rx="1.5" ry="1.15" fill="#8c84d4"/>
<ellipse cx="361.5" cy="468.4" rx="1.5" ry="1.15" fill="#8c84d4"/>
<ellipse cx="365.3" cy="469.4" rx="1.5" ry="1.15" fill="#8c84d4"/>
<ellipse cx="369.3" cy="468.4" rx="1.5" ry="1.15" fill="#8c84d4"/>
<ellipse cx="363.3" cy="462.9" rx="1.5" ry="1.15" fill="#8c84d4"/>
<ellipse cx="367.6" cy="463.7" rx="1.5" ry="1.15" fill="#8c84d4"/>
<path d="M359.1 464.6L371.5 464.6" stroke="#000" stroke-width="1.6"/>
<path d="M365.3 463L365.3 466.2" stroke="#000" stroke-width="1"/>
<path d="M362.1 463L368.5 463" stroke="#000" stroke-width="1.1"/>
<path d="M362.1 466.2L368.5 466.2" stroke="#000" stroke-width="1.1"/>
<ellipse cx="383.7" cy="443.5" rx="1.5" ry="1.15" fill="#c0102c"/>
<ellipse cx="381.4" cy="445.6" rx="1.5" ry="1.15" fill="#c0102c"/>
<ellipse cx="386.1" cy="448.2" rx="1.5" ry="1.15" fill="#c0102c"/>
<ellipse cx="378.8" cy="450.8" rx="1.5" ry="1.15" fill="#c0102c"/>
<ellipse cx="388.3" cy="454.2" rx="1.5" ry="1.15" fill="#c0102c"/>
<ellipse cx="380.6" cy="452.5" rx="1.5" ry="1.15" fill="#c0102c"/>
<ellipse cx="378.8" cy="459.8" rx="1.5" ry="1.15" fill="#c0102c"/>
<ellipse cx="383.7" cy="457.7" rx="1.5" ry="1.15" fill="#c0102c"/>
<ellipse cx="383.7" cy="461.7" rx="1.5" ry="1.15" fill="#c0102c"/>
<ellipse cx="388.3" cy="461.7" rx="1.5" ry="1.15" fill="#c0102c"/>
<path d="M377.8 453L390.2 453" stroke="#000" stroke-width="1.6"/>
<path d="M384 451.1L384 454.9" stroke="#000" stroke-width="1"/>
<path d="M380.8 451.1L387.2 451.1" stroke="#000" stroke-width="1.1"/>
<path d="M380.8 454.9L387.2 454.9" stroke="#000" stroke-width="1.1"/>
<ellipse cx="397.0" cy="443.8" rx="1.5" ry="1.15" fill="#8e5218"/>
<ellipse cx="401.3" cy="443.8" rx="1.5" ry="1.15" fill="#8e5218"/>
<ellipse cx="405.6" cy="443.8" rx="1.5" ry="1.15" fill="#8e5218"/>
<ellipse cx="396.1" cy="447.3" rx="1.5" ry="1.15" fill="#8e5218"/>
<ellipse cx="405.6" cy="447.3" rx="1.5" ry="1.15" fill="#8e5218"/>
<ellipse cx="397.9" cy="450.4" rx="1.5" ry="1.15" fill="#8e5218"/>
<ellipse cx="401.3" cy="451.6" rx="1.5" ry="1.15" fill="#8e5218"/>
<ellipse cx="404.8" cy="451.6" rx="1.5" ry="1.15" fill="#8e5218"/>
<ellipse cx="399.6" cy="449.0" rx="1.5" ry="1.15" fill="#8e5218"/>
<path d="M394.8 447.8L407.2 447.8" stroke="#000" stroke-width="1.6"/>
<path d="M401 446.4L401 449.2" stroke="#000" stroke-width="1"/>
<path d="M397.8 446.4L404.2 446.4" stroke="#000" stroke-width="1.1"/>
<path d="M397.8 449.2L404.2 449.2" stroke="#000" stroke-width="1.1"/>
<text x="333.7" y="510.3" font-size="6.8" text-anchor="end" transform="rotate(-45 333.7 510.3)">control</text>
<text x="351.7" y="510.3" font-size="6.8" text-anchor="end" transform="rotate(-45 351.7 510.3)">chloramphenicol</text>
<text x="369.7" y="510.3" font-size="6.8" text-anchor="end" transform="rotate(-45 369.7 510.3)">chloramphenicol+G-CSF</text>
<text x="387.4" y="510.3" font-size="6.8" text-anchor="end" transform="rotate(-45 387.4 510.3)">chloramphenicol+IL-19-1</text>
<text x="405.4" y="510.3" font-size="6.8" text-anchor="end" transform="rotate(-45 405.4 510.3)">chloramphenicol+IL-19-2</text>
<text x="299" y="461.6" font-size="8.3" textLength="72.6" lengthAdjust="spacingAndGlyphs" text-anchor="middle" transform="rotate(-90 299 461.6)">CD11b+Gr-1+ cells (%)</text>
<path d="M347.8 446.7L365.6 446.7" stroke="#555" stroke-width="1.25"/>
<rect x="353.7" y="443.2" width="1.5" height="1.4" fill="#444"/>
<rect x="356.0" y="443.2" width="1.5" height="1.4" fill="#444"/>
<rect x="358.3" y="443.2" width="1.5" height="1.4" fill="#444"/>
<path d="M347.8 440.4L383.7 440.4" stroke="#555" stroke-width="1.25"/>
<rect x="362.7" y="436.9" width="1.5" height="1.4" fill="#444"/>
<rect x="365.0" y="436.9" width="1.5" height="1.4" fill="#444"/>
<rect x="367.3" y="436.9" width="1.5" height="1.4" fill="#444"/>
<path d="M366.2 434.6L383.7 434.6" stroke="#555" stroke-width="1.25"/>
<rect x="373.1" y="431.1" width="1.5" height="1.4" fill="#444"/>
<rect x="375.3" y="431.1" width="1.5" height="1.4" fill="#444"/>
<path d="M384.1 430L402.2 430" stroke="#555" stroke-width="1.25"/>
<text x="393.1" y="426.9" font-size="5.6" text-anchor="middle" fill="#444">NS</text>
<rect x="0.5" y="0.5" width="519" height="569" fill="none" stroke="#000" stroke-width="1.2"/>
</svg>
</body></html>
